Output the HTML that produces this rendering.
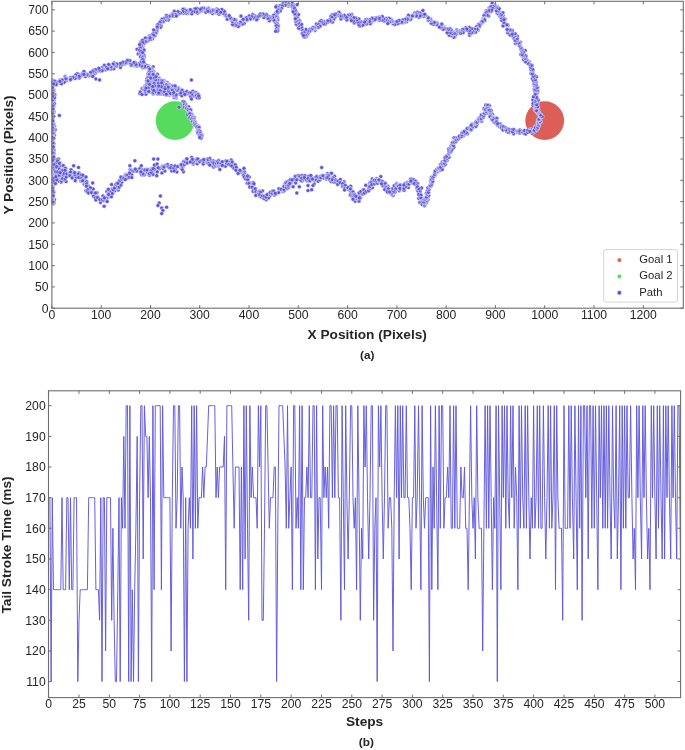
<!DOCTYPE html><html><head><meta charset="utf-8"><title>Trajectory and tail stroke time</title>
<style>html,body{margin:0;padding:0;background:#fff}svg{display:block}text{font-family:"Liberation Sans",sans-serif;fill:#262626}.t{font-size:12.2px}.l{font-size:11.3px}.b{font-weight:bold;font-size:13.7px}.c{font-weight:bold;font-size:11.8px}</style></head><body>
<svg width="685" height="750" viewBox="0 0 685 750">
<rect width="685" height="750" fill="#fff"/>
<defs><clipPath id="c1"><rect x="51.9" y="1.3" width="631.4" height="306.9"/></clipPath><clipPath id="c2"><rect x="48.5" y="390.8" width="632.1" height="306.8"/></clipPath></defs>
<g clip-path="url(#c1)">
<circle cx="544.7" cy="120.6" r="19.4" fill="#db5f57"/>
<circle cx="175.1" cy="120.6" r="19.4" fill="#57db5f"/>
<g fill="#5f57db" stroke="#fff" stroke-width=".45">
<circle cx="52.9" cy="120.5" r="2"/>
<circle cx="53.3" cy="89.1" r="2"/>
<circle cx="52.3" cy="147" r="2"/>
<circle cx="52.4" cy="143.4" r="2"/>
<circle cx="52.4" cy="84.7" r="2"/>
<circle cx="52.3" cy="91.3" r="2"/>
<circle cx="52.3" cy="133.1" r="2"/>
<circle cx="52.6" cy="107.9" r="2"/>
<circle cx="53.3" cy="158.4" r="2"/>
<circle cx="52.5" cy="129.6" r="2"/>
<circle cx="54" cy="202" r="2"/>
<circle cx="52.7" cy="116.2" r="2"/>
<circle cx="52.7" cy="98" r="2"/>
<circle cx="52.7" cy="182" r="2"/>
<circle cx="53.3" cy="102.6" r="2"/>
<circle cx="52.8" cy="126.5" r="2"/>
<circle cx="52.4" cy="148.5" r="2"/>
<circle cx="52.2" cy="105.7" r="2"/>
<circle cx="52.9" cy="165" r="2"/>
<circle cx="52.5" cy="153.2" r="2"/>
<circle cx="52.6" cy="136.6" r="2"/>
<circle cx="53.8" cy="167.4" r="2"/>
<circle cx="53.2" cy="110.5" r="2"/>
<circle cx="52.7" cy="189.4" r="2"/>
<circle cx="52.8" cy="171.2" r="2"/>
<circle cx="54.8" cy="94.8" r="2"/>
<circle cx="52.1" cy="132.3" r="2"/>
<circle cx="52.7" cy="141.1" r="2"/>
<circle cx="52.9" cy="84.9" r="2"/>
<circle cx="53.6" cy="151.6" r="2"/>
<circle cx="52.7" cy="189.4" r="2"/>
<circle cx="53.5" cy="154.3" r="2"/>
<circle cx="53.9" cy="152.5" r="2"/>
<circle cx="52.6" cy="198.1" r="2"/>
<circle cx="52.3" cy="139.3" r="2"/>
<circle cx="52.4" cy="167.7" r="2"/>
<circle cx="54" cy="160.9" r="2"/>
<circle cx="52.2" cy="115.6" r="2"/>
<circle cx="52.2" cy="128.2" r="2"/>
<circle cx="52.3" cy="137.7" r="2"/>
<circle cx="52.4" cy="101" r="2"/>
<circle cx="52.3" cy="176" r="2"/>
<circle cx="52.1" cy="96.2" r="2"/>
<circle cx="53.1" cy="188.9" r="2"/>
<circle cx="53.3" cy="90.1" r="2"/>
<circle cx="52.5" cy="190.4" r="2"/>
<circle cx="52.6" cy="182.4" r="2"/>
<circle cx="52.7" cy="131.9" r="2"/>
<circle cx="54" cy="124.8" r="2"/>
<circle cx="53.8" cy="98.9" r="2"/>
<circle cx="52.2" cy="102" r="2"/>
<circle cx="52.8" cy="140.6" r="2"/>
<circle cx="52.1" cy="153.6" r="2"/>
<circle cx="52.2" cy="132.4" r="2"/>
<circle cx="54.4" cy="126.2" r="2"/>
<circle cx="53.1" cy="166.3" r="2"/>
<circle cx="53.2" cy="144.4" r="2"/>
<circle cx="53.1" cy="86.7" r="2"/>
<circle cx="52.5" cy="192.4" r="2"/>
<circle cx="54.1" cy="179.7" r="2"/>
<circle cx="52.5" cy="129" r="2"/>
<circle cx="52.4" cy="159.3" r="2"/>
<circle cx="52.7" cy="87.8" r="2"/>
<circle cx="52.4" cy="100.3" r="2"/>
<circle cx="52.1" cy="122.5" r="2"/>
<circle cx="52.1" cy="98.9" r="2"/>
<circle cx="52.2" cy="92.7" r="2"/>
<circle cx="52.3" cy="189.3" r="2"/>
<circle cx="52.6" cy="156.8" r="2"/>
<circle cx="52.7" cy="123.4" r="2"/>
<circle cx="53.5" cy="125.5" r="2"/>
<circle cx="53.5" cy="204.1" r="2"/>
<circle cx="52.5" cy="138.2" r="2"/>
<circle cx="52.1" cy="92.8" r="2"/>
<circle cx="52.3" cy="122.8" r="2"/>
<circle cx="54" cy="100.2" r="2"/>
<circle cx="53.3" cy="82.9" r="2"/>
<circle cx="52.5" cy="98.3" r="2"/>
<circle cx="53.3" cy="147.9" r="2"/>
<circle cx="52.3" cy="202.3" r="2"/>
<circle cx="52.4" cy="187.9" r="2"/>
<circle cx="52.8" cy="125.8" r="2"/>
<circle cx="52.3" cy="100.9" r="2"/>
<circle cx="53.3" cy="177.4" r="2"/>
<circle cx="52.4" cy="121.2" r="2"/>
<circle cx="53.9" cy="203.1" r="2"/>
<circle cx="52.7" cy="186.6" r="2"/>
<circle cx="53.8" cy="172.5" r="2"/>
<circle cx="53" cy="108.3" r="2"/>
<circle cx="52.2" cy="83.6" r="2"/>
<circle cx="52.2" cy="83.5" r="2"/>
<circle cx="52.9" cy="166.6" r="2"/>
<circle cx="54.3" cy="199.6" r="2"/>
<circle cx="52.9" cy="203.5" r="2"/>
<circle cx="52.6" cy="199.4" r="2"/>
<circle cx="52.6" cy="108.4" r="2"/>
<circle cx="52.5" cy="104.6" r="2"/>
<circle cx="53.4" cy="192.5" r="2"/>
<circle cx="53.5" cy="185.1" r="2"/>
<circle cx="52.3" cy="180" r="2"/>
<circle cx="53.3" cy="90.6" r="2"/>
<circle cx="54" cy="177.8" r="2"/>
<circle cx="52.7" cy="173.8" r="2"/>
<circle cx="52.2" cy="178.6" r="2"/>
<circle cx="52.9" cy="121.6" r="2"/>
<circle cx="54.6" cy="129.5" r="2"/>
<circle cx="53.6" cy="130.2" r="2"/>
<circle cx="52.6" cy="101.3" r="2"/>
<circle cx="53.4" cy="95.9" r="2"/>
<circle cx="53.9" cy="180.8" r="2"/>
<circle cx="53.4" cy="98.3" r="2"/>
<circle cx="54.6" cy="162.2" r="2"/>
<circle cx="52.6" cy="123.8" r="2"/>
<circle cx="52.3" cy="81.8" r="2"/>
<circle cx="52.8" cy="201.4" r="2"/>
<circle cx="53.1" cy="196.7" r="2"/>
<circle cx="53.4" cy="134.2" r="2"/>
<circle cx="53.4" cy="106.4" r="2"/>
<circle cx="52.3" cy="111.5" r="2"/>
<circle cx="52.8" cy="153.3" r="2"/>
<circle cx="52.6" cy="112.4" r="2"/>
<circle cx="52.4" cy="193.8" r="2"/>
<circle cx="53.4" cy="124.2" r="2"/>
<circle cx="52.4" cy="193" r="2"/>
<circle cx="53.1" cy="132.6" r="2"/>
<circle cx="52.7" cy="146.5" r="2"/>
<circle cx="53.2" cy="145.4" r="2"/>
<circle cx="52.2" cy="102.9" r="2"/>
<circle cx="52.3" cy="80.5" r="2"/>
<circle cx="52.7" cy="139.2" r="2"/>
<circle cx="52.9" cy="170.6" r="2"/>
<circle cx="52.4" cy="144.8" r="2"/>
<circle cx="52.2" cy="149.4" r="2"/>
<circle cx="52.6" cy="150" r="2"/>
<circle cx="52.4" cy="111.1" r="2"/>
<circle cx="53.8" cy="143.5" r="2"/>
<circle cx="52.2" cy="150.2" r="2"/>
<circle cx="54.3" cy="135.4" r="2"/>
<circle cx="53.3" cy="156.6" r="2"/>
<circle cx="52.1" cy="166.6" r="2"/>
<circle cx="53.2" cy="136.5" r="2"/>
<circle cx="52.3" cy="197.7" r="2"/>
<circle cx="53.8" cy="167.4" r="2"/>
<circle cx="53.8" cy="112.4" r="2"/>
<circle cx="53.9" cy="149.9" r="2"/>
<circle cx="52.8" cy="97.1" r="2"/>
<circle cx="52.5" cy="95.2" r="2"/>
<circle cx="52.2" cy="110.1" r="2"/>
<circle cx="52.9" cy="89.1" r="2"/>
<circle cx="53.6" cy="192.1" r="2"/>
<circle cx="52.4" cy="99.3" r="2"/>
<circle cx="53.5" cy="97.9" r="2"/>
<circle cx="52.8" cy="190.4" r="2"/>
<circle cx="52.2" cy="199.1" r="2"/>
<circle cx="55.1" cy="129.8" r="2"/>
<circle cx="52.3" cy="184.1" r="2"/>
<circle cx="53.2" cy="100.2" r="2"/>
<circle cx="52.6" cy="122.4" r="2"/>
<circle cx="52.8" cy="104.5" r="2"/>
<circle cx="53.6" cy="82.4" r="2"/>
<circle cx="52.3" cy="149.3" r="2"/>
<circle cx="52.2" cy="121.4" r="2"/>
<circle cx="52.5" cy="158" r="2"/>
<circle cx="52.1" cy="203.1" r="2"/>
<circle cx="52.6" cy="178.5" r="2"/>
<circle cx="52.2" cy="113.2" r="2"/>
<circle cx="52.2" cy="84.9" r="2"/>
<circle cx="52.9" cy="96.2" r="2"/>
<circle cx="53.7" cy="132.8" r="2"/>
<circle cx="53.1" cy="112.3" r="2"/>
<circle cx="53.2" cy="98.7" r="2"/>
<circle cx="52.7" cy="167.6" r="2"/>
<circle cx="53.5" cy="91.2" r="2"/>
<circle cx="52.6" cy="133.2" r="2"/>
<circle cx="53.4" cy="89.1" r="2"/>
<circle cx="52.6" cy="180.2" r="2"/>
<circle cx="52.3" cy="90.5" r="2"/>
<circle cx="52.4" cy="187.8" r="2"/>
<circle cx="52.8" cy="136.7" r="2"/>
<circle cx="53.2" cy="195.8" r="2"/>
<circle cx="52.9" cy="113.5" r="2"/>
<circle cx="53" cy="109.8" r="2"/>
<circle cx="52.3" cy="93.7" r="2"/>
<circle cx="52.4" cy="105.2" r="2"/>
<circle cx="52.7" cy="119" r="2"/>
<circle cx="53.7" cy="116.2" r="2"/>
<circle cx="52.5" cy="142.5" r="2"/>
<circle cx="52.9" cy="82.3" r="2"/>
<circle cx="53.7" cy="111.3" r="2"/>
<circle cx="52.3" cy="148.9" r="2"/>
<circle cx="54.4" cy="103.7" r="2"/>
<circle cx="52.5" cy="93.3" r="2"/>
<circle cx="53.2" cy="182.4" r="2"/>
<circle cx="52.6" cy="184.3" r="2"/>
<circle cx="53.6" cy="129.1" r="2"/>
<circle cx="52.2" cy="202.8" r="2"/>
<circle cx="52.9" cy="122.8" r="2"/>
<circle cx="53.5" cy="159.5" r="2"/>
<circle cx="52.3" cy="130.6" r="2"/>
<circle cx="52.4" cy="96.2" r="2"/>
<circle cx="52.1" cy="88.8" r="2"/>
<circle cx="52.9" cy="100.4" r="2"/>
<circle cx="53.2" cy="90.6" r="2"/>
<circle cx="53.8" cy="163.8" r="2"/>
<circle cx="52.1" cy="115.2" r="2"/>
<circle cx="52.9" cy="137.4" r="2"/>
<circle cx="52.8" cy="99.7" r="2"/>
<circle cx="52.4" cy="200.2" r="2"/>
<circle cx="52.8" cy="201.6" r="2"/>
<circle cx="52.3" cy="200.7" r="2"/>
<circle cx="52.1" cy="118.7" r="2"/>
<circle cx="52.1" cy="127.7" r="2"/>
<circle cx="52.8" cy="139.3" r="2"/>
<circle cx="52.1" cy="143.1" r="2"/>
<circle cx="52.1" cy="80.6" r="2"/>
<circle cx="52.5" cy="129.9" r="2"/>
<circle cx="52.9" cy="85.2" r="2"/>
<circle cx="52.2" cy="109.1" r="2"/>
<circle cx="53.7" cy="153.2" r="2"/>
<circle cx="52.4" cy="162.2" r="2"/>
<circle cx="52.8" cy="169.5" r="2"/>
<circle cx="52.8" cy="120.8" r="2"/>
<circle cx="53" cy="203.1" r="2"/>
<circle cx="53.4" cy="160.4" r="2"/>
<circle cx="53.2" cy="85.5" r="2"/>
<circle cx="53.9" cy="158.4" r="2"/>
<circle cx="52.3" cy="171.7" r="2"/>
<circle cx="52.6" cy="145.5" r="2"/>
<circle cx="53" cy="143" r="2"/>
<circle cx="53.7" cy="183.3" r="2"/>
<circle cx="53.3" cy="153" r="2"/>
<circle cx="53" cy="166.7" r="2"/>
<circle cx="52.6" cy="108.7" r="2"/>
<circle cx="52.2" cy="125.1" r="2"/>
<circle cx="52.8" cy="93.1" r="2"/>
<circle cx="53.2" cy="158.5" r="2"/>
<circle cx="52.6" cy="158.3" r="2"/>
<circle cx="53.2" cy="80.4" r="2"/>
<circle cx="52.1" cy="179.7" r="2"/>
<circle cx="53.3" cy="146.9" r="2"/>
<circle cx="53.6" cy="162.4" r="2"/>
<circle cx="52.8" cy="111.5" r="2"/>
<circle cx="52.3" cy="89.3" r="2"/>
<circle cx="53.7" cy="105.7" r="2"/>
<circle cx="53.3" cy="172.5" r="2"/>
<circle cx="52.3" cy="127.8" r="2"/>
<circle cx="52.8" cy="139.9" r="2"/>
<circle cx="53.7" cy="157.1" r="2"/>
<circle cx="52.6" cy="160.3" r="2"/>
<circle cx="52.4" cy="111.7" r="2"/>
<circle cx="52.5" cy="172.9" r="2"/>
<circle cx="53.3" cy="81.6" r="2"/>
<circle cx="52.3" cy="87.6" r="2"/>
<circle cx="53.6" cy="166.5" r="2"/>
<circle cx="52.4" cy="164.5" r="2"/>
<circle cx="53.3" cy="138.1" r="2"/>
<circle cx="53.7" cy="138.3" r="2"/>
<circle cx="53.5" cy="104.9" r="2"/>
<circle cx="52.3" cy="202.3" r="2"/>
<circle cx="52.2" cy="137.4" r="2"/>
<circle cx="53.2" cy="182.5" r="2"/>
<circle cx="52.3" cy="113.6" r="2"/>
<circle cx="52.7" cy="106.2" r="2"/>
<circle cx="52.3" cy="152.7" r="2"/>
<circle cx="54.5" cy="97.7" r="2"/>
<circle cx="52.5" cy="96.6" r="2"/>
<circle cx="54.2" cy="182.5" r="2"/>
<circle cx="52.2" cy="167.9" r="2"/>
<circle cx="53" cy="108.9" r="2"/>
<circle cx="52.8" cy="83.1" r="2"/>
<circle cx="54" cy="167.1" r="2"/>
<circle cx="57.6" cy="172.3" r="2"/>
<circle cx="55.7" cy="169.8" r="2"/>
<circle cx="64.1" cy="175.3" r="2"/>
<circle cx="54" cy="172" r="2"/>
<circle cx="55.4" cy="163.4" r="2"/>
<circle cx="65.1" cy="169.8" r="2"/>
<circle cx="57.5" cy="162.6" r="2"/>
<circle cx="58.5" cy="159.1" r="2"/>
<circle cx="61.1" cy="182.3" r="2"/>
<circle cx="58.3" cy="168.8" r="2"/>
<circle cx="54.6" cy="173.6" r="2"/>
<circle cx="55.2" cy="173.9" r="2"/>
<circle cx="65.2" cy="168.8" r="2"/>
<circle cx="57" cy="171.5" r="2"/>
<circle cx="56.3" cy="177.4" r="2"/>
<circle cx="58.5" cy="181" r="2"/>
<circle cx="63.7" cy="169.5" r="2"/>
<circle cx="61.6" cy="181.2" r="2"/>
<circle cx="60.6" cy="166.5" r="2"/>
<circle cx="62.6" cy="179" r="2"/>
<circle cx="59.4" cy="174.2" r="2"/>
<circle cx="63" cy="169.7" r="2"/>
<circle cx="54.6" cy="169.1" r="2"/>
<circle cx="65.1" cy="175.5" r="2"/>
<circle cx="58.1" cy="175.6" r="2"/>
<circle cx="57.6" cy="171.2" r="2"/>
<circle cx="57.1" cy="159.7" r="2"/>
<circle cx="61.9" cy="170.2" r="2"/>
<circle cx="58.7" cy="177.5" r="2"/>
<circle cx="56" cy="173.6" r="2"/>
<circle cx="64.9" cy="174.6" r="2"/>
<circle cx="60" cy="173.8" r="2"/>
<circle cx="66" cy="181.6" r="2"/>
<circle cx="59.4" cy="173.9" r="2"/>
<circle cx="55.1" cy="174.3" r="2"/>
<circle cx="58.1" cy="174.8" r="2"/>
<circle cx="57.1" cy="173.8" r="2"/>
<circle cx="60.8" cy="177.7" r="2"/>
<circle cx="59" cy="167.1" r="2"/>
<circle cx="59" cy="167.7" r="2"/>
<circle cx="58.1" cy="171.3" r="2"/>
<circle cx="54.7" cy="170" r="2"/>
<circle cx="55.5" cy="183.6" r="2"/>
<circle cx="60" cy="165.8" r="2"/>
<circle cx="56.6" cy="165.5" r="2"/>
<circle cx="57.3" cy="172" r="2"/>
<circle cx="59.4" cy="176.5" r="2"/>
<circle cx="65.4" cy="177.3" r="2"/>
<circle cx="54.3" cy="164.6" r="2"/>
<circle cx="54.4" cy="169.6" r="2"/>
<circle cx="59.7" cy="162.7" r="2"/>
<circle cx="61" cy="176.5" r="2"/>
<circle cx="65.1" cy="172" r="2"/>
<circle cx="63.9" cy="179.4" r="2"/>
<circle cx="57" cy="162.5" r="2"/>
<circle cx="55.3" cy="175.1" r="2"/>
<circle cx="62.2" cy="176.5" r="2"/>
<circle cx="65.3" cy="170.9" r="2"/>
<circle cx="63.2" cy="165.6" r="2"/>
<circle cx="59.5" cy="170.8" r="2"/>
<circle cx="63.4" cy="171.6" r="2"/>
<circle cx="56.8" cy="177.7" r="2"/>
<circle cx="57.6" cy="168.9" r="2"/>
<circle cx="55.5" cy="171.9" r="2"/>
<circle cx="62.4" cy="178.4" r="2"/>
<circle cx="55.3" cy="177" r="2"/>
<circle cx="61" cy="174.3" r="2"/>
<circle cx="58.7" cy="173" r="2"/>
<circle cx="54.1" cy="178" r="2"/>
<circle cx="57.6" cy="161" r="2"/>
<circle cx="61.7" cy="174.8" r="2"/>
<circle cx="64.6" cy="168.7" r="2"/>
<circle cx="57" cy="172.5" r="2"/>
<circle cx="65.5" cy="170.9" r="2"/>
<circle cx="54.3" cy="168.3" r="2"/>
<circle cx="60" cy="169.9" r="2"/>
<circle cx="57.1" cy="167.8" r="2"/>
<circle cx="62" cy="174.9" r="2"/>
<circle cx="54.4" cy="170.5" r="2"/>
<circle cx="58.1" cy="166" r="2"/>
<circle cx="56.4" cy="175.3" r="2"/>
<circle cx="63.6" cy="171.6" r="2"/>
<circle cx="56.5" cy="166.7" r="2"/>
<circle cx="65.6" cy="168.8" r="2"/>
<circle cx="56.8" cy="179.7" r="2"/>
<circle cx="56.7" cy="172.2" r="2"/>
<circle cx="65.4" cy="168.2" r="2"/>
<circle cx="59.9" cy="173.2" r="2"/>
<circle cx="59" cy="175" r="2"/>
<circle cx="55.2" cy="171.5" r="2"/>
<circle cx="55.9" cy="176.7" r="2"/>
<circle cx="55.9" cy="171.8" r="2"/>
<circle cx="59.3" cy="169.1" r="2"/>
<circle cx="61.5" cy="171.2" r="2"/>
<circle cx="59.3" cy="175.2" r="2"/>
<circle cx="61.3" cy="171.5" r="2"/>
<circle cx="57.8" cy="172" r="2"/>
<circle cx="61.1" cy="170.8" r="2"/>
<circle cx="61.2" cy="171" r="2"/>
<circle cx="61.7" cy="173.7" r="2"/>
<circle cx="62.6" cy="170.5" r="2"/>
<circle cx="60.1" cy="172.7" r="2"/>
<circle cx="63.7" cy="174.9" r="2"/>
<circle cx="65.5" cy="173.9" r="2"/>
<circle cx="64.2" cy="173.4" r="2"/>
<circle cx="68.2" cy="175.7" r="2"/>
<circle cx="65" cy="170.3" r="2"/>
<circle cx="65.1" cy="178.9" r="2"/>
<circle cx="66.3" cy="176.9" r="2"/>
<circle cx="66.9" cy="173.9" r="2"/>
<circle cx="70.2" cy="172.1" r="2"/>
<circle cx="69.9" cy="173.4" r="2"/>
<circle cx="73.5" cy="171.9" r="2"/>
<circle cx="69.6" cy="175.2" r="2"/>
<circle cx="71.4" cy="172.7" r="2"/>
<circle cx="71" cy="169.7" r="2"/>
<circle cx="70.6" cy="172.1" r="2"/>
<circle cx="70.1" cy="175.7" r="2"/>
<circle cx="73.8" cy="176.2" r="2"/>
<circle cx="74.1" cy="173.4" r="2"/>
<circle cx="72.1" cy="177.9" r="2"/>
<circle cx="76.8" cy="173.5" r="2"/>
<circle cx="77.2" cy="174.9" r="2"/>
<circle cx="75" cy="174.8" r="2"/>
<circle cx="74.6" cy="172.7" r="2"/>
<circle cx="79" cy="172.9" r="2"/>
<circle cx="78.5" cy="174" r="2"/>
<circle cx="76.3" cy="178.1" r="2"/>
<circle cx="78.8" cy="177.6" r="2"/>
<circle cx="81.2" cy="174.9" r="2"/>
<circle cx="75.2" cy="180.7" r="2"/>
<circle cx="80.9" cy="181.1" r="2"/>
<circle cx="81.9" cy="178.1" r="2"/>
<circle cx="82.9" cy="175.2" r="2"/>
<circle cx="83.6" cy="179.6" r="2"/>
<circle cx="84.1" cy="184" r="2"/>
<circle cx="84.5" cy="179.2" r="2"/>
<circle cx="82" cy="181" r="2"/>
<circle cx="84.7" cy="180.8" r="2"/>
<circle cx="83.2" cy="180.6" r="2"/>
<circle cx="85.3" cy="182.9" r="2"/>
<circle cx="82.6" cy="180.8" r="2"/>
<circle cx="86.9" cy="183.1" r="2"/>
<circle cx="86.5" cy="185.3" r="2"/>
<circle cx="86.7" cy="181.8" r="2"/>
<circle cx="88" cy="185.7" r="2"/>
<circle cx="86.5" cy="184.7" r="2"/>
<circle cx="86.6" cy="183.9" r="2"/>
<circle cx="86" cy="190.8" r="2"/>
<circle cx="86.4" cy="186.3" r="2"/>
<circle cx="92.7" cy="182.9" r="2"/>
<circle cx="89.8" cy="191.2" r="2"/>
<circle cx="93.2" cy="189" r="2"/>
<circle cx="90.4" cy="187.8" r="2"/>
<circle cx="89.1" cy="190.8" r="2"/>
<circle cx="87.6" cy="189.7" r="2"/>
<circle cx="93.2" cy="193.2" r="2"/>
<circle cx="90" cy="192" r="2"/>
<circle cx="87.2" cy="191.8" r="2"/>
<circle cx="88.5" cy="193" r="2"/>
<circle cx="93.1" cy="194.6" r="2"/>
<circle cx="95.4" cy="193.8" r="2"/>
<circle cx="95" cy="193.3" r="2"/>
<circle cx="91.6" cy="192.6" r="2"/>
<circle cx="94.6" cy="193.8" r="2"/>
<circle cx="96.9" cy="192.8" r="2"/>
<circle cx="95.6" cy="198" r="2"/>
<circle cx="95.1" cy="197.4" r="2"/>
<circle cx="95.5" cy="193" r="2"/>
<circle cx="93.6" cy="196.2" r="2"/>
<circle cx="97.5" cy="197.1" r="2"/>
<circle cx="95.2" cy="197.8" r="2"/>
<circle cx="95.9" cy="200.1" r="2"/>
<circle cx="97.6" cy="197.5" r="2"/>
<circle cx="102" cy="199.6" r="2"/>
<circle cx="100.5" cy="202.5" r="2"/>
<circle cx="99.9" cy="199.6" r="2"/>
<circle cx="102.3" cy="199.9" r="2"/>
<circle cx="104" cy="200.4" r="2"/>
<circle cx="105.6" cy="199.9" r="2"/>
<circle cx="103" cy="195.9" r="2"/>
<circle cx="106.1" cy="199.2" r="2"/>
<circle cx="105.3" cy="197.6" r="2"/>
<circle cx="108" cy="197.1" r="2"/>
<circle cx="107.2" cy="201.6" r="2"/>
<circle cx="109.7" cy="195.1" r="2"/>
<circle cx="106.9" cy="191.6" r="2"/>
<circle cx="104.4" cy="197.9" r="2"/>
<circle cx="107.9" cy="193.8" r="2"/>
<circle cx="109" cy="195.7" r="2"/>
<circle cx="108.6" cy="194.9" r="2"/>
<circle cx="108.4" cy="193.7" r="2"/>
<circle cx="111.4" cy="196.8" r="2"/>
<circle cx="110.9" cy="191.7" r="2"/>
<circle cx="112.4" cy="193.4" r="2"/>
<circle cx="108.7" cy="194.5" r="2"/>
<circle cx="108.3" cy="189.3" r="2"/>
<circle cx="114.8" cy="190.8" r="2"/>
<circle cx="113.3" cy="189" r="2"/>
<circle cx="112.3" cy="188.9" r="2"/>
<circle cx="113.3" cy="189.8" r="2"/>
<circle cx="118.2" cy="190" r="2"/>
<circle cx="111.6" cy="184.6" r="2"/>
<circle cx="114.9" cy="186.7" r="2"/>
<circle cx="117" cy="188.2" r="2"/>
<circle cx="114.6" cy="188.1" r="2"/>
<circle cx="118.2" cy="187.6" r="2"/>
<circle cx="117.7" cy="186.3" r="2"/>
<circle cx="119.3" cy="187" r="2"/>
<circle cx="116.1" cy="184.2" r="2"/>
<circle cx="116.9" cy="183.2" r="2"/>
<circle cx="119.9" cy="183.5" r="2"/>
<circle cx="121" cy="184.9" r="2"/>
<circle cx="119.5" cy="180.3" r="2"/>
<circle cx="121.9" cy="182.1" r="2"/>
<circle cx="117.8" cy="183.2" r="2"/>
<circle cx="122.6" cy="179.3" r="2"/>
<circle cx="120.7" cy="179.8" r="2"/>
<circle cx="119.9" cy="180.4" r="2"/>
<circle cx="121.4" cy="179.1" r="2"/>
<circle cx="123.3" cy="178.4" r="2"/>
<circle cx="120.9" cy="177.1" r="2"/>
<circle cx="124.1" cy="176.9" r="2"/>
<circle cx="123.8" cy="178.5" r="2"/>
<circle cx="125.6" cy="174.6" r="2"/>
<circle cx="126.8" cy="174.9" r="2"/>
<circle cx="125.9" cy="175.2" r="2"/>
<circle cx="127.5" cy="177.9" r="2"/>
<circle cx="125.3" cy="179.6" r="2"/>
<circle cx="129.5" cy="173.7" r="2"/>
<circle cx="126.3" cy="175.3" r="2"/>
<circle cx="127.5" cy="175.1" r="2"/>
<circle cx="130.8" cy="174.7" r="2"/>
<circle cx="131.6" cy="174.6" r="2"/>
<circle cx="130.2" cy="169.8" r="2"/>
<circle cx="129.4" cy="177.2" r="2"/>
<circle cx="131.8" cy="177.6" r="2"/>
<circle cx="131.3" cy="170.3" r="2"/>
<circle cx="129.5" cy="173.1" r="2"/>
<circle cx="134.8" cy="170.5" r="2"/>
<circle cx="132.7" cy="171" r="2"/>
<circle cx="133.9" cy="170.9" r="2"/>
<circle cx="135.8" cy="171.1" r="2"/>
<circle cx="137.3" cy="170" r="2"/>
<circle cx="136.9" cy="171.1" r="2"/>
<circle cx="135.3" cy="169.1" r="2"/>
<circle cx="140.3" cy="172.5" r="2"/>
<circle cx="139.8" cy="168.4" r="2"/>
<circle cx="142.8" cy="173.5" r="2"/>
<circle cx="140.7" cy="171.8" r="2"/>
<circle cx="140.5" cy="172.5" r="2"/>
<circle cx="142.1" cy="170.1" r="2"/>
<circle cx="140.6" cy="171.6" r="2"/>
<circle cx="144.5" cy="174.7" r="2"/>
<circle cx="141.7" cy="174.8" r="2"/>
<circle cx="143" cy="174.7" r="2"/>
<circle cx="142.9" cy="173.7" r="2"/>
<circle cx="141" cy="171.9" r="2"/>
<circle cx="147" cy="172.1" r="2"/>
<circle cx="145.8" cy="169.6" r="2"/>
<circle cx="144.9" cy="170.5" r="2"/>
<circle cx="149.8" cy="172.3" r="2"/>
<circle cx="148.3" cy="170.2" r="2"/>
<circle cx="148.1" cy="169.6" r="2"/>
<circle cx="144.9" cy="169.9" r="2"/>
<circle cx="147" cy="170" r="2"/>
<circle cx="149.5" cy="175.2" r="2"/>
<circle cx="150.7" cy="173.7" r="2"/>
<circle cx="152.9" cy="173.1" r="2"/>
<circle cx="151.9" cy="168.7" r="2"/>
<circle cx="150.9" cy="170.3" r="2"/>
<circle cx="149.3" cy="173.7" r="2"/>
<circle cx="153.1" cy="170.6" r="2"/>
<circle cx="153" cy="174.4" r="2"/>
<circle cx="151.1" cy="172.4" r="2"/>
<circle cx="152.1" cy="169.9" r="2"/>
<circle cx="155.1" cy="165.9" r="2"/>
<circle cx="154.9" cy="169.3" r="2"/>
<circle cx="154.5" cy="164.9" r="2"/>
<circle cx="153.3" cy="168.6" r="2"/>
<circle cx="158.5" cy="168.6" r="2"/>
<circle cx="158" cy="168.6" r="2"/>
<circle cx="157.1" cy="164" r="2"/>
<circle cx="159.5" cy="168.8" r="2"/>
<circle cx="158.3" cy="167.7" r="2"/>
<circle cx="161.9" cy="172.9" r="2"/>
<circle cx="164.9" cy="171.1" r="2"/>
<circle cx="157.2" cy="171.9" r="2"/>
<circle cx="162.3" cy="166.2" r="2"/>
<circle cx="162.2" cy="167.5" r="2"/>
<circle cx="163.2" cy="168.6" r="2"/>
<circle cx="165.2" cy="165.4" r="2"/>
<circle cx="163.8" cy="166.7" r="2"/>
<circle cx="164.1" cy="167.1" r="2"/>
<circle cx="168.5" cy="167.1" r="2"/>
<circle cx="167.4" cy="166.3" r="2"/>
<circle cx="167.2" cy="164.4" r="2"/>
<circle cx="167.8" cy="164.7" r="2"/>
<circle cx="168.3" cy="166.7" r="2"/>
<circle cx="169.4" cy="167.8" r="2"/>
<circle cx="171.4" cy="165.7" r="2"/>
<circle cx="171.7" cy="170.9" r="2"/>
<circle cx="170.9" cy="167.7" r="2"/>
<circle cx="174.2" cy="168.7" r="2"/>
<circle cx="174.2" cy="167.6" r="2"/>
<circle cx="174.9" cy="169.3" r="2"/>
<circle cx="176.9" cy="172" r="2"/>
<circle cx="175.3" cy="168.9" r="2"/>
<circle cx="173.7" cy="168.1" r="2"/>
<circle cx="175" cy="165.9" r="2"/>
<circle cx="174.1" cy="171" r="2"/>
<circle cx="177.7" cy="166.6" r="2"/>
<circle cx="183.4" cy="171.7" r="2"/>
<circle cx="181.3" cy="168.2" r="2"/>
<circle cx="182.5" cy="167.4" r="2"/>
<circle cx="180.6" cy="165.1" r="2"/>
<circle cx="182.2" cy="169.6" r="2"/>
<circle cx="181.4" cy="165.6" r="2"/>
<circle cx="182.1" cy="166.1" r="2"/>
<circle cx="183.8" cy="161.6" r="2"/>
<circle cx="181.4" cy="164.6" r="2"/>
<circle cx="185.8" cy="163.4" r="2"/>
<circle cx="186.1" cy="159.7" r="2"/>
<circle cx="184.4" cy="164.7" r="2"/>
<circle cx="186.2" cy="160.5" r="2"/>
<circle cx="186.2" cy="163.3" r="2"/>
<circle cx="185.5" cy="161.9" r="2"/>
<circle cx="186.8" cy="159.6" r="2"/>
<circle cx="187.2" cy="162.9" r="2"/>
<circle cx="186.9" cy="158.8" r="2"/>
<circle cx="192.7" cy="159.3" r="2"/>
<circle cx="191.7" cy="157.4" r="2"/>
<circle cx="193.2" cy="163.9" r="2"/>
<circle cx="191.8" cy="161.2" r="2"/>
<circle cx="191.6" cy="160.1" r="2"/>
<circle cx="193.4" cy="162.4" r="2"/>
<circle cx="193" cy="162.3" r="2"/>
<circle cx="194.7" cy="160.4" r="2"/>
<circle cx="192.5" cy="159.4" r="2"/>
<circle cx="198.2" cy="159.2" r="2"/>
<circle cx="197.2" cy="163.7" r="2"/>
<circle cx="196.6" cy="158.7" r="2"/>
<circle cx="196.2" cy="159.7" r="2"/>
<circle cx="199.2" cy="161.8" r="2"/>
<circle cx="197.3" cy="160.1" r="2"/>
<circle cx="196.8" cy="159.7" r="2"/>
<circle cx="203.7" cy="160.1" r="2"/>
<circle cx="197.8" cy="159" r="2"/>
<circle cx="199.9" cy="161.7" r="2"/>
<circle cx="204.4" cy="161.8" r="2"/>
<circle cx="204.9" cy="161.2" r="2"/>
<circle cx="204.6" cy="160.1" r="2"/>
<circle cx="201.8" cy="160.6" r="2"/>
<circle cx="207.6" cy="161.4" r="2"/>
<circle cx="203.2" cy="164" r="2"/>
<circle cx="203.4" cy="161.2" r="2"/>
<circle cx="207.2" cy="162.8" r="2"/>
<circle cx="203.8" cy="159.6" r="2"/>
<circle cx="208.7" cy="159.2" r="2"/>
<circle cx="208.2" cy="163.5" r="2"/>
<circle cx="207.5" cy="158.9" r="2"/>
<circle cx="209" cy="163.3" r="2"/>
<circle cx="208.2" cy="159.7" r="2"/>
<circle cx="210" cy="158.5" r="2"/>
<circle cx="213.2" cy="163.3" r="2"/>
<circle cx="213.5" cy="167" r="2"/>
<circle cx="211.1" cy="160.5" r="2"/>
<circle cx="211.9" cy="161.6" r="2"/>
<circle cx="213.5" cy="160.9" r="2"/>
<circle cx="215.8" cy="166" r="2"/>
<circle cx="215.8" cy="162.4" r="2"/>
<circle cx="219.4" cy="164" r="2"/>
<circle cx="216.4" cy="161.8" r="2"/>
<circle cx="218.6" cy="160.6" r="2"/>
<circle cx="217.6" cy="164.8" r="2"/>
<circle cx="216.5" cy="163.7" r="2"/>
<circle cx="222.3" cy="162.9" r="2"/>
<circle cx="212.3" cy="165.4" r="2"/>
<circle cx="212.7" cy="162.5" r="2"/>
<circle cx="209.7" cy="165" r="2"/>
<circle cx="214.7" cy="163.5" r="2"/>
<circle cx="215.1" cy="165.2" r="2"/>
<circle cx="213.9" cy="164.1" r="2"/>
<circle cx="213.9" cy="163.1" r="2"/>
<circle cx="218.6" cy="166" r="2"/>
<circle cx="218.5" cy="164.5" r="2"/>
<circle cx="216.4" cy="163.2" r="2"/>
<circle cx="217.5" cy="161.8" r="2"/>
<circle cx="218.3" cy="164" r="2"/>
<circle cx="218.5" cy="163" r="2"/>
<circle cx="219.8" cy="169.4" r="2"/>
<circle cx="220.7" cy="164.9" r="2"/>
<circle cx="221.2" cy="164" r="2"/>
<circle cx="221.2" cy="163.5" r="2"/>
<circle cx="221.7" cy="164.2" r="2"/>
<circle cx="221" cy="163.2" r="2"/>
<circle cx="225.3" cy="166.2" r="2"/>
<circle cx="222.4" cy="161.7" r="2"/>
<circle cx="222.3" cy="165.4" r="2"/>
<circle cx="225.9" cy="160.9" r="2"/>
<circle cx="230" cy="164.6" r="2"/>
<circle cx="227.3" cy="161.1" r="2"/>
<circle cx="230.3" cy="161.8" r="2"/>
<circle cx="227.1" cy="163.6" r="2"/>
<circle cx="226.7" cy="163.4" r="2"/>
<circle cx="231.3" cy="160" r="2"/>
<circle cx="230.5" cy="162.3" r="2"/>
<circle cx="226.9" cy="161.3" r="2"/>
<circle cx="233.3" cy="164.5" r="2"/>
<circle cx="232.1" cy="162.6" r="2"/>
<circle cx="232.6" cy="162" r="2"/>
<circle cx="232.7" cy="164.4" r="2"/>
<circle cx="228.7" cy="164.4" r="2"/>
<circle cx="232" cy="162.1" r="2"/>
<circle cx="230.5" cy="165" r="2"/>
<circle cx="233.6" cy="168.2" r="2"/>
<circle cx="234.5" cy="165.5" r="2"/>
<circle cx="235.3" cy="164.7" r="2"/>
<circle cx="231.8" cy="166.1" r="2"/>
<circle cx="234.1" cy="168.1" r="2"/>
<circle cx="236.8" cy="169.6" r="2"/>
<circle cx="236.3" cy="167.2" r="2"/>
<circle cx="236" cy="170.3" r="2"/>
<circle cx="243.6" cy="170.9" r="2"/>
<circle cx="240.7" cy="171.2" r="2"/>
<circle cx="240.9" cy="172" r="2"/>
<circle cx="239.6" cy="170.2" r="2"/>
<circle cx="243.8" cy="170.2" r="2"/>
<circle cx="240" cy="170.4" r="2"/>
<circle cx="238.1" cy="173.5" r="2"/>
<circle cx="244" cy="168.3" r="2"/>
<circle cx="243.5" cy="172.8" r="2"/>
<circle cx="243.2" cy="173.3" r="2"/>
<circle cx="244.6" cy="172.4" r="2"/>
<circle cx="244.4" cy="174.2" r="2"/>
<circle cx="243.5" cy="175.4" r="2"/>
<circle cx="244.6" cy="177.8" r="2"/>
<circle cx="247.4" cy="175.4" r="2"/>
<circle cx="244.3" cy="176.9" r="2"/>
<circle cx="247" cy="177.5" r="2"/>
<circle cx="245.8" cy="179.1" r="2"/>
<circle cx="249.2" cy="176.9" r="2"/>
<circle cx="247.2" cy="176.2" r="2"/>
<circle cx="247.8" cy="179.8" r="2"/>
<circle cx="247.5" cy="176.1" r="2"/>
<circle cx="247.3" cy="183.2" r="2"/>
<circle cx="249.6" cy="182.7" r="2"/>
<circle cx="250" cy="183.4" r="2"/>
<circle cx="249" cy="183.5" r="2"/>
<circle cx="252.3" cy="183.6" r="2"/>
<circle cx="253.6" cy="184.5" r="2"/>
<circle cx="253.3" cy="182.8" r="2"/>
<circle cx="252.1" cy="186.6" r="2"/>
<circle cx="253.9" cy="183.8" r="2"/>
<circle cx="250.1" cy="186.5" r="2"/>
<circle cx="249.7" cy="187.1" r="2"/>
<circle cx="252.4" cy="187.5" r="2"/>
<circle cx="252.1" cy="187.3" r="2"/>
<circle cx="253.3" cy="189.9" r="2"/>
<circle cx="253.2" cy="191.5" r="2"/>
<circle cx="255.2" cy="190.6" r="2"/>
<circle cx="255.3" cy="188.8" r="2"/>
<circle cx="258.8" cy="191.4" r="2"/>
<circle cx="256.2" cy="192.3" r="2"/>
<circle cx="256" cy="191.8" r="2"/>
<circle cx="262.5" cy="190.9" r="2"/>
<circle cx="258.4" cy="192.7" r="2"/>
<circle cx="260.3" cy="193.4" r="2"/>
<circle cx="258.2" cy="192.5" r="2"/>
<circle cx="258.1" cy="194.1" r="2"/>
<circle cx="259.7" cy="191.6" r="2"/>
<circle cx="255.8" cy="195.4" r="2"/>
<circle cx="258.9" cy="194" r="2"/>
<circle cx="260.5" cy="192.3" r="2"/>
<circle cx="261.3" cy="195.9" r="2"/>
<circle cx="259.9" cy="196.3" r="2"/>
<circle cx="259.6" cy="194.9" r="2"/>
<circle cx="261.3" cy="197" r="2"/>
<circle cx="262.3" cy="195.9" r="2"/>
<circle cx="266.1" cy="199.7" r="2"/>
<circle cx="265.4" cy="195.8" r="2"/>
<circle cx="267.9" cy="198.4" r="2"/>
<circle cx="265.6" cy="196.7" r="2"/>
<circle cx="265.8" cy="195.9" r="2"/>
<circle cx="264" cy="198.5" r="2"/>
<circle cx="264.2" cy="196.2" r="2"/>
<circle cx="268.8" cy="197.6" r="2"/>
<circle cx="268.6" cy="194.2" r="2"/>
<circle cx="266" cy="197.1" r="2"/>
<circle cx="271.3" cy="192.1" r="2"/>
<circle cx="267.2" cy="194.6" r="2"/>
<circle cx="274.3" cy="195.1" r="2"/>
<circle cx="270.6" cy="195.1" r="2"/>
<circle cx="271.1" cy="193.8" r="2"/>
<circle cx="271.1" cy="192.9" r="2"/>
<circle cx="270.2" cy="192.5" r="2"/>
<circle cx="272.9" cy="192.7" r="2"/>
<circle cx="274" cy="192.7" r="2"/>
<circle cx="272.2" cy="193.2" r="2"/>
<circle cx="276.3" cy="194.1" r="2"/>
<circle cx="272.8" cy="190.9" r="2"/>
<circle cx="273.9" cy="191.2" r="2"/>
<circle cx="278.9" cy="188.7" r="2"/>
<circle cx="275" cy="193.6" r="2"/>
<circle cx="275.4" cy="194.2" r="2"/>
<circle cx="278.7" cy="192.6" r="2"/>
<circle cx="275.3" cy="193.3" r="2"/>
<circle cx="283.3" cy="189.4" r="2"/>
<circle cx="283.2" cy="191.5" r="2"/>
<circle cx="283.1" cy="190.1" r="2"/>
<circle cx="281.1" cy="189.2" r="2"/>
<circle cx="284.3" cy="190.6" r="2"/>
<circle cx="284" cy="189.5" r="2"/>
<circle cx="284.5" cy="184.8" r="2"/>
<circle cx="285.4" cy="185.1" r="2"/>
<circle cx="287.1" cy="188.4" r="2"/>
<circle cx="284.3" cy="186.4" r="2"/>
<circle cx="287.6" cy="186" r="2"/>
<circle cx="284" cy="186.5" r="2"/>
<circle cx="286.3" cy="187.4" r="2"/>
<circle cx="288.6" cy="187.2" r="2"/>
<circle cx="286.2" cy="184.9" r="2"/>
<circle cx="286.8" cy="184.6" r="2"/>
<circle cx="289" cy="185.5" r="2"/>
<circle cx="288.4" cy="185.1" r="2"/>
<circle cx="285.9" cy="182.6" r="2"/>
<circle cx="287.5" cy="181.8" r="2"/>
<circle cx="289.5" cy="180.7" r="2"/>
<circle cx="289.1" cy="180.7" r="2"/>
<circle cx="291" cy="182.8" r="2"/>
<circle cx="289.8" cy="182.5" r="2"/>
<circle cx="289.7" cy="183.5" r="2"/>
<circle cx="290.5" cy="179.5" r="2"/>
<circle cx="294.2" cy="179.6" r="2"/>
<circle cx="293.9" cy="179.8" r="2"/>
<circle cx="293.7" cy="179.2" r="2"/>
<circle cx="292" cy="179.9" r="2"/>
<circle cx="295.7" cy="183" r="2"/>
<circle cx="296.9" cy="179.7" r="2"/>
<circle cx="295.4" cy="176.2" r="2"/>
<circle cx="298.3" cy="176.4" r="2"/>
<circle cx="298" cy="175.5" r="2"/>
<circle cx="299.2" cy="175.8" r="2"/>
<circle cx="302" cy="181" r="2"/>
<circle cx="299.9" cy="176.3" r="2"/>
<circle cx="302.9" cy="178.2" r="2"/>
<circle cx="302.1" cy="175.5" r="2"/>
<circle cx="300.9" cy="180.2" r="2"/>
<circle cx="302.6" cy="177.5" r="2"/>
<circle cx="301.9" cy="178.3" r="2"/>
<circle cx="304.9" cy="175.7" r="2"/>
<circle cx="304" cy="179.3" r="2"/>
<circle cx="306.9" cy="180.7" r="2"/>
<circle cx="309.7" cy="180.9" r="2"/>
<circle cx="308.8" cy="176.2" r="2"/>
<circle cx="308.7" cy="180.6" r="2"/>
<circle cx="309.4" cy="178.9" r="2"/>
<circle cx="305.5" cy="179" r="2"/>
<circle cx="304.3" cy="177.5" r="2"/>
<circle cx="308.1" cy="178.6" r="2"/>
<circle cx="309.9" cy="180.7" r="2"/>
<circle cx="314.4" cy="178.1" r="2"/>
<circle cx="314.2" cy="180.1" r="2"/>
<circle cx="311.4" cy="178.4" r="2"/>
<circle cx="316.4" cy="179" r="2"/>
<circle cx="310.9" cy="175.5" r="2"/>
<circle cx="312.5" cy="179.1" r="2"/>
<circle cx="314.2" cy="184.1" r="2"/>
<circle cx="316.4" cy="179.7" r="2"/>
<circle cx="316.7" cy="176.6" r="2"/>
<circle cx="319.9" cy="178.1" r="2"/>
<circle cx="318.2" cy="181.2" r="2"/>
<circle cx="319.9" cy="179.9" r="2"/>
<circle cx="318.9" cy="177.7" r="2"/>
<circle cx="320.7" cy="178" r="2"/>
<circle cx="321.6" cy="176.9" r="2"/>
<circle cx="323.5" cy="178" r="2"/>
<circle cx="320.6" cy="176.3" r="2"/>
<circle cx="320.9" cy="177.5" r="2"/>
<circle cx="322.4" cy="175.5" r="2"/>
<circle cx="323.2" cy="175.8" r="2"/>
<circle cx="326.4" cy="179" r="2"/>
<circle cx="326.3" cy="176.9" r="2"/>
<circle cx="327.4" cy="173.7" r="2"/>
<circle cx="327.4" cy="175.6" r="2"/>
<circle cx="326.5" cy="177.7" r="2"/>
<circle cx="328.7" cy="176.4" r="2"/>
<circle cx="330.4" cy="173.8" r="2"/>
<circle cx="327.7" cy="175.3" r="2"/>
<circle cx="331.5" cy="173.2" r="2"/>
<circle cx="328.4" cy="175.9" r="2"/>
<circle cx="334.5" cy="176.3" r="2"/>
<circle cx="329.8" cy="179.6" r="2"/>
<circle cx="330.8" cy="179" r="2"/>
<circle cx="327.7" cy="177.6" r="2"/>
<circle cx="329.9" cy="179.4" r="2"/>
<circle cx="331" cy="181.5" r="2"/>
<circle cx="333" cy="177.9" r="2"/>
<circle cx="332.2" cy="180.3" r="2"/>
<circle cx="333.5" cy="182.1" r="2"/>
<circle cx="332.5" cy="179.7" r="2"/>
<circle cx="335.7" cy="180.8" r="2"/>
<circle cx="335.1" cy="181.9" r="2"/>
<circle cx="335.8" cy="182.2" r="2"/>
<circle cx="335.8" cy="179.9" r="2"/>
<circle cx="337.1" cy="180.9" r="2"/>
<circle cx="338.4" cy="181.2" r="2"/>
<circle cx="340.4" cy="179.5" r="2"/>
<circle cx="337.7" cy="184.4" r="2"/>
<circle cx="341.3" cy="182.2" r="2"/>
<circle cx="340.1" cy="182.7" r="2"/>
<circle cx="343.5" cy="184.8" r="2"/>
<circle cx="344.1" cy="181.7" r="2"/>
<circle cx="343" cy="185.6" r="2"/>
<circle cx="343.9" cy="183.1" r="2"/>
<circle cx="342.6" cy="183.9" r="2"/>
<circle cx="342.6" cy="186.5" r="2"/>
<circle cx="344.2" cy="186.8" r="2"/>
<circle cx="346.6" cy="188.5" r="2"/>
<circle cx="345.3" cy="185.4" r="2"/>
<circle cx="345" cy="188.2" r="2"/>
<circle cx="348" cy="187.6" r="2"/>
<circle cx="348.9" cy="189.3" r="2"/>
<circle cx="344.5" cy="190" r="2"/>
<circle cx="350.7" cy="186.3" r="2"/>
<circle cx="348.3" cy="189.2" r="2"/>
<circle cx="348.3" cy="188.1" r="2"/>
<circle cx="348" cy="187.6" r="2"/>
<circle cx="350.8" cy="188.9" r="2"/>
<circle cx="350.7" cy="191.7" r="2"/>
<circle cx="350.5" cy="189.1" r="2"/>
<circle cx="351.8" cy="192.1" r="2"/>
<circle cx="350.6" cy="194.1" r="2"/>
<circle cx="350.5" cy="195.3" r="2"/>
<circle cx="353" cy="191.9" r="2"/>
<circle cx="352.2" cy="196.6" r="2"/>
<circle cx="352.5" cy="195.4" r="2"/>
<circle cx="353.3" cy="194.6" r="2"/>
<circle cx="354.5" cy="194.3" r="2"/>
<circle cx="353.6" cy="197.5" r="2"/>
<circle cx="355.2" cy="201.3" r="2"/>
<circle cx="356.9" cy="199.5" r="2"/>
<circle cx="354.9" cy="195.3" r="2"/>
<circle cx="358.8" cy="201.2" r="2"/>
<circle cx="358.1" cy="198.5" r="2"/>
<circle cx="357.4" cy="198.3" r="2"/>
<circle cx="359" cy="201.1" r="2"/>
<circle cx="353" cy="199.3" r="2"/>
<circle cx="357.1" cy="198.7" r="2"/>
<circle cx="358" cy="197" r="2"/>
<circle cx="360.2" cy="197.2" r="2"/>
<circle cx="358.1" cy="197.7" r="2"/>
<circle cx="357.4" cy="197.2" r="2"/>
<circle cx="360.4" cy="198" r="2"/>
<circle cx="359.4" cy="196.5" r="2"/>
<circle cx="356.1" cy="196.3" r="2"/>
<circle cx="359.3" cy="197.9" r="2"/>
<circle cx="359.4" cy="193.6" r="2"/>
<circle cx="359.1" cy="192.7" r="2"/>
<circle cx="360.9" cy="191.4" r="2"/>
<circle cx="363.2" cy="189.7" r="2"/>
<circle cx="362.9" cy="194.1" r="2"/>
<circle cx="365.3" cy="192.7" r="2"/>
<circle cx="364" cy="190" r="2"/>
<circle cx="364.3" cy="193.1" r="2"/>
<circle cx="366.3" cy="191.4" r="2"/>
<circle cx="369.2" cy="190.4" r="2"/>
<circle cx="365.8" cy="185.3" r="2"/>
<circle cx="368.9" cy="190.4" r="2"/>
<circle cx="368.5" cy="190.7" r="2"/>
<circle cx="370.1" cy="187.2" r="2"/>
<circle cx="370.9" cy="186.5" r="2"/>
<circle cx="368.9" cy="188.1" r="2"/>
<circle cx="369.7" cy="183.5" r="2"/>
<circle cx="370.7" cy="188.2" r="2"/>
<circle cx="371.4" cy="184.8" r="2"/>
<circle cx="372.2" cy="182.3" r="2"/>
<circle cx="372.4" cy="187.4" r="2"/>
<circle cx="370.1" cy="185.6" r="2"/>
<circle cx="372.7" cy="182.5" r="2"/>
<circle cx="370.2" cy="182.3" r="2"/>
<circle cx="372.2" cy="178.9" r="2"/>
<circle cx="371.7" cy="182" r="2"/>
<circle cx="373.2" cy="184" r="2"/>
<circle cx="374.1" cy="180.7" r="2"/>
<circle cx="376" cy="181.2" r="2"/>
<circle cx="374.6" cy="181.7" r="2"/>
<circle cx="380" cy="181" r="2"/>
<circle cx="377.8" cy="178.9" r="2"/>
<circle cx="376.6" cy="178.8" r="2"/>
<circle cx="377.4" cy="181.8" r="2"/>
<circle cx="380.8" cy="176.6" r="2"/>
<circle cx="378.9" cy="181.4" r="2"/>
<circle cx="369.7" cy="186.1" r="2"/>
<circle cx="369.8" cy="186.5" r="2"/>
<circle cx="373.7" cy="182.7" r="2"/>
<circle cx="373.7" cy="183.3" r="2"/>
<circle cx="374.2" cy="184.1" r="2"/>
<circle cx="372.1" cy="184.7" r="2"/>
<circle cx="371.2" cy="182.6" r="2"/>
<circle cx="371.8" cy="184.6" r="2"/>
<circle cx="374.5" cy="183.8" r="2"/>
<circle cx="376.4" cy="182.5" r="2"/>
<circle cx="373.9" cy="180.4" r="2"/>
<circle cx="374.6" cy="180.2" r="2"/>
<circle cx="377.5" cy="183.2" r="2"/>
<circle cx="379.3" cy="181.9" r="2"/>
<circle cx="379" cy="180.9" r="2"/>
<circle cx="376.4" cy="180.2" r="2"/>
<circle cx="378.2" cy="179.9" r="2"/>
<circle cx="379.1" cy="180" r="2"/>
<circle cx="381.5" cy="181.1" r="2"/>
<circle cx="379" cy="179.9" r="2"/>
<circle cx="384.7" cy="183.8" r="2"/>
<circle cx="383.9" cy="183.1" r="2"/>
<circle cx="383.7" cy="185" r="2"/>
<circle cx="382.6" cy="181.7" r="2"/>
<circle cx="383.9" cy="183.4" r="2"/>
<circle cx="385" cy="183.5" r="2"/>
<circle cx="382.8" cy="185.8" r="2"/>
<circle cx="385.4" cy="183.1" r="2"/>
<circle cx="381.6" cy="183.8" r="2"/>
<circle cx="386" cy="187.6" r="2"/>
<circle cx="385.2" cy="183.7" r="2"/>
<circle cx="386.5" cy="187.5" r="2"/>
<circle cx="388" cy="186.2" r="2"/>
<circle cx="385.5" cy="186.7" r="2"/>
<circle cx="386.8" cy="187.2" r="2"/>
<circle cx="386.6" cy="187.6" r="2"/>
<circle cx="384.7" cy="189.6" r="2"/>
<circle cx="387.9" cy="189.6" r="2"/>
<circle cx="388.2" cy="188.8" r="2"/>
<circle cx="387.9" cy="192.4" r="2"/>
<circle cx="390.5" cy="193" r="2"/>
<circle cx="388.4" cy="188.8" r="2"/>
<circle cx="391.3" cy="191.9" r="2"/>
<circle cx="387.2" cy="191.8" r="2"/>
<circle cx="391.7" cy="192.7" r="2"/>
<circle cx="390.7" cy="191.7" r="2"/>
<circle cx="393.1" cy="195.4" r="2"/>
<circle cx="393.4" cy="192.2" r="2"/>
<circle cx="391.9" cy="194.6" r="2"/>
<circle cx="392.4" cy="192.5" r="2"/>
<circle cx="391.9" cy="193.8" r="2"/>
<circle cx="392.2" cy="192.6" r="2"/>
<circle cx="392.2" cy="190.9" r="2"/>
<circle cx="389.6" cy="192" r="2"/>
<circle cx="395.1" cy="192" r="2"/>
<circle cx="393.9" cy="191.3" r="2"/>
<circle cx="392.8" cy="188.4" r="2"/>
<circle cx="395.2" cy="188.1" r="2"/>
<circle cx="395.4" cy="185" r="2"/>
<circle cx="394.2" cy="185.7" r="2"/>
<circle cx="395.3" cy="189.3" r="2"/>
<circle cx="398.4" cy="185.2" r="2"/>
<circle cx="396.8" cy="183.5" r="2"/>
<circle cx="396.3" cy="184.2" r="2"/>
<circle cx="397.2" cy="184.9" r="2"/>
<circle cx="396.1" cy="188.3" r="2"/>
<circle cx="397.7" cy="185.8" r="2"/>
<circle cx="398.3" cy="186" r="2"/>
<circle cx="400.1" cy="184.7" r="2"/>
<circle cx="398.5" cy="185.9" r="2"/>
<circle cx="401" cy="187.3" r="2"/>
<circle cx="400.1" cy="185.5" r="2"/>
<circle cx="399.3" cy="190.7" r="2"/>
<circle cx="402.1" cy="188.5" r="2"/>
<circle cx="403.3" cy="188" r="2"/>
<circle cx="400.2" cy="189.3" r="2"/>
<circle cx="399.9" cy="188.4" r="2"/>
<circle cx="403.7" cy="188.4" r="2"/>
<circle cx="404" cy="190.3" r="2"/>
<circle cx="404.1" cy="188.5" r="2"/>
<circle cx="406.7" cy="185.8" r="2"/>
<circle cx="405.2" cy="183.4" r="2"/>
<circle cx="408.3" cy="187.5" r="2"/>
<circle cx="406.1" cy="186.3" r="2"/>
<circle cx="403.9" cy="184.9" r="2"/>
<circle cx="408.1" cy="184.3" r="2"/>
<circle cx="407.5" cy="182.4" r="2"/>
<circle cx="407.3" cy="182.8" r="2"/>
<circle cx="407.7" cy="183.8" r="2"/>
<circle cx="407.9" cy="184.3" r="2"/>
<circle cx="409.1" cy="184" r="2"/>
<circle cx="411" cy="181.5" r="2"/>
<circle cx="412.1" cy="182.2" r="2"/>
<circle cx="410.4" cy="181.8" r="2"/>
<circle cx="412.4" cy="182.9" r="2"/>
<circle cx="411.9" cy="179.3" r="2"/>
<circle cx="410.5" cy="179.1" r="2"/>
<circle cx="411.5" cy="179.4" r="2"/>
<circle cx="412.9" cy="182.8" r="2"/>
<circle cx="413.7" cy="179.8" r="2"/>
<circle cx="415.5" cy="181.2" r="2"/>
<circle cx="410.9" cy="181.1" r="2"/>
<circle cx="416.2" cy="182.1" r="2"/>
<circle cx="415.5" cy="181.3" r="2"/>
<circle cx="416.2" cy="185.5" r="2"/>
<circle cx="416.7" cy="183.3" r="2"/>
<circle cx="414.4" cy="183.7" r="2"/>
<circle cx="417.7" cy="183.8" r="2"/>
<circle cx="417.8" cy="186.9" r="2"/>
<circle cx="417.4" cy="186.1" r="2"/>
<circle cx="417.7" cy="190.3" r="2"/>
<circle cx="416.9" cy="185.7" r="2"/>
<circle cx="416.9" cy="187.7" r="2"/>
<circle cx="420.1" cy="189.5" r="2"/>
<circle cx="417.5" cy="187" r="2"/>
<circle cx="420.3" cy="189.9" r="2"/>
<circle cx="421.6" cy="187.9" r="2"/>
<circle cx="419" cy="191.4" r="2"/>
<circle cx="418" cy="191.1" r="2"/>
<circle cx="419.1" cy="189.3" r="2"/>
<circle cx="420.1" cy="192" r="2"/>
<circle cx="420.9" cy="195.1" r="2"/>
<circle cx="419.2" cy="195.9" r="2"/>
<circle cx="419.4" cy="195.4" r="2"/>
<circle cx="420.4" cy="194.1" r="2"/>
<circle cx="418.7" cy="194.5" r="2"/>
<circle cx="420.9" cy="195.2" r="2"/>
<circle cx="418.8" cy="198.6" r="2"/>
<circle cx="421.7" cy="199.9" r="2"/>
<circle cx="420.7" cy="198.3" r="2"/>
<circle cx="421" cy="198.1" r="2"/>
<circle cx="422.5" cy="201.1" r="2"/>
<circle cx="422.3" cy="201.2" r="2"/>
<circle cx="419.8" cy="202.6" r="2"/>
<circle cx="424.7" cy="198.3" r="2"/>
<circle cx="422.1" cy="203.6" r="2"/>
<circle cx="423.9" cy="202.5" r="2"/>
<circle cx="421.8" cy="202.7" r="2"/>
<circle cx="423.8" cy="202.8" r="2"/>
<circle cx="424.2" cy="205.2" r="2"/>
<circle cx="422.3" cy="204.6" r="2"/>
<circle cx="424.6" cy="205.8" r="2"/>
<circle cx="424.5" cy="204.6" r="2"/>
<circle cx="424.9" cy="202.9" r="2"/>
<circle cx="426.4" cy="202.5" r="2"/>
<circle cx="424.4" cy="202.8" r="2"/>
<circle cx="425" cy="202" r="2"/>
<circle cx="423.8" cy="201.9" r="2"/>
<circle cx="426.9" cy="200.8" r="2"/>
<circle cx="424.2" cy="199.6" r="2"/>
<circle cx="428" cy="199.2" r="2"/>
<circle cx="425.2" cy="199.4" r="2"/>
<circle cx="427.1" cy="198.3" r="2"/>
<circle cx="425.7" cy="198.2" r="2"/>
<circle cx="428" cy="197.1" r="2"/>
<circle cx="426.6" cy="198" r="2"/>
<circle cx="426.7" cy="197" r="2"/>
<circle cx="427.9" cy="194.2" r="2"/>
<circle cx="428.7" cy="195.3" r="2"/>
<circle cx="426.3" cy="193.5" r="2"/>
<circle cx="427.3" cy="194" r="2"/>
<circle cx="428.3" cy="192.1" r="2"/>
<circle cx="428.5" cy="192.7" r="2"/>
<circle cx="427.8" cy="191.1" r="2"/>
<circle cx="427" cy="192.4" r="2"/>
<circle cx="427.8" cy="190.1" r="2"/>
<circle cx="427.7" cy="190.2" r="2"/>
<circle cx="428.4" cy="192.3" r="2"/>
<circle cx="428.5" cy="188.1" r="2"/>
<circle cx="429" cy="189.4" r="2"/>
<circle cx="427.9" cy="187.8" r="2"/>
<circle cx="429.6" cy="186.9" r="2"/>
<circle cx="429.9" cy="186.2" r="2"/>
<circle cx="430.8" cy="184.4" r="2"/>
<circle cx="431" cy="186.1" r="2"/>
<circle cx="430.4" cy="184.7" r="2"/>
<circle cx="430.3" cy="185.6" r="2"/>
<circle cx="431" cy="183.1" r="2"/>
<circle cx="431.7" cy="184.4" r="2"/>
<circle cx="430.7" cy="181.8" r="2"/>
<circle cx="431.8" cy="180.9" r="2"/>
<circle cx="430.9" cy="181.3" r="2"/>
<circle cx="431.8" cy="182.5" r="2"/>
<circle cx="431.7" cy="181.2" r="2"/>
<circle cx="431.7" cy="180.4" r="2"/>
<circle cx="432.2" cy="179.1" r="2"/>
<circle cx="432.8" cy="181.4" r="2"/>
<circle cx="431.4" cy="177.3" r="2"/>
<circle cx="431.4" cy="179.2" r="2"/>
<circle cx="433.3" cy="177.7" r="2"/>
<circle cx="432.6" cy="178.3" r="2"/>
<circle cx="432.7" cy="177.4" r="2"/>
<circle cx="433.8" cy="176.5" r="2"/>
<circle cx="435.3" cy="174.9" r="2"/>
<circle cx="434.8" cy="173.4" r="2"/>
<circle cx="435" cy="174.5" r="2"/>
<circle cx="434.6" cy="174.5" r="2"/>
<circle cx="437.3" cy="172.1" r="2"/>
<circle cx="435" cy="172.3" r="2"/>
<circle cx="437.1" cy="171.3" r="2"/>
<circle cx="437.7" cy="171" r="2"/>
<circle cx="435.1" cy="171.1" r="2"/>
<circle cx="437.4" cy="169.5" r="2"/>
<circle cx="437" cy="169.2" r="2"/>
<circle cx="438.2" cy="169" r="2"/>
<circle cx="440.1" cy="170.3" r="2"/>
<circle cx="440.2" cy="170" r="2"/>
<circle cx="440.7" cy="168.9" r="2"/>
<circle cx="439.2" cy="167.9" r="2"/>
<circle cx="438.7" cy="168.1" r="2"/>
<circle cx="441.3" cy="164.8" r="2"/>
<circle cx="439.8" cy="167.9" r="2"/>
<circle cx="441.6" cy="166.3" r="2"/>
<circle cx="440.9" cy="166.6" r="2"/>
<circle cx="440.5" cy="164.6" r="2"/>
<circle cx="442.7" cy="165.1" r="2"/>
<circle cx="442.9" cy="162" r="2"/>
<circle cx="442.5" cy="164.2" r="2"/>
<circle cx="441.9" cy="164.1" r="2"/>
<circle cx="442.1" cy="162.3" r="2"/>
<circle cx="444.1" cy="164.5" r="2"/>
<circle cx="444.5" cy="162.1" r="2"/>
<circle cx="442.6" cy="162" r="2"/>
<circle cx="442.3" cy="169.5" r="2"/>
<circle cx="442.2" cy="165.5" r="2"/>
<circle cx="440.6" cy="167.2" r="2"/>
<circle cx="443.2" cy="165.8" r="2"/>
<circle cx="442.9" cy="165.3" r="2"/>
<circle cx="444.5" cy="165.3" r="2"/>
<circle cx="444.5" cy="163.9" r="2"/>
<circle cx="442.1" cy="163.7" r="2"/>
<circle cx="443.5" cy="163.8" r="2"/>
<circle cx="445.3" cy="164.3" r="2"/>
<circle cx="444.4" cy="162.6" r="2"/>
<circle cx="445.4" cy="161.3" r="2"/>
<circle cx="444.5" cy="163.3" r="2"/>
<circle cx="445.1" cy="160.9" r="2"/>
<circle cx="447" cy="160.6" r="2"/>
<circle cx="445.4" cy="161.2" r="2"/>
<circle cx="445" cy="159.1" r="2"/>
<circle cx="445.1" cy="160.3" r="2"/>
<circle cx="446.8" cy="155.8" r="2"/>
<circle cx="447.3" cy="158" r="2"/>
<circle cx="446.8" cy="158.4" r="2"/>
<circle cx="445.1" cy="157.3" r="2"/>
<circle cx="446.8" cy="155.9" r="2"/>
<circle cx="449" cy="157.2" r="2"/>
<circle cx="448.8" cy="154.6" r="2"/>
<circle cx="446.8" cy="156.3" r="2"/>
<circle cx="448.5" cy="154.1" r="2"/>
<circle cx="449.2" cy="152.8" r="2"/>
<circle cx="449" cy="153.6" r="2"/>
<circle cx="450.3" cy="151.7" r="2"/>
<circle cx="449.2" cy="152.3" r="2"/>
<circle cx="450.2" cy="151.6" r="2"/>
<circle cx="449.5" cy="150.8" r="2"/>
<circle cx="449" cy="151.1" r="2"/>
<circle cx="450.9" cy="151.8" r="2"/>
<circle cx="451.4" cy="150.5" r="2"/>
<circle cx="448.8" cy="149" r="2"/>
<circle cx="450.6" cy="148.8" r="2"/>
<circle cx="452.2" cy="149.2" r="2"/>
<circle cx="450.4" cy="147.6" r="2"/>
<circle cx="451.2" cy="146.9" r="2"/>
<circle cx="452.5" cy="146.7" r="2"/>
<circle cx="452.9" cy="145.4" r="2"/>
<circle cx="453.9" cy="147.2" r="2"/>
<circle cx="451.2" cy="145.6" r="2"/>
<circle cx="452.1" cy="145.2" r="2"/>
<circle cx="452.1" cy="144.3" r="2"/>
<circle cx="452.6" cy="144.4" r="2"/>
<circle cx="453.6" cy="145.6" r="2"/>
<circle cx="454" cy="142.8" r="2"/>
<circle cx="452.5" cy="142.4" r="2"/>
<circle cx="454.2" cy="141.3" r="2"/>
<circle cx="455.4" cy="142.1" r="2"/>
<circle cx="454.1" cy="142.1" r="2"/>
<circle cx="455.8" cy="140.5" r="2"/>
<circle cx="456" cy="141.5" r="2"/>
<circle cx="456.2" cy="139.3" r="2"/>
<circle cx="454.1" cy="137.7" r="2"/>
<circle cx="455.6" cy="138" r="2"/>
<circle cx="456.3" cy="139.8" r="2"/>
<circle cx="457.7" cy="137.9" r="2"/>
<circle cx="457.4" cy="138" r="2"/>
<circle cx="458.4" cy="139.1" r="2"/>
<circle cx="459.6" cy="137.7" r="2"/>
<circle cx="459.5" cy="137.4" r="2"/>
<circle cx="463.2" cy="135.8" r="2"/>
<circle cx="459.3" cy="136" r="2"/>
<circle cx="462.3" cy="134.6" r="2"/>
<circle cx="461.7" cy="136.6" r="2"/>
<circle cx="461.9" cy="134.4" r="2"/>
<circle cx="461.9" cy="135" r="2"/>
<circle cx="462" cy="132.7" r="2"/>
<circle cx="464" cy="132" r="2"/>
<circle cx="463.6" cy="131.6" r="2"/>
<circle cx="463.1" cy="132.6" r="2"/>
<circle cx="464.9" cy="130.8" r="2"/>
<circle cx="465.9" cy="132.3" r="2"/>
<circle cx="467.4" cy="133.8" r="2"/>
<circle cx="465.8" cy="133.7" r="2"/>
<circle cx="466.4" cy="132.7" r="2"/>
<circle cx="464.3" cy="131.4" r="2"/>
<circle cx="466.9" cy="129.9" r="2"/>
<circle cx="468.1" cy="129" r="2"/>
<circle cx="468.6" cy="129.2" r="2"/>
<circle cx="467.1" cy="128.5" r="2"/>
<circle cx="467.2" cy="128.5" r="2"/>
<circle cx="470.6" cy="129.1" r="2"/>
<circle cx="471" cy="130.2" r="2"/>
<circle cx="469.3" cy="127.9" r="2"/>
<circle cx="470.8" cy="129.1" r="2"/>
<circle cx="470.7" cy="127.2" r="2"/>
<circle cx="471.2" cy="129.2" r="2"/>
<circle cx="471" cy="125.6" r="2"/>
<circle cx="472.2" cy="126.7" r="2"/>
<circle cx="473.3" cy="127" r="2"/>
<circle cx="472.9" cy="126.4" r="2"/>
<circle cx="472.1" cy="124.2" r="2"/>
<circle cx="471.4" cy="125.3" r="2"/>
<circle cx="475" cy="124.8" r="2"/>
<circle cx="475.5" cy="125.4" r="2"/>
<circle cx="476" cy="126.5" r="2"/>
<circle cx="475.8" cy="123.1" r="2"/>
<circle cx="476.9" cy="124.2" r="2"/>
<circle cx="475.4" cy="122.8" r="2"/>
<circle cx="478" cy="121.5" r="2"/>
<circle cx="476.1" cy="121.6" r="2"/>
<circle cx="476.6" cy="122.8" r="2"/>
<circle cx="477" cy="122.3" r="2"/>
<circle cx="479.2" cy="120.4" r="2"/>
<circle cx="478.8" cy="120.7" r="2"/>
<circle cx="478.5" cy="119.1" r="2"/>
<circle cx="479.3" cy="117.9" r="2"/>
<circle cx="479.7" cy="119.3" r="2"/>
<circle cx="481.6" cy="121.2" r="2"/>
<circle cx="481.3" cy="119.8" r="2"/>
<circle cx="481.7" cy="118.8" r="2"/>
<circle cx="480.7" cy="117.3" r="2"/>
<circle cx="481.2" cy="118.7" r="2"/>
<circle cx="483.2" cy="117" r="2"/>
<circle cx="481.8" cy="115.7" r="2"/>
<circle cx="482.2" cy="114.6" r="2"/>
<circle cx="483.4" cy="117" r="2"/>
<circle cx="483.5" cy="114.3" r="2"/>
<circle cx="481.3" cy="114.9" r="2"/>
<circle cx="483.7" cy="114" r="2"/>
<circle cx="484.9" cy="114.4" r="2"/>
<circle cx="487" cy="113.1" r="2"/>
<circle cx="483.8" cy="115.5" r="2"/>
<circle cx="484.3" cy="113.7" r="2"/>
<circle cx="484.8" cy="113.2" r="2"/>
<circle cx="485.7" cy="111.4" r="2"/>
<circle cx="486" cy="110.5" r="2"/>
<circle cx="484.1" cy="108.9" r="2"/>
<circle cx="486.2" cy="111.4" r="2"/>
<circle cx="483.9" cy="108.8" r="2"/>
<circle cx="485.3" cy="109.6" r="2"/>
<circle cx="484.7" cy="107.9" r="2"/>
<circle cx="485.5" cy="109.4" r="2"/>
<circle cx="486.2" cy="106.3" r="2"/>
<circle cx="486.5" cy="106.5" r="2"/>
<circle cx="487" cy="106.8" r="2"/>
<circle cx="485.8" cy="105" r="2"/>
<circle cx="487.5" cy="106.5" r="2"/>
<circle cx="488.6" cy="105.6" r="2"/>
<circle cx="487.9" cy="104.9" r="2"/>
<circle cx="488.3" cy="105" r="2"/>
<circle cx="488.8" cy="105.3" r="2"/>
<circle cx="489.4" cy="105.7" r="2"/>
<circle cx="487.7" cy="105.4" r="2"/>
<circle cx="488.6" cy="107.9" r="2"/>
<circle cx="487" cy="108.3" r="2"/>
<circle cx="488.3" cy="108.6" r="2"/>
<circle cx="489" cy="111.4" r="2"/>
<circle cx="489.8" cy="109.7" r="2"/>
<circle cx="489.6" cy="109.5" r="2"/>
<circle cx="491.1" cy="110.4" r="2"/>
<circle cx="488.7" cy="110.2" r="2"/>
<circle cx="489.5" cy="110.5" r="2"/>
<circle cx="490.1" cy="113.2" r="2"/>
<circle cx="490.6" cy="112.7" r="2"/>
<circle cx="490.4" cy="114.2" r="2"/>
<circle cx="492.3" cy="114.3" r="2"/>
<circle cx="490.5" cy="114.6" r="2"/>
<circle cx="490.8" cy="115.8" r="2"/>
<circle cx="491.6" cy="116.7" r="2"/>
<circle cx="490" cy="116.7" r="2"/>
<circle cx="493.6" cy="117.6" r="2"/>
<circle cx="492.1" cy="118.7" r="2"/>
<circle cx="491.6" cy="119" r="2"/>
<circle cx="492.7" cy="117.6" r="2"/>
<circle cx="493.4" cy="117.9" r="2"/>
<circle cx="493.1" cy="118.9" r="2"/>
<circle cx="493.2" cy="119.9" r="2"/>
<circle cx="493.7" cy="118.9" r="2"/>
<circle cx="492.9" cy="120.3" r="2"/>
<circle cx="496.8" cy="118.3" r="2"/>
<circle cx="496" cy="121.1" r="2"/>
<circle cx="496.6" cy="122.3" r="2"/>
<circle cx="494.2" cy="122.3" r="2"/>
<circle cx="495.3" cy="122.7" r="2"/>
<circle cx="495.7" cy="123.1" r="2"/>
<circle cx="496.7" cy="121.8" r="2"/>
<circle cx="497.7" cy="124.9" r="2"/>
<circle cx="497.4" cy="125" r="2"/>
<circle cx="499.7" cy="124" r="2"/>
<circle cx="499.9" cy="124" r="2"/>
<circle cx="499.5" cy="125.3" r="2"/>
<circle cx="500" cy="123.9" r="2"/>
<circle cx="499.5" cy="126.7" r="2"/>
<circle cx="497.7" cy="123.7" r="2"/>
<circle cx="500.8" cy="126.5" r="2"/>
<circle cx="502" cy="125.7" r="2"/>
<circle cx="501.4" cy="127.4" r="2"/>
<circle cx="501.5" cy="126.2" r="2"/>
<circle cx="503.7" cy="127" r="2"/>
<circle cx="502.6" cy="127.6" r="2"/>
<circle cx="501.6" cy="127.8" r="2"/>
<circle cx="503.2" cy="128.8" r="2"/>
<circle cx="503.4" cy="126.8" r="2"/>
<circle cx="503" cy="130.1" r="2"/>
<circle cx="505.5" cy="127.8" r="2"/>
<circle cx="505.8" cy="129.7" r="2"/>
<circle cx="505.8" cy="129.9" r="2"/>
<circle cx="506.9" cy="128.9" r="2"/>
<circle cx="507.7" cy="129.2" r="2"/>
<circle cx="506.7" cy="131.4" r="2"/>
<circle cx="506.9" cy="130.6" r="2"/>
<circle cx="508.6" cy="132.6" r="2"/>
<circle cx="510.2" cy="131.4" r="2"/>
<circle cx="509.9" cy="131.8" r="2"/>
<circle cx="509.3" cy="129.5" r="2"/>
<circle cx="512.3" cy="131.4" r="2"/>
<circle cx="510.2" cy="130.9" r="2"/>
<circle cx="511.9" cy="130" r="2"/>
<circle cx="512.2" cy="129.7" r="2"/>
<circle cx="514" cy="130" r="2"/>
<circle cx="513.6" cy="133.7" r="2"/>
<circle cx="512.6" cy="131.8" r="2"/>
<circle cx="513.8" cy="129.6" r="2"/>
<circle cx="517.3" cy="132.4" r="2"/>
<circle cx="516.3" cy="131.2" r="2"/>
<circle cx="516.9" cy="130.9" r="2"/>
<circle cx="518.3" cy="130.8" r="2"/>
<circle cx="517.7" cy="132.1" r="2"/>
<circle cx="517.8" cy="131.1" r="2"/>
<circle cx="518.7" cy="131.2" r="2"/>
<circle cx="519.9" cy="133" r="2"/>
<circle cx="519.9" cy="129.9" r="2"/>
<circle cx="522.4" cy="132.1" r="2"/>
<circle cx="521.3" cy="131" r="2"/>
<circle cx="519.9" cy="131.2" r="2"/>
<circle cx="522.8" cy="132.6" r="2"/>
<circle cx="522.2" cy="132.3" r="2"/>
<circle cx="525" cy="132.6" r="2"/>
<circle cx="523.2" cy="132.5" r="2"/>
<circle cx="524.5" cy="133.5" r="2"/>
<circle cx="525.7" cy="132.3" r="2"/>
<circle cx="526.5" cy="133.3" r="2"/>
<circle cx="526.2" cy="131.9" r="2"/>
<circle cx="525.7" cy="133.9" r="2"/>
<circle cx="524.5" cy="130.5" r="2"/>
<circle cx="527.9" cy="132.2" r="2"/>
<circle cx="527.3" cy="130.9" r="2"/>
<circle cx="527.5" cy="132.3" r="2"/>
<circle cx="527.8" cy="130.2" r="2"/>
<circle cx="530.3" cy="129.7" r="2"/>
<circle cx="530.2" cy="131.3" r="2"/>
<circle cx="531.3" cy="130.4" r="2"/>
<circle cx="532.3" cy="133.2" r="2"/>
<circle cx="531.3" cy="130.1" r="2"/>
<circle cx="531.4" cy="131.4" r="2"/>
<circle cx="529.7" cy="131.4" r="2"/>
<circle cx="534.7" cy="129.4" r="2"/>
<circle cx="535.4" cy="129.7" r="2"/>
<circle cx="533.9" cy="130.7" r="2"/>
<circle cx="534.6" cy="131.5" r="2"/>
<circle cx="534.2" cy="130.3" r="2"/>
<circle cx="536.7" cy="127.3" r="2"/>
<circle cx="537.1" cy="129.3" r="2"/>
<circle cx="535.2" cy="127.2" r="2"/>
<circle cx="536.9" cy="127.3" r="2"/>
<circle cx="536" cy="126" r="2"/>
<circle cx="535.4" cy="127.7" r="2"/>
<circle cx="538" cy="126.2" r="2"/>
<circle cx="537.2" cy="128.2" r="2"/>
<circle cx="537.9" cy="127.3" r="2"/>
<circle cx="538.8" cy="125.6" r="2"/>
<circle cx="537.8" cy="122.7" r="2"/>
<circle cx="538.5" cy="124.5" r="2"/>
<circle cx="538.3" cy="122.9" r="2"/>
<circle cx="540.1" cy="122.5" r="2"/>
<circle cx="538.2" cy="121" r="2"/>
<circle cx="539" cy="121.9" r="2"/>
<circle cx="540.1" cy="121.4" r="2"/>
<circle cx="540.2" cy="121.5" r="2"/>
<circle cx="539.2" cy="119" r="2"/>
<circle cx="539.8" cy="119.7" r="2"/>
<circle cx="538.4" cy="119.8" r="2"/>
<circle cx="539.8" cy="117.9" r="2"/>
<circle cx="539" cy="119.1" r="2"/>
<circle cx="540.4" cy="116.8" r="2"/>
<circle cx="540.8" cy="115.1" r="2"/>
<circle cx="541" cy="116.3" r="2"/>
<circle cx="541" cy="116.6" r="2"/>
<circle cx="539.7" cy="114.6" r="2"/>
<circle cx="542.2" cy="116.5" r="2"/>
<circle cx="538.7" cy="113.2" r="2"/>
<circle cx="539.3" cy="113.9" r="2"/>
<circle cx="540.4" cy="115" r="2"/>
<circle cx="538.4" cy="112.3" r="2"/>
<circle cx="538.1" cy="113.2" r="2"/>
<circle cx="538.5" cy="112.3" r="2"/>
<circle cx="537.5" cy="112.2" r="2"/>
<circle cx="537.6" cy="111.4" r="2"/>
<circle cx="536.7" cy="111.1" r="2"/>
<circle cx="535.2" cy="110.2" r="2"/>
<circle cx="536.2" cy="108" r="2"/>
<circle cx="538" cy="109.2" r="2"/>
<circle cx="535.3" cy="109" r="2"/>
<circle cx="537.5" cy="108.9" r="2"/>
<circle cx="536.6" cy="108.6" r="2"/>
<circle cx="537.1" cy="107.5" r="2"/>
<circle cx="537" cy="106" r="2"/>
<circle cx="535.9" cy="107.8" r="2"/>
<circle cx="536.9" cy="103.6" r="2"/>
<circle cx="536.6" cy="106.4" r="2"/>
<circle cx="534.6" cy="105.2" r="2"/>
<circle cx="534.2" cy="104.4" r="2"/>
<circle cx="535" cy="103.3" r="2"/>
<circle cx="534.8" cy="103.5" r="2"/>
<circle cx="534.3" cy="104.1" r="2"/>
<circle cx="536.1" cy="104.1" r="2"/>
<circle cx="534.1" cy="101.7" r="2"/>
<circle cx="533.9" cy="100.9" r="2"/>
<circle cx="534.1" cy="99.3" r="2"/>
<circle cx="532.9" cy="100.1" r="2"/>
<circle cx="536.5" cy="110.6" r="2"/>
<circle cx="535.1" cy="105.4" r="2"/>
<circle cx="535.9" cy="107.2" r="2"/>
<circle cx="533.1" cy="105.6" r="2"/>
<circle cx="535.5" cy="107" r="2"/>
<circle cx="536.1" cy="106.5" r="2"/>
<circle cx="533" cy="103.5" r="2"/>
<circle cx="535.7" cy="104.4" r="2"/>
<circle cx="536.1" cy="105.1" r="2"/>
<circle cx="537.4" cy="102.8" r="2"/>
<circle cx="535.5" cy="101.7" r="2"/>
<circle cx="537.8" cy="106.7" r="2"/>
<circle cx="536.7" cy="104.7" r="2"/>
<circle cx="535.2" cy="101.6" r="2"/>
<circle cx="537.4" cy="100.3" r="2"/>
<circle cx="536.1" cy="99.8" r="2"/>
<circle cx="536" cy="100.3" r="2"/>
<circle cx="535.8" cy="97.6" r="2"/>
<circle cx="538.3" cy="100.1" r="2"/>
<circle cx="536.9" cy="98.5" r="2"/>
<circle cx="536.2" cy="96.1" r="2"/>
<circle cx="536.6" cy="97.5" r="2"/>
<circle cx="533.4" cy="96.7" r="2"/>
<circle cx="537.7" cy="92" r="2"/>
<circle cx="536.8" cy="93.7" r="2"/>
<circle cx="536.1" cy="93.3" r="2"/>
<circle cx="535.2" cy="94.1" r="2"/>
<circle cx="536.2" cy="90.8" r="2"/>
<circle cx="536.6" cy="89.6" r="2"/>
<circle cx="534.5" cy="90.7" r="2"/>
<circle cx="534.2" cy="89" r="2"/>
<circle cx="537.7" cy="87.5" r="2"/>
<circle cx="537.5" cy="90.5" r="2"/>
<circle cx="536" cy="90.2" r="2"/>
<circle cx="535.3" cy="89.2" r="2"/>
<circle cx="535.1" cy="86.7" r="2"/>
<circle cx="534.3" cy="85.4" r="2"/>
<circle cx="535.5" cy="85.6" r="2"/>
<circle cx="534.6" cy="83.5" r="2"/>
<circle cx="537" cy="87.6" r="2"/>
<circle cx="535.8" cy="85.3" r="2"/>
<circle cx="536.1" cy="84.4" r="2"/>
<circle cx="536.4" cy="82" r="2"/>
<circle cx="534.3" cy="83.5" r="2"/>
<circle cx="536" cy="82.1" r="2"/>
<circle cx="535.2" cy="81.5" r="2"/>
<circle cx="534" cy="81.3" r="2"/>
<circle cx="532.3" cy="78.4" r="2"/>
<circle cx="533.5" cy="80.6" r="2"/>
<circle cx="535.3" cy="79.8" r="2"/>
<circle cx="534.2" cy="77.5" r="2"/>
<circle cx="536.5" cy="76.8" r="2"/>
<circle cx="532.9" cy="75" r="2"/>
<circle cx="534.7" cy="75.7" r="2"/>
<circle cx="533.4" cy="76.2" r="2"/>
<circle cx="531.4" cy="73.1" r="2"/>
<circle cx="532.5" cy="73.4" r="2"/>
<circle cx="531.1" cy="73.4" r="2"/>
<circle cx="533" cy="73.1" r="2"/>
<circle cx="532.7" cy="72.4" r="2"/>
<circle cx="532.3" cy="73.9" r="2"/>
<circle cx="532.9" cy="70.8" r="2"/>
<circle cx="532.9" cy="70" r="2"/>
<circle cx="531" cy="69.7" r="2"/>
<circle cx="531" cy="69.4" r="2"/>
<circle cx="532.6" cy="69.2" r="2"/>
<circle cx="530.3" cy="66.8" r="2"/>
<circle cx="532.2" cy="65.4" r="2"/>
<circle cx="530.7" cy="66.8" r="2"/>
<circle cx="530.9" cy="65.6" r="2"/>
<circle cx="530.8" cy="64.5" r="2"/>
<circle cx="530.8" cy="67.3" r="2"/>
<circle cx="531.4" cy="65.4" r="2"/>
<circle cx="529.2" cy="62" r="2"/>
<circle cx="529.1" cy="64.1" r="2"/>
<circle cx="528" cy="62.8" r="2"/>
<circle cx="527.9" cy="62.6" r="2"/>
<circle cx="527.8" cy="63.2" r="2"/>
<circle cx="525.3" cy="61.4" r="2"/>
<circle cx="526.9" cy="60.6" r="2"/>
<circle cx="525.2" cy="59.4" r="2"/>
<circle cx="526.6" cy="59.8" r="2"/>
<circle cx="525" cy="59.2" r="2"/>
<circle cx="525.5" cy="61.8" r="2"/>
<circle cx="523.7" cy="55.6" r="2"/>
<circle cx="523.5" cy="59.5" r="2"/>
<circle cx="525.4" cy="58.5" r="2"/>
<circle cx="525.2" cy="58.1" r="2"/>
<circle cx="526" cy="55.9" r="2"/>
<circle cx="523.6" cy="56.8" r="2"/>
<circle cx="522.1" cy="55.4" r="2"/>
<circle cx="520.9" cy="54.4" r="2"/>
<circle cx="524.3" cy="55.1" r="2"/>
<circle cx="522.9" cy="55.6" r="2"/>
<circle cx="522.2" cy="54.6" r="2"/>
<circle cx="522.8" cy="51" r="2"/>
<circle cx="525.2" cy="50.5" r="2"/>
<circle cx="523.3" cy="52.1" r="2"/>
<circle cx="521.8" cy="51" r="2"/>
<circle cx="522.1" cy="49.5" r="2"/>
<circle cx="520.6" cy="48.9" r="2"/>
<circle cx="521.2" cy="47.1" r="2"/>
<circle cx="521.9" cy="49.2" r="2"/>
<circle cx="521.1" cy="48.1" r="2"/>
<circle cx="520.4" cy="46.8" r="2"/>
<circle cx="520.8" cy="47.4" r="2"/>
<circle cx="520" cy="45.6" r="2"/>
<circle cx="519.5" cy="44.6" r="2"/>
<circle cx="519.6" cy="46" r="2"/>
<circle cx="519.1" cy="45.1" r="2"/>
<circle cx="520.3" cy="42.2" r="2"/>
<circle cx="519.5" cy="43.1" r="2"/>
<circle cx="515.5" cy="43.6" r="2"/>
<circle cx="517.6" cy="43" r="2"/>
<circle cx="518.5" cy="43.1" r="2"/>
<circle cx="516.5" cy="42.4" r="2"/>
<circle cx="517" cy="40.7" r="2"/>
<circle cx="515.5" cy="40.7" r="2"/>
<circle cx="515.2" cy="40.2" r="2"/>
<circle cx="516.6" cy="36.8" r="2"/>
<circle cx="517.3" cy="38.6" r="2"/>
<circle cx="517.4" cy="36" r="2"/>
<circle cx="516" cy="35.5" r="2"/>
<circle cx="513.6" cy="37.9" r="2"/>
<circle cx="513.6" cy="36.8" r="2"/>
<circle cx="515" cy="35.2" r="2"/>
<circle cx="514.9" cy="33.8" r="2"/>
<circle cx="515" cy="33.8" r="2"/>
<circle cx="512" cy="32" r="2"/>
<circle cx="511.9" cy="35.6" r="2"/>
<circle cx="512.1" cy="32.9" r="2"/>
<circle cx="510" cy="35" r="2"/>
<circle cx="512.3" cy="30.4" r="2"/>
<circle cx="512.2" cy="34.2" r="2"/>
<circle cx="509" cy="29.8" r="2"/>
<circle cx="510.8" cy="30.1" r="2"/>
<circle cx="507.7" cy="32.7" r="2"/>
<circle cx="508.8" cy="29.5" r="2"/>
<circle cx="507.9" cy="30.6" r="2"/>
<circle cx="509.6" cy="29.9" r="2"/>
<circle cx="507.4" cy="29.3" r="2"/>
<circle cx="507.1" cy="29.5" r="2"/>
<circle cx="507.6" cy="24.7" r="2"/>
<circle cx="504.5" cy="25.1" r="2"/>
<circle cx="507.8" cy="25.2" r="2"/>
<circle cx="507.1" cy="24.7" r="2"/>
<circle cx="503.7" cy="24.1" r="2"/>
<circle cx="504.2" cy="24.6" r="2"/>
<circle cx="504.8" cy="22.9" r="2"/>
<circle cx="503" cy="25.9" r="2"/>
<circle cx="506.8" cy="24.7" r="2"/>
<circle cx="503.5" cy="21.7" r="2"/>
<circle cx="503.7" cy="21.8" r="2"/>
<circle cx="505" cy="19" r="2"/>
<circle cx="504.1" cy="22.7" r="2"/>
<circle cx="503.9" cy="22.5" r="2"/>
<circle cx="501.9" cy="19.7" r="2"/>
<circle cx="503.6" cy="18.4" r="2"/>
<circle cx="501.7" cy="20.3" r="2"/>
<circle cx="501" cy="17.5" r="2"/>
<circle cx="504" cy="19.7" r="2"/>
<circle cx="499.5" cy="15.5" r="2"/>
<circle cx="503" cy="15.4" r="2"/>
<circle cx="502" cy="14.5" r="2"/>
<circle cx="500.9" cy="15.1" r="2"/>
<circle cx="502.9" cy="12.8" r="2"/>
<circle cx="497.3" cy="13.5" r="2"/>
<circle cx="501.2" cy="14.8" r="2"/>
<circle cx="498.1" cy="13.5" r="2"/>
<circle cx="499.2" cy="13.7" r="2"/>
<circle cx="498.5" cy="11.8" r="2"/>
<circle cx="497.7" cy="13.2" r="2"/>
<circle cx="498.3" cy="11.5" r="2"/>
<circle cx="498.7" cy="11.6" r="2"/>
<circle cx="498" cy="10.9" r="2"/>
<circle cx="497.1" cy="6.8" r="2"/>
<circle cx="496.4" cy="10.8" r="2"/>
<circle cx="499.2" cy="8.8" r="2"/>
<circle cx="496.4" cy="7.8" r="2"/>
<circle cx="495.1" cy="6.3" r="2"/>
<circle cx="492.2" cy="3.2" r="2"/>
<circle cx="494.9" cy="5.3" r="2"/>
<circle cx="495.1" cy="7" r="2"/>
<circle cx="493.5" cy="6.4" r="2"/>
<circle cx="494.2" cy="6.3" r="2"/>
<circle cx="492.1" cy="6.2" r="2"/>
<circle cx="489.1" cy="7.9" r="2"/>
<circle cx="493.2" cy="6.4" r="2"/>
<circle cx="490.9" cy="6.8" r="2"/>
<circle cx="492.8" cy="8.4" r="2"/>
<circle cx="489.3" cy="9.2" r="2"/>
<circle cx="488.9" cy="10.4" r="2"/>
<circle cx="491.2" cy="11.5" r="2"/>
<circle cx="491.8" cy="10.1" r="2"/>
<circle cx="487.7" cy="12.1" r="2"/>
<circle cx="487.2" cy="12.1" r="2"/>
<circle cx="486.3" cy="10.9" r="2"/>
<circle cx="488.3" cy="12.1" r="2"/>
<circle cx="488.8" cy="10.8" r="2"/>
<circle cx="486.5" cy="12.3" r="2"/>
<circle cx="485.3" cy="13.7" r="2"/>
<circle cx="488.6" cy="16" r="2"/>
<circle cx="487.1" cy="15.3" r="2"/>
<circle cx="484.5" cy="15.5" r="2"/>
<circle cx="484.4" cy="17.5" r="2"/>
<circle cx="484" cy="15.6" r="2"/>
<circle cx="483.5" cy="18.2" r="2"/>
<circle cx="484.3" cy="19.1" r="2"/>
<circle cx="482.3" cy="20.3" r="2"/>
<circle cx="483.6" cy="19.9" r="2"/>
<circle cx="484.4" cy="21.2" r="2"/>
<circle cx="483.5" cy="20" r="2"/>
<circle cx="483.3" cy="21.3" r="2"/>
<circle cx="482.5" cy="22.8" r="2"/>
<circle cx="484.7" cy="19.9" r="2"/>
<circle cx="482.3" cy="21.8" r="2"/>
<circle cx="480.5" cy="23.1" r="2"/>
<circle cx="481.7" cy="22.1" r="2"/>
<circle cx="482.2" cy="21.7" r="2"/>
<circle cx="480.3" cy="24" r="2"/>
<circle cx="480" cy="24.4" r="2"/>
<circle cx="478.6" cy="24.5" r="2"/>
<circle cx="479.5" cy="26.8" r="2"/>
<circle cx="479.3" cy="25.7" r="2"/>
<circle cx="476.4" cy="27.1" r="2"/>
<circle cx="477.9" cy="30.2" r="2"/>
<circle cx="476.6" cy="26.8" r="2"/>
<circle cx="477.5" cy="28.6" r="2"/>
<circle cx="477.7" cy="29" r="2"/>
<circle cx="477.2" cy="29.2" r="2"/>
<circle cx="474.1" cy="28.8" r="2"/>
<circle cx="474.1" cy="29.3" r="2"/>
<circle cx="477.2" cy="29.3" r="2"/>
<circle cx="473.6" cy="30.7" r="2"/>
<circle cx="472.7" cy="32.4" r="2"/>
<circle cx="474.6" cy="29.4" r="2"/>
<circle cx="475.5" cy="32.3" r="2"/>
<circle cx="472" cy="31.2" r="2"/>
<circle cx="469.6" cy="35.2" r="2"/>
<circle cx="473.5" cy="32.2" r="2"/>
<circle cx="471" cy="33.5" r="2"/>
<circle cx="471.8" cy="29.8" r="2"/>
<circle cx="472.8" cy="31.4" r="2"/>
<circle cx="470.7" cy="30.2" r="2"/>
<circle cx="471.5" cy="32.7" r="2"/>
<circle cx="469.4" cy="33" r="2"/>
<circle cx="471.6" cy="28.8" r="2"/>
<circle cx="469.3" cy="27.6" r="2"/>
<circle cx="466.9" cy="28.7" r="2"/>
<circle cx="469.4" cy="30.7" r="2"/>
<circle cx="467.2" cy="30.2" r="2"/>
<circle cx="464.3" cy="30.4" r="2"/>
<circle cx="465.8" cy="27.8" r="2"/>
<circle cx="463.4" cy="29.9" r="2"/>
<circle cx="464.2" cy="29.2" r="2"/>
<circle cx="466.8" cy="28.9" r="2"/>
<circle cx="461.5" cy="31.5" r="2"/>
<circle cx="462.6" cy="29.5" r="2"/>
<circle cx="459.3" cy="33.1" r="2"/>
<circle cx="463.1" cy="32.8" r="2"/>
<circle cx="460.9" cy="31.2" r="2"/>
<circle cx="457.9" cy="31.3" r="2"/>
<circle cx="459" cy="30.9" r="2"/>
<circle cx="459.3" cy="31.6" r="2"/>
<circle cx="460.6" cy="33.3" r="2"/>
<circle cx="459" cy="32.4" r="2"/>
<circle cx="456.8" cy="30" r="2"/>
<circle cx="457.4" cy="31.8" r="2"/>
<circle cx="456.4" cy="31.6" r="2"/>
<circle cx="454.4" cy="32.4" r="2"/>
<circle cx="456.6" cy="32.3" r="2"/>
<circle cx="454.7" cy="36.7" r="2"/>
<circle cx="456.1" cy="33.1" r="2"/>
<circle cx="454.3" cy="33.2" r="2"/>
<circle cx="454.8" cy="34.2" r="2"/>
<circle cx="455.7" cy="34.4" r="2"/>
<circle cx="453.2" cy="35.6" r="2"/>
<circle cx="454.5" cy="33.5" r="2"/>
<circle cx="453.7" cy="37.3" r="2"/>
<circle cx="451.8" cy="35.7" r="2"/>
<circle cx="450.9" cy="35.2" r="2"/>
<circle cx="451" cy="35.5" r="2"/>
<circle cx="451" cy="33" r="2"/>
<circle cx="449.2" cy="35.2" r="2"/>
<circle cx="452.2" cy="33.5" r="2"/>
<circle cx="449.7" cy="32.7" r="2"/>
<circle cx="451.7" cy="31.6" r="2"/>
<circle cx="450.2" cy="32.8" r="2"/>
<circle cx="451.5" cy="29.9" r="2"/>
<circle cx="450.9" cy="29.8" r="2"/>
<circle cx="449.7" cy="28.5" r="2"/>
<circle cx="447.1" cy="29.1" r="2"/>
<circle cx="447.1" cy="32.8" r="2"/>
<circle cx="448.5" cy="29.4" r="2"/>
<circle cx="445.5" cy="29.1" r="2"/>
<circle cx="444.2" cy="27.2" r="2"/>
<circle cx="446.4" cy="28.7" r="2"/>
<circle cx="444.4" cy="28.7" r="2"/>
<circle cx="444.7" cy="28.4" r="2"/>
<circle cx="444.2" cy="28.4" r="2"/>
<circle cx="440" cy="26.7" r="2"/>
<circle cx="442.2" cy="28.7" r="2"/>
<circle cx="443.2" cy="29.2" r="2"/>
<circle cx="441.7" cy="26.2" r="2"/>
<circle cx="441.2" cy="26.7" r="2"/>
<circle cx="441.4" cy="27.5" r="2"/>
<circle cx="440.2" cy="27.4" r="2"/>
<circle cx="439.2" cy="26.9" r="2"/>
<circle cx="441.8" cy="24.1" r="2"/>
<circle cx="435.8" cy="23.5" r="2"/>
<circle cx="436.8" cy="23.1" r="2"/>
<circle cx="437.3" cy="23.6" r="2"/>
<circle cx="436.6" cy="24.5" r="2"/>
<circle cx="435.7" cy="22.6" r="2"/>
<circle cx="433.5" cy="22.3" r="2"/>
<circle cx="434.3" cy="22.7" r="2"/>
<circle cx="433.3" cy="22.9" r="2"/>
<circle cx="433.4" cy="24.3" r="2"/>
<circle cx="434.2" cy="22.5" r="2"/>
<circle cx="431.2" cy="23.2" r="2"/>
<circle cx="430.7" cy="18.9" r="2"/>
<circle cx="428.3" cy="20.5" r="2"/>
<circle cx="430.9" cy="20.6" r="2"/>
<circle cx="430.1" cy="20.5" r="2"/>
<circle cx="428.6" cy="20" r="2"/>
<circle cx="430" cy="18.8" r="2"/>
<circle cx="428.4" cy="20" r="2"/>
<circle cx="427.6" cy="16.9" r="2"/>
<circle cx="428.5" cy="18.3" r="2"/>
<circle cx="426.7" cy="16.7" r="2"/>
<circle cx="428.3" cy="17.5" r="2"/>
<circle cx="428.2" cy="17.9" r="2"/>
<circle cx="425.2" cy="15.9" r="2"/>
<circle cx="423.8" cy="16.3" r="2"/>
<circle cx="425.5" cy="15.2" r="2"/>
<circle cx="424.2" cy="15.3" r="2"/>
<circle cx="422.9" cy="10.6" r="2"/>
<circle cx="423.6" cy="16.3" r="2"/>
<circle cx="421.6" cy="15.6" r="2"/>
<circle cx="422.7" cy="14.8" r="2"/>
<circle cx="424.7" cy="14.2" r="2"/>
<circle cx="419.9" cy="14.4" r="2"/>
<circle cx="420" cy="13.1" r="2"/>
<circle cx="419" cy="17.3" r="2"/>
<circle cx="418.4" cy="14.6" r="2"/>
<circle cx="420.1" cy="15.9" r="2"/>
<circle cx="414.8" cy="12.9" r="2"/>
<circle cx="417.2" cy="12.3" r="2"/>
<circle cx="416.9" cy="15" r="2"/>
<circle cx="416" cy="13.6" r="2"/>
<circle cx="414.1" cy="16.3" r="2"/>
<circle cx="416.5" cy="14.7" r="2"/>
<circle cx="416.4" cy="16" r="2"/>
<circle cx="413.2" cy="15" r="2"/>
<circle cx="413" cy="15.3" r="2"/>
<circle cx="412.8" cy="16" r="2"/>
<circle cx="410.9" cy="18.4" r="2"/>
<circle cx="410.3" cy="19.6" r="2"/>
<circle cx="412.2" cy="16" r="2"/>
<circle cx="408.4" cy="15.2" r="2"/>
<circle cx="410.5" cy="19.4" r="2"/>
<circle cx="408.7" cy="19.3" r="2"/>
<circle cx="408" cy="18" r="2"/>
<circle cx="406.8" cy="18.8" r="2"/>
<circle cx="407.2" cy="18.4" r="2"/>
<circle cx="406.5" cy="21.7" r="2"/>
<circle cx="406.5" cy="18.3" r="2"/>
<circle cx="407.2" cy="19.3" r="2"/>
<circle cx="404.8" cy="21.6" r="2"/>
<circle cx="404.9" cy="19.4" r="2"/>
<circle cx="404" cy="22.4" r="2"/>
<circle cx="402.9" cy="22.3" r="2"/>
<circle cx="402.3" cy="20.7" r="2"/>
<circle cx="402.5" cy="19.9" r="2"/>
<circle cx="399.9" cy="20.7" r="2"/>
<circle cx="402" cy="22.8" r="2"/>
<circle cx="401.9" cy="22.2" r="2"/>
<circle cx="401.7" cy="22.2" r="2"/>
<circle cx="398.7" cy="23.2" r="2"/>
<circle cx="397.9" cy="20.9" r="2"/>
<circle cx="397.5" cy="23.8" r="2"/>
<circle cx="398.9" cy="20.5" r="2"/>
<circle cx="394.9" cy="22.4" r="2"/>
<circle cx="396.7" cy="21.7" r="2"/>
<circle cx="394.8" cy="24.6" r="2"/>
<circle cx="393" cy="23.7" r="2"/>
<circle cx="392.9" cy="21.7" r="2"/>
<circle cx="392.6" cy="21.7" r="2"/>
<circle cx="391.2" cy="21.6" r="2"/>
<circle cx="392" cy="21.2" r="2"/>
<circle cx="391.3" cy="20.8" r="2"/>
<circle cx="390.9" cy="19.2" r="2"/>
<circle cx="389.5" cy="19.4" r="2"/>
<circle cx="389" cy="18.3" r="2"/>
<circle cx="389.8" cy="22" r="2"/>
<circle cx="388.2" cy="21.3" r="2"/>
<circle cx="387.5" cy="20.1" r="2"/>
<circle cx="386.1" cy="18.6" r="2"/>
<circle cx="387.1" cy="21" r="2"/>
<circle cx="384.9" cy="21.2" r="2"/>
<circle cx="387.8" cy="23.6" r="2"/>
<circle cx="385.4" cy="20.2" r="2"/>
<circle cx="383.8" cy="20.8" r="2"/>
<circle cx="383.8" cy="19.1" r="2"/>
<circle cx="379.1" cy="20.3" r="2"/>
<circle cx="382" cy="20.3" r="2"/>
<circle cx="382.3" cy="16.6" r="2"/>
<circle cx="379.6" cy="20.3" r="2"/>
<circle cx="379.8" cy="19.4" r="2"/>
<circle cx="379.7" cy="17.2" r="2"/>
<circle cx="378.5" cy="17.6" r="2"/>
<circle cx="379.3" cy="18.4" r="2"/>
<circle cx="376" cy="17.9" r="2"/>
<circle cx="372.2" cy="18" r="2"/>
<circle cx="374.4" cy="18.5" r="2"/>
<circle cx="376.1" cy="18.2" r="2"/>
<circle cx="373.6" cy="20.5" r="2"/>
<circle cx="372.9" cy="19.2" r="2"/>
<circle cx="375.1" cy="19.5" r="2"/>
<circle cx="372.1" cy="18.5" r="2"/>
<circle cx="371" cy="22.9" r="2"/>
<circle cx="368.4" cy="22.4" r="2"/>
<circle cx="370.3" cy="21.3" r="2"/>
<circle cx="369.4" cy="19.6" r="2"/>
<circle cx="370.1" cy="23.8" r="2"/>
<circle cx="369.9" cy="20" r="2"/>
<circle cx="369.4" cy="21.6" r="2"/>
<circle cx="366.7" cy="19.5" r="2"/>
<circle cx="366.3" cy="21.8" r="2"/>
<circle cx="365.4" cy="19.9" r="2"/>
<circle cx="365.7" cy="21.3" r="2"/>
<circle cx="366.3" cy="24.1" r="2"/>
<circle cx="364.3" cy="22.6" r="2"/>
<circle cx="363.9" cy="22.8" r="2"/>
<circle cx="363.2" cy="22" r="2"/>
<circle cx="363.7" cy="22.3" r="2"/>
<circle cx="360.4" cy="25.5" r="2"/>
<circle cx="362.3" cy="23.2" r="2"/>
<circle cx="364.6" cy="23.8" r="2"/>
<circle cx="362.8" cy="25.2" r="2"/>
<circle cx="364.7" cy="22.1" r="2"/>
<circle cx="359.8" cy="26" r="2"/>
<circle cx="360.7" cy="21.4" r="2"/>
<circle cx="360.7" cy="21.7" r="2"/>
<circle cx="357.7" cy="20.3" r="2"/>
<circle cx="358.8" cy="24.7" r="2"/>
<circle cx="359" cy="21.7" r="2"/>
<circle cx="359.1" cy="22.2" r="2"/>
<circle cx="357.4" cy="21.9" r="2"/>
<circle cx="358.9" cy="18.9" r="2"/>
<circle cx="356.8" cy="19.8" r="2"/>
<circle cx="354.1" cy="22.9" r="2"/>
<circle cx="354.1" cy="18" r="2"/>
<circle cx="355.7" cy="18.1" r="2"/>
<circle cx="353.8" cy="17.7" r="2"/>
<circle cx="350.1" cy="18.4" r="2"/>
<circle cx="353.5" cy="21.1" r="2"/>
<circle cx="351.7" cy="14.4" r="2"/>
<circle cx="350.8" cy="15.5" r="2"/>
<circle cx="351.4" cy="20.7" r="2"/>
<circle cx="348.2" cy="17.2" r="2"/>
<circle cx="349.6" cy="14.9" r="2"/>
<circle cx="347.8" cy="18.5" r="2"/>
<circle cx="347.9" cy="15.6" r="2"/>
<circle cx="346.6" cy="17.7" r="2"/>
<circle cx="344.8" cy="18" r="2"/>
<circle cx="346.8" cy="19.9" r="2"/>
<circle cx="345.9" cy="17" r="2"/>
<circle cx="343.9" cy="16.2" r="2"/>
<circle cx="343.5" cy="16.9" r="2"/>
<circle cx="346.4" cy="17.3" r="2"/>
<circle cx="344.1" cy="15.3" r="2"/>
<circle cx="341.8" cy="16" r="2"/>
<circle cx="340.9" cy="19" r="2"/>
<circle cx="339.8" cy="13.3" r="2"/>
<circle cx="338.9" cy="12.3" r="2"/>
<circle cx="341.4" cy="16.3" r="2"/>
<circle cx="340" cy="16" r="2"/>
<circle cx="337.8" cy="15.5" r="2"/>
<circle cx="337.4" cy="14.4" r="2"/>
<circle cx="335.9" cy="14.3" r="2"/>
<circle cx="337" cy="14.2" r="2"/>
<circle cx="336.2" cy="15.2" r="2"/>
<circle cx="333.9" cy="14.4" r="2"/>
<circle cx="335.6" cy="14.1" r="2"/>
<circle cx="334.8" cy="17.9" r="2"/>
<circle cx="332.9" cy="17.6" r="2"/>
<circle cx="332.4" cy="14.7" r="2"/>
<circle cx="331" cy="16.2" r="2"/>
<circle cx="334.4" cy="14.9" r="2"/>
<circle cx="332.5" cy="18.6" r="2"/>
<circle cx="333.5" cy="19.5" r="2"/>
<circle cx="331.2" cy="20.7" r="2"/>
<circle cx="331.9" cy="17.4" r="2"/>
<circle cx="331" cy="20.3" r="2"/>
<circle cx="332.4" cy="22.2" r="2"/>
<circle cx="330.9" cy="21.2" r="2"/>
<circle cx="329.8" cy="19.7" r="2"/>
<circle cx="327.5" cy="22.3" r="2"/>
<circle cx="330.1" cy="20.9" r="2"/>
<circle cx="325.2" cy="22.6" r="2"/>
<circle cx="325.8" cy="22" r="2"/>
<circle cx="327.6" cy="20.9" r="2"/>
<circle cx="324" cy="21.5" r="2"/>
<circle cx="325.1" cy="24.2" r="2"/>
<circle cx="325.5" cy="23.2" r="2"/>
<circle cx="323.8" cy="22.6" r="2"/>
<circle cx="321.2" cy="20.6" r="2"/>
<circle cx="323.5" cy="23.9" r="2"/>
<circle cx="321.7" cy="22.4" r="2"/>
<circle cx="320" cy="21.9" r="2"/>
<circle cx="319.8" cy="24.3" r="2"/>
<circle cx="319.6" cy="25" r="2"/>
<circle cx="318.8" cy="27.3" r="2"/>
<circle cx="316.4" cy="24.1" r="2"/>
<circle cx="318.5" cy="24.6" r="2"/>
<circle cx="320" cy="26.2" r="2"/>
<circle cx="318" cy="27.4" r="2"/>
<circle cx="316.1" cy="26.8" r="2"/>
<circle cx="315" cy="30.5" r="2"/>
<circle cx="314.8" cy="27.5" r="2"/>
<circle cx="313.9" cy="29.6" r="2"/>
<circle cx="312.4" cy="29.5" r="2"/>
<circle cx="314.4" cy="28.3" r="2"/>
<circle cx="314" cy="27.7" r="2"/>
<circle cx="312.8" cy="27.6" r="2"/>
<circle cx="310.7" cy="28.8" r="2"/>
<circle cx="312" cy="28.9" r="2"/>
<circle cx="310.4" cy="29.9" r="2"/>
<circle cx="311.3" cy="29.3" r="2"/>
<circle cx="309.4" cy="29.8" r="2"/>
<circle cx="309.7" cy="31.5" r="2"/>
<circle cx="309.6" cy="31.1" r="2"/>
<circle cx="307.7" cy="31.1" r="2"/>
<circle cx="307.7" cy="32.2" r="2"/>
<circle cx="307.9" cy="33.8" r="2"/>
<circle cx="307.6" cy="31.3" r="2"/>
<circle cx="306.7" cy="36.1" r="2"/>
<circle cx="306.2" cy="33" r="2"/>
<circle cx="303.9" cy="35.8" r="2"/>
<circle cx="305.7" cy="37" r="2"/>
<circle cx="303.3" cy="35.2" r="2"/>
<circle cx="304.1" cy="36" r="2"/>
<circle cx="304.3" cy="37.1" r="2"/>
<circle cx="304.2" cy="36.8" r="2"/>
<circle cx="304.8" cy="33.1" r="2"/>
<circle cx="305.2" cy="34.9" r="2"/>
<circle cx="303.4" cy="32" r="2"/>
<circle cx="304.1" cy="32.1" r="2"/>
<circle cx="305.8" cy="29.4" r="2"/>
<circle cx="302.3" cy="33.8" r="2"/>
<circle cx="303.4" cy="35.4" r="2"/>
<circle cx="302.4" cy="28.9" r="2"/>
<circle cx="302.2" cy="29.7" r="2"/>
<circle cx="300.6" cy="29.1" r="2"/>
<circle cx="300.9" cy="28.4" r="2"/>
<circle cx="301.9" cy="29.2" r="2"/>
<circle cx="300.4" cy="27.4" r="2"/>
<circle cx="301.6" cy="27.1" r="2"/>
<circle cx="298.7" cy="28.2" r="2"/>
<circle cx="299.1" cy="25" r="2"/>
<circle cx="298.8" cy="25.5" r="2"/>
<circle cx="301.5" cy="24.3" r="2"/>
<circle cx="296.6" cy="24.8" r="2"/>
<circle cx="298.9" cy="22.1" r="2"/>
<circle cx="299.8" cy="20.9" r="2"/>
<circle cx="298.7" cy="21.6" r="2"/>
<circle cx="296.5" cy="24.2" r="2"/>
<circle cx="298.8" cy="20.1" r="2"/>
<circle cx="298.5" cy="22.9" r="2"/>
<circle cx="297" cy="21.5" r="2"/>
<circle cx="297" cy="19.5" r="2"/>
<circle cx="295.8" cy="21.5" r="2"/>
<circle cx="296.8" cy="20.3" r="2"/>
<circle cx="295.7" cy="19.1" r="2"/>
<circle cx="297.5" cy="17" r="2"/>
<circle cx="297.5" cy="17.1" r="2"/>
<circle cx="297" cy="16.7" r="2"/>
<circle cx="294.9" cy="15" r="2"/>
<circle cx="295.3" cy="18.8" r="2"/>
<circle cx="298.5" cy="14.6" r="2"/>
<circle cx="295.8" cy="14.2" r="2"/>
<circle cx="296" cy="11.7" r="2"/>
<circle cx="295.4" cy="12.4" r="2"/>
<circle cx="294.8" cy="13.8" r="2"/>
<circle cx="294.3" cy="10.5" r="2"/>
<circle cx="293.2" cy="10" r="2"/>
<circle cx="294.9" cy="9.1" r="2"/>
<circle cx="295.3" cy="9.9" r="2"/>
<circle cx="293.1" cy="11.8" r="2"/>
<circle cx="292.7" cy="7.5" r="2"/>
<circle cx="293.9" cy="7.1" r="2"/>
<circle cx="293.7" cy="7" r="2"/>
<circle cx="291.8" cy="6.2" r="2"/>
<circle cx="292.3" cy="4.7" r="2"/>
<circle cx="294.2" cy="7.8" r="2"/>
<circle cx="297.1" cy="4.7" r="2"/>
<circle cx="292.9" cy="3.9" r="2"/>
<circle cx="292.9" cy="5.2" r="2"/>
<circle cx="291.5" cy="5" r="2"/>
<circle cx="288.3" cy="6.1" r="2"/>
<circle cx="291.9" cy="2.2" r="2"/>
<circle cx="290.1" cy="4.7" r="2"/>
<circle cx="288.2" cy="4.3" r="2"/>
<circle cx="288.3" cy="4.6" r="2"/>
<circle cx="288.5" cy="4.1" r="2"/>
<circle cx="288.5" cy="3.2" r="2"/>
<circle cx="288.3" cy="1.3" r="2"/>
<circle cx="287.2" cy="1.5" r="2"/>
<circle cx="287.2" cy="3.1" r="2"/>
<circle cx="285.2" cy="2.6" r="2"/>
<circle cx="283.7" cy="4" r="2"/>
<circle cx="285.9" cy="4.4" r="2"/>
<circle cx="283" cy="3.3" r="2"/>
<circle cx="285.8" cy="1.2" r="2"/>
<circle cx="285.1" cy="5.2" r="2"/>
<circle cx="281.6" cy="7.7" r="2"/>
<circle cx="282.4" cy="4.8" r="2"/>
<circle cx="280.6" cy="6.6" r="2"/>
<circle cx="280.1" cy="5.7" r="2"/>
<circle cx="282.2" cy="6.1" r="2"/>
<circle cx="276.5" cy="5.9" r="2"/>
<circle cx="278.6" cy="8" r="2"/>
<circle cx="281.4" cy="8.2" r="2"/>
<circle cx="278.3" cy="7.7" r="2"/>
<circle cx="279.2" cy="9.6" r="2"/>
<circle cx="279.2" cy="9.6" r="2"/>
<circle cx="280.3" cy="11.1" r="2"/>
<circle cx="278.3" cy="12.6" r="2"/>
<circle cx="277.6" cy="10" r="2"/>
<circle cx="276.9" cy="13.9" r="2"/>
<circle cx="277.9" cy="9.9" r="2"/>
<circle cx="275.9" cy="13.1" r="2"/>
<circle cx="277.2" cy="13.1" r="2"/>
<circle cx="277.2" cy="11.5" r="2"/>
<circle cx="276.5" cy="16.3" r="2"/>
<circle cx="277.7" cy="17.9" r="2"/>
<circle cx="273.5" cy="15.2" r="2"/>
<circle cx="275.9" cy="17.1" r="2"/>
<circle cx="275.5" cy="18.9" r="2"/>
<circle cx="277.6" cy="19.4" r="2"/>
<circle cx="277.3" cy="20.2" r="2"/>
<circle cx="276.5" cy="25.3" r="2"/>
<circle cx="276.4" cy="23.7" r="2"/>
<circle cx="277" cy="24.1" r="2"/>
<circle cx="277.3" cy="23.7" r="2"/>
<circle cx="278.3" cy="25.8" r="2"/>
<circle cx="278" cy="26.2" r="2"/>
<circle cx="276.3" cy="25.5" r="2"/>
<circle cx="276.7" cy="28.6" r="2"/>
<circle cx="277.9" cy="30.1" r="2"/>
<circle cx="276.4" cy="31.1" r="2"/>
<circle cx="277.3" cy="31.3" r="2"/>
<circle cx="275.7" cy="31.3" r="2"/>
<circle cx="275.8" cy="20.7" r="2"/>
<circle cx="275.2" cy="22.2" r="2"/>
<circle cx="275.2" cy="20.8" r="2"/>
<circle cx="274.2" cy="20.5" r="2"/>
<circle cx="274.4" cy="21" r="2"/>
<circle cx="273.9" cy="19.1" r="2"/>
<circle cx="273.8" cy="20.1" r="2"/>
<circle cx="272.6" cy="17.4" r="2"/>
<circle cx="269.1" cy="18.6" r="2"/>
<circle cx="270.2" cy="19.7" r="2"/>
<circle cx="270.4" cy="17.5" r="2"/>
<circle cx="269.3" cy="20.8" r="2"/>
<circle cx="267.8" cy="17.9" r="2"/>
<circle cx="269.9" cy="16.9" r="2"/>
<circle cx="268.8" cy="16.6" r="2"/>
<circle cx="269.1" cy="18.2" r="2"/>
<circle cx="267.7" cy="18.2" r="2"/>
<circle cx="264.9" cy="16.9" r="2"/>
<circle cx="266.8" cy="15.7" r="2"/>
<circle cx="264.1" cy="14.8" r="2"/>
<circle cx="264" cy="15.1" r="2"/>
<circle cx="263.9" cy="17.6" r="2"/>
<circle cx="266.3" cy="14.5" r="2"/>
<circle cx="259.2" cy="16.6" r="2"/>
<circle cx="264.4" cy="15.2" r="2"/>
<circle cx="257.9" cy="18.4" r="2"/>
<circle cx="263" cy="14" r="2"/>
<circle cx="261.1" cy="15.3" r="2"/>
<circle cx="258.4" cy="16.4" r="2"/>
<circle cx="260.2" cy="14" r="2"/>
<circle cx="259.9" cy="16.1" r="2"/>
<circle cx="256.6" cy="17.3" r="2"/>
<circle cx="259.1" cy="15.8" r="2"/>
<circle cx="257.3" cy="16.9" r="2"/>
<circle cx="254.9" cy="15.9" r="2"/>
<circle cx="254.2" cy="17.5" r="2"/>
<circle cx="256.6" cy="19.7" r="2"/>
<circle cx="252.9" cy="16.6" r="2"/>
<circle cx="253.2" cy="18.5" r="2"/>
<circle cx="254.9" cy="16.9" r="2"/>
<circle cx="253.5" cy="17.5" r="2"/>
<circle cx="252.6" cy="14.5" r="2"/>
<circle cx="251.7" cy="16" r="2"/>
<circle cx="250.2" cy="17.6" r="2"/>
<circle cx="249.2" cy="15.9" r="2"/>
<circle cx="251.8" cy="16.7" r="2"/>
<circle cx="250.6" cy="18.9" r="2"/>
<circle cx="248.3" cy="18.9" r="2"/>
<circle cx="250" cy="19.1" r="2"/>
<circle cx="246.9" cy="20.4" r="2"/>
<circle cx="247.2" cy="19.8" r="2"/>
<circle cx="243.8" cy="20" r="2"/>
<circle cx="246.3" cy="17.7" r="2"/>
<circle cx="243.5" cy="20.9" r="2"/>
<circle cx="246.7" cy="19.6" r="2"/>
<circle cx="243.7" cy="20" r="2"/>
<circle cx="244.1" cy="23.5" r="2"/>
<circle cx="240.8" cy="22.1" r="2"/>
<circle cx="242.5" cy="20.7" r="2"/>
<circle cx="242.2" cy="20.9" r="2"/>
<circle cx="240.6" cy="24.5" r="2"/>
<circle cx="243.2" cy="19.2" r="2"/>
<circle cx="241.5" cy="23.3" r="2"/>
<circle cx="242.3" cy="24.1" r="2"/>
<circle cx="240.4" cy="22.6" r="2"/>
<circle cx="240.2" cy="22.2" r="2"/>
<circle cx="238.6" cy="24.3" r="2"/>
<circle cx="238.8" cy="26" r="2"/>
<circle cx="238.2" cy="26.5" r="2"/>
<circle cx="236.4" cy="23.6" r="2"/>
<circle cx="236.4" cy="23.7" r="2"/>
<circle cx="234.6" cy="23" r="2"/>
<circle cx="235.6" cy="25.2" r="2"/>
<circle cx="234.3" cy="25.6" r="2"/>
<circle cx="235.9" cy="25.2" r="2"/>
<circle cx="234.6" cy="22.2" r="2"/>
<circle cx="234" cy="24.3" r="2"/>
<circle cx="235.9" cy="20" r="2"/>
<circle cx="233.1" cy="19.5" r="2"/>
<circle cx="232.5" cy="24.5" r="2"/>
<circle cx="233.3" cy="20.5" r="2"/>
<circle cx="232.4" cy="21.6" r="2"/>
<circle cx="234" cy="19.8" r="2"/>
<circle cx="234.2" cy="19.5" r="2"/>
<circle cx="231" cy="19.4" r="2"/>
<circle cx="231.1" cy="18.8" r="2"/>
<circle cx="228.8" cy="17" r="2"/>
<circle cx="227.3" cy="16.9" r="2"/>
<circle cx="227.3" cy="19.3" r="2"/>
<circle cx="227" cy="15.7" r="2"/>
<circle cx="230.1" cy="18.3" r="2"/>
<circle cx="230.2" cy="17.5" r="2"/>
<circle cx="229.1" cy="15.6" r="2"/>
<circle cx="224.2" cy="14.5" r="2"/>
<circle cx="224.1" cy="14.7" r="2"/>
<circle cx="224.8" cy="13.3" r="2"/>
<circle cx="225.7" cy="15.7" r="2"/>
<circle cx="224.8" cy="14.3" r="2"/>
<circle cx="223.4" cy="13.2" r="2"/>
<circle cx="225" cy="14" r="2"/>
<circle cx="223.4" cy="13.3" r="2"/>
<circle cx="219.1" cy="12.9" r="2"/>
<circle cx="219.1" cy="14.3" r="2"/>
<circle cx="224.3" cy="11.3" r="2"/>
<circle cx="217.7" cy="10.7" r="2"/>
<circle cx="221.8" cy="9.4" r="2"/>
<circle cx="218.9" cy="10.7" r="2"/>
<circle cx="220.7" cy="12.5" r="2"/>
<circle cx="217.4" cy="12.9" r="2"/>
<circle cx="217.8" cy="10.4" r="2"/>
<circle cx="215" cy="12.4" r="2"/>
<circle cx="217" cy="9.6" r="2"/>
<circle cx="217.5" cy="10.8" r="2"/>
<circle cx="216.9" cy="8.9" r="2"/>
<circle cx="218" cy="9.9" r="2"/>
<circle cx="215.6" cy="11.7" r="2"/>
<circle cx="213.1" cy="10.5" r="2"/>
<circle cx="210.8" cy="11.5" r="2"/>
<circle cx="211.9" cy="11.2" r="2"/>
<circle cx="211.2" cy="11.4" r="2"/>
<circle cx="213.5" cy="10.9" r="2"/>
<circle cx="212.3" cy="13.5" r="2"/>
<circle cx="216.4" cy="10.1" r="2"/>
<circle cx="216.7" cy="10.5" r="2"/>
<circle cx="220.6" cy="12.3" r="2"/>
<circle cx="218.1" cy="9.9" r="2"/>
<circle cx="216.6" cy="11.3" r="2"/>
<circle cx="213.3" cy="10.9" r="2"/>
<circle cx="213.7" cy="10.2" r="2"/>
<circle cx="211.6" cy="11.5" r="2"/>
<circle cx="210.4" cy="11.5" r="2"/>
<circle cx="212.8" cy="10.1" r="2"/>
<circle cx="212" cy="11" r="2"/>
<circle cx="210.2" cy="12.1" r="2"/>
<circle cx="209.8" cy="11.1" r="2"/>
<circle cx="206.3" cy="10.9" r="2"/>
<circle cx="208.4" cy="8.2" r="2"/>
<circle cx="208.2" cy="9.5" r="2"/>
<circle cx="205.7" cy="8.9" r="2"/>
<circle cx="205.9" cy="12.3" r="2"/>
<circle cx="207.1" cy="9.9" r="2"/>
<circle cx="208" cy="11.3" r="2"/>
<circle cx="203.8" cy="8.1" r="2"/>
<circle cx="201.9" cy="8.9" r="2"/>
<circle cx="203" cy="8.6" r="2"/>
<circle cx="203.6" cy="8.4" r="2"/>
<circle cx="201.8" cy="10.9" r="2"/>
<circle cx="201.1" cy="9.8" r="2"/>
<circle cx="200.5" cy="11" r="2"/>
<circle cx="201" cy="10.7" r="2"/>
<circle cx="199.1" cy="11.5" r="2"/>
<circle cx="199.1" cy="11.4" r="2"/>
<circle cx="201.8" cy="8.3" r="2"/>
<circle cx="197.5" cy="11.1" r="2"/>
<circle cx="200.3" cy="9.2" r="2"/>
<circle cx="197.4" cy="13.2" r="2"/>
<circle cx="195.2" cy="11.4" r="2"/>
<circle cx="197.1" cy="8.5" r="2"/>
<circle cx="196.7" cy="12.3" r="2"/>
<circle cx="194.2" cy="9.4" r="2"/>
<circle cx="196.6" cy="11.8" r="2"/>
<circle cx="194.6" cy="8.9" r="2"/>
<circle cx="195.5" cy="8.7" r="2"/>
<circle cx="193.8" cy="11.8" r="2"/>
<circle cx="191.8" cy="13.8" r="2"/>
<circle cx="191.7" cy="11.2" r="2"/>
<circle cx="189.5" cy="9.9" r="2"/>
<circle cx="190.3" cy="9.7" r="2"/>
<circle cx="187.6" cy="13.6" r="2"/>
<circle cx="187.6" cy="12.5" r="2"/>
<circle cx="186.8" cy="11.9" r="2"/>
<circle cx="187.4" cy="11.4" r="2"/>
<circle cx="186.5" cy="10.8" r="2"/>
<circle cx="184.4" cy="9.2" r="2"/>
<circle cx="185.9" cy="13.3" r="2"/>
<circle cx="185.7" cy="10.7" r="2"/>
<circle cx="182.1" cy="12.8" r="2"/>
<circle cx="184.7" cy="12.5" r="2"/>
<circle cx="183.2" cy="13.2" r="2"/>
<circle cx="181.6" cy="13" r="2"/>
<circle cx="183" cy="9.2" r="2"/>
<circle cx="182.8" cy="11.7" r="2"/>
<circle cx="178.8" cy="12.1" r="2"/>
<circle cx="180.6" cy="13.2" r="2"/>
<circle cx="178.3" cy="14.3" r="2"/>
<circle cx="178.4" cy="12.5" r="2"/>
<circle cx="177.8" cy="14.5" r="2"/>
<circle cx="180.3" cy="12.9" r="2"/>
<circle cx="178.5" cy="13.5" r="2"/>
<circle cx="177.9" cy="11.6" r="2"/>
<circle cx="176.5" cy="14.6" r="2"/>
<circle cx="174.6" cy="15.7" r="2"/>
<circle cx="174.2" cy="11.2" r="2"/>
<circle cx="175" cy="14.4" r="2"/>
<circle cx="174.3" cy="16" r="2"/>
<circle cx="172.2" cy="13.9" r="2"/>
<circle cx="175.6" cy="14.5" r="2"/>
<circle cx="176.4" cy="16.1" r="2"/>
<circle cx="172.5" cy="14.6" r="2"/>
<circle cx="169.5" cy="17.8" r="2"/>
<circle cx="171.8" cy="16.2" r="2"/>
<circle cx="172.2" cy="15.7" r="2"/>
<circle cx="169.5" cy="17.2" r="2"/>
<circle cx="169.9" cy="16.2" r="2"/>
<circle cx="168.1" cy="17.3" r="2"/>
<circle cx="169.1" cy="16.3" r="2"/>
<circle cx="166.4" cy="15.4" r="2"/>
<circle cx="168.3" cy="19.9" r="2"/>
<circle cx="167.2" cy="18.5" r="2"/>
<circle cx="164.3" cy="18.2" r="2"/>
<circle cx="166.6" cy="17.4" r="2"/>
<circle cx="165.3" cy="18.2" r="2"/>
<circle cx="165.7" cy="20.3" r="2"/>
<circle cx="164.6" cy="20.1" r="2"/>
<circle cx="163.1" cy="19.1" r="2"/>
<circle cx="163.4" cy="18.7" r="2"/>
<circle cx="162.1" cy="19.3" r="2"/>
<circle cx="163.1" cy="21.9" r="2"/>
<circle cx="160.7" cy="22.3" r="2"/>
<circle cx="159.3" cy="23.2" r="2"/>
<circle cx="159.6" cy="24.9" r="2"/>
<circle cx="162.6" cy="21.6" r="2"/>
<circle cx="160.7" cy="21.3" r="2"/>
<circle cx="160.1" cy="24" r="2"/>
<circle cx="159" cy="25.5" r="2"/>
<circle cx="161.2" cy="25.9" r="2"/>
<circle cx="159.9" cy="22.4" r="2"/>
<circle cx="160.4" cy="27.3" r="2"/>
<circle cx="157.7" cy="27.1" r="2"/>
<circle cx="159.2" cy="25" r="2"/>
<circle cx="157.3" cy="28.2" r="2"/>
<circle cx="157.7" cy="24.7" r="2"/>
<circle cx="157.1" cy="26.7" r="2"/>
<circle cx="157.3" cy="27.1" r="2"/>
<circle cx="156.6" cy="32" r="2"/>
<circle cx="156.4" cy="30.5" r="2"/>
<circle cx="156.9" cy="30.1" r="2"/>
<circle cx="154.3" cy="30.7" r="2"/>
<circle cx="154.4" cy="32.4" r="2"/>
<circle cx="156.3" cy="31.4" r="2"/>
<circle cx="154.5" cy="30.5" r="2"/>
<circle cx="153.6" cy="30" r="2"/>
<circle cx="155.7" cy="33.2" r="2"/>
<circle cx="155" cy="35.4" r="2"/>
<circle cx="154.6" cy="35.8" r="2"/>
<circle cx="153.2" cy="33.5" r="2"/>
<circle cx="152.4" cy="38.7" r="2"/>
<circle cx="152.1" cy="34.7" r="2"/>
<circle cx="149.7" cy="36.4" r="2"/>
<circle cx="153.5" cy="35" r="2"/>
<circle cx="149.2" cy="35.9" r="2"/>
<circle cx="151.1" cy="37.2" r="2"/>
<circle cx="149.9" cy="36.1" r="2"/>
<circle cx="150.6" cy="39" r="2"/>
<circle cx="150" cy="37.1" r="2"/>
<circle cx="148.5" cy="38.4" r="2"/>
<circle cx="150.3" cy="39.6" r="2"/>
<circle cx="148" cy="40.7" r="2"/>
<circle cx="150" cy="37.9" r="2"/>
<circle cx="145.9" cy="40.3" r="2"/>
<circle cx="144.3" cy="43.3" r="2"/>
<circle cx="145.4" cy="38" r="2"/>
<circle cx="146.7" cy="41.5" r="2"/>
<circle cx="141.6" cy="42.8" r="2"/>
<circle cx="145.3" cy="41.2" r="2"/>
<circle cx="145.3" cy="41.7" r="2"/>
<circle cx="142.6" cy="41.6" r="2"/>
<circle cx="141.2" cy="41.6" r="2"/>
<circle cx="142.5" cy="40.3" r="2"/>
<circle cx="140.6" cy="43.3" r="2"/>
<circle cx="143.5" cy="43.7" r="2"/>
<circle cx="142.7" cy="46.5" r="2"/>
<circle cx="142.8" cy="42.6" r="2"/>
<circle cx="141.6" cy="45.9" r="2"/>
<circle cx="141.4" cy="45.5" r="2"/>
<circle cx="139.9" cy="46.7" r="2"/>
<circle cx="142.3" cy="48.2" r="2"/>
<circle cx="141.1" cy="46.1" r="2"/>
<circle cx="141.5" cy="50.6" r="2"/>
<circle cx="140.3" cy="47.6" r="2"/>
<circle cx="139.7" cy="44.6" r="2"/>
<circle cx="141.4" cy="50.2" r="2"/>
<circle cx="137.1" cy="49.2" r="2"/>
<circle cx="143.9" cy="50.7" r="2"/>
<circle cx="139.4" cy="50.2" r="2"/>
<circle cx="144" cy="50" r="2"/>
<circle cx="140.9" cy="54.7" r="2"/>
<circle cx="138.1" cy="53.9" r="2"/>
<circle cx="140" cy="54.3" r="2"/>
<circle cx="140.8" cy="51.5" r="2"/>
<circle cx="141.9" cy="53.8" r="2"/>
<circle cx="141" cy="55.7" r="2"/>
<circle cx="144" cy="55.2" r="2"/>
<circle cx="142.6" cy="52.6" r="2"/>
<circle cx="140.6" cy="56.8" r="2"/>
<circle cx="144" cy="57.1" r="2"/>
<circle cx="142.6" cy="56.9" r="2"/>
<circle cx="142.4" cy="57.9" r="2"/>
<circle cx="143.5" cy="59.7" r="2"/>
<circle cx="143.7" cy="62.4" r="2"/>
<circle cx="142.4" cy="61.8" r="2"/>
<circle cx="141.7" cy="61.2" r="2"/>
<circle cx="141.6" cy="60.7" r="2"/>
<circle cx="142.8" cy="59.6" r="2"/>
<circle cx="141.9" cy="63.3" r="2"/>
<circle cx="147.7" cy="66.1" r="2"/>
<circle cx="147.7" cy="67.2" r="2"/>
<circle cx="148.6" cy="66.3" r="2"/>
<circle cx="147.1" cy="65.7" r="2"/>
<circle cx="142.8" cy="67.7" r="2"/>
<circle cx="145.3" cy="67.4" r="2"/>
<circle cx="143.7" cy="67" r="2"/>
<circle cx="145" cy="64.6" r="2"/>
<circle cx="143.2" cy="64.2" r="2"/>
<circle cx="144.9" cy="66.4" r="2"/>
<circle cx="142.1" cy="65.3" r="2"/>
<circle cx="142.1" cy="63" r="2"/>
<circle cx="140.7" cy="62.8" r="2"/>
<circle cx="141.4" cy="66.1" r="2"/>
<circle cx="143.6" cy="61.9" r="2"/>
<circle cx="138.8" cy="65.6" r="2"/>
<circle cx="138.5" cy="63.8" r="2"/>
<circle cx="139.2" cy="64.9" r="2"/>
<circle cx="135" cy="65.8" r="2"/>
<circle cx="136.7" cy="66.1" r="2"/>
<circle cx="136.7" cy="65.1" r="2"/>
<circle cx="135.2" cy="62.5" r="2"/>
<circle cx="134.4" cy="64.1" r="2"/>
<circle cx="135.8" cy="64.5" r="2"/>
<circle cx="131.8" cy="63.6" r="2"/>
<circle cx="133.9" cy="62.5" r="2"/>
<circle cx="130.7" cy="64.8" r="2"/>
<circle cx="131.3" cy="65.6" r="2"/>
<circle cx="131.2" cy="64.3" r="2"/>
<circle cx="129.5" cy="62.8" r="2"/>
<circle cx="127.6" cy="61.1" r="2"/>
<circle cx="129.2" cy="61.2" r="2"/>
<circle cx="126.6" cy="63" r="2"/>
<circle cx="129.7" cy="60.5" r="2"/>
<circle cx="126.2" cy="61.5" r="2"/>
<circle cx="127.3" cy="60.5" r="2"/>
<circle cx="124.9" cy="63.9" r="2"/>
<circle cx="124.2" cy="63.2" r="2"/>
<circle cx="123.9" cy="63.8" r="2"/>
<circle cx="125.3" cy="62.4" r="2"/>
<circle cx="122.6" cy="64.2" r="2"/>
<circle cx="123" cy="62.1" r="2"/>
<circle cx="121.6" cy="64.7" r="2"/>
<circle cx="122.6" cy="62.4" r="2"/>
<circle cx="120.4" cy="67.4" r="2"/>
<circle cx="119.7" cy="64.8" r="2"/>
<circle cx="116.4" cy="66.1" r="2"/>
<circle cx="114.2" cy="62.9" r="2"/>
<circle cx="120.4" cy="63.4" r="2"/>
<circle cx="116.9" cy="64" r="2"/>
<circle cx="113.8" cy="68.8" r="2"/>
<circle cx="114.9" cy="65.7" r="2"/>
<circle cx="112" cy="65.9" r="2"/>
<circle cx="113.9" cy="64.7" r="2"/>
<circle cx="113.1" cy="64" r="2"/>
<circle cx="111.1" cy="69" r="2"/>
<circle cx="110.2" cy="66" r="2"/>
<circle cx="111.5" cy="67" r="2"/>
<circle cx="110.7" cy="67.1" r="2"/>
<circle cx="109.2" cy="65.1" r="2"/>
<circle cx="108.6" cy="64.5" r="2"/>
<circle cx="108.3" cy="69.1" r="2"/>
<circle cx="107.4" cy="68.2" r="2"/>
<circle cx="104.3" cy="65.3" r="2"/>
<circle cx="106.2" cy="69.4" r="2"/>
<circle cx="105.2" cy="69.7" r="2"/>
<circle cx="106.5" cy="67.4" r="2"/>
<circle cx="102.1" cy="67.4" r="2"/>
<circle cx="107.7" cy="68.8" r="2"/>
<circle cx="103.3" cy="69.7" r="2"/>
<circle cx="102.2" cy="68.7" r="2"/>
<circle cx="101.9" cy="69.5" r="2"/>
<circle cx="100.6" cy="70.4" r="2"/>
<circle cx="100.8" cy="70.9" r="2"/>
<circle cx="98.9" cy="70.8" r="2"/>
<circle cx="102.1" cy="70.7" r="2"/>
<circle cx="98.4" cy="70.7" r="2"/>
<circle cx="99.5" cy="69.9" r="2"/>
<circle cx="98.8" cy="68.3" r="2"/>
<circle cx="95.1" cy="71.1" r="2"/>
<circle cx="95.4" cy="73" r="2"/>
<circle cx="93.7" cy="70.1" r="2"/>
<circle cx="94.8" cy="71.8" r="2"/>
<circle cx="95.5" cy="69.7" r="2"/>
<circle cx="93.5" cy="71.1" r="2"/>
<circle cx="93.4" cy="74.9" r="2"/>
<circle cx="92.4" cy="71.5" r="2"/>
<circle cx="90.9" cy="74.8" r="2"/>
<circle cx="90.7" cy="74.5" r="2"/>
<circle cx="90.5" cy="72.4" r="2"/>
<circle cx="89.3" cy="75.5" r="2"/>
<circle cx="86" cy="73.4" r="2"/>
<circle cx="88.4" cy="75.7" r="2"/>
<circle cx="87.7" cy="74.8" r="2"/>
<circle cx="85.3" cy="76.5" r="2"/>
<circle cx="86.7" cy="74.7" r="2"/>
<circle cx="84.9" cy="74.2" r="2"/>
<circle cx="83.1" cy="73.5" r="2"/>
<circle cx="84.3" cy="73.3" r="2"/>
<circle cx="81.8" cy="74.3" r="2"/>
<circle cx="81" cy="75.7" r="2"/>
<circle cx="83.9" cy="71.4" r="2"/>
<circle cx="78.7" cy="74.6" r="2"/>
<circle cx="83.8" cy="74.3" r="2"/>
<circle cx="79.8" cy="77.2" r="2"/>
<circle cx="79.2" cy="78" r="2"/>
<circle cx="78" cy="74.2" r="2"/>
<circle cx="77" cy="73.8" r="2"/>
<circle cx="79.2" cy="76.3" r="2"/>
<circle cx="75.7" cy="75" r="2"/>
<circle cx="74.2" cy="77.2" r="2"/>
<circle cx="73.7" cy="77.1" r="2"/>
<circle cx="75.9" cy="78" r="2"/>
<circle cx="74.9" cy="78.6" r="2"/>
<circle cx="71.6" cy="77.5" r="2"/>
<circle cx="72.8" cy="77.8" r="2"/>
<circle cx="72.9" cy="77.5" r="2"/>
<circle cx="70.2" cy="79.9" r="2"/>
<circle cx="70.4" cy="77.8" r="2"/>
<circle cx="70.3" cy="79.3" r="2"/>
<circle cx="66.3" cy="80.5" r="2"/>
<circle cx="65.1" cy="76.6" r="2"/>
<circle cx="65.4" cy="77" r="2"/>
<circle cx="70.6" cy="79.5" r="2"/>
<circle cx="66" cy="78.7" r="2"/>
<circle cx="64.3" cy="80.6" r="2"/>
<circle cx="66.5" cy="78.7" r="2"/>
<circle cx="65.5" cy="78.9" r="2"/>
<circle cx="60.2" cy="80.1" r="2"/>
<circle cx="64.2" cy="82.3" r="2"/>
<circle cx="60.9" cy="81.4" r="2"/>
<circle cx="62.2" cy="79.9" r="2"/>
<circle cx="59.6" cy="82.9" r="2"/>
<circle cx="62.1" cy="80" r="2"/>
<circle cx="61.3" cy="82.5" r="2"/>
<circle cx="61.4" cy="83.8" r="2"/>
<circle cx="59.5" cy="81.2" r="2"/>
<circle cx="57.7" cy="82.2" r="2"/>
<circle cx="59.9" cy="81.3" r="2"/>
<circle cx="55" cy="81.2" r="2"/>
<circle cx="55.9" cy="83.3" r="2"/>
<circle cx="56.2" cy="84.8" r="2"/>
<circle cx="53.7" cy="83.9" r="2"/>
<circle cx="148.5" cy="67.4" r="2"/>
<circle cx="148.3" cy="67.4" r="2"/>
<circle cx="153.2" cy="66.8" r="2"/>
<circle cx="151.5" cy="69.3" r="2"/>
<circle cx="150.1" cy="71.5" r="2"/>
<circle cx="151.7" cy="70.9" r="2"/>
<circle cx="152" cy="68.8" r="2"/>
<circle cx="148.9" cy="70.5" r="2"/>
<circle cx="151.6" cy="71.8" r="2"/>
<circle cx="153.5" cy="71.3" r="2"/>
<circle cx="151.3" cy="69.5" r="2"/>
<circle cx="152.3" cy="75.2" r="2"/>
<circle cx="152.4" cy="72.3" r="2"/>
<circle cx="148.7" cy="75.2" r="2"/>
<circle cx="152.1" cy="72.5" r="2"/>
<circle cx="151.8" cy="73.2" r="2"/>
<circle cx="151.3" cy="74.3" r="2"/>
<circle cx="152.7" cy="73.6" r="2"/>
<circle cx="154.2" cy="74.9" r="2"/>
<circle cx="157.4" cy="74.3" r="2"/>
<circle cx="155.6" cy="77.6" r="2"/>
<circle cx="148.6" cy="76.9" r="2"/>
<circle cx="154.8" cy="77.1" r="2"/>
<circle cx="152.3" cy="75.1" r="2"/>
<circle cx="154.7" cy="77.2" r="2"/>
<circle cx="154.7" cy="78.8" r="2"/>
<circle cx="157.3" cy="79.6" r="2"/>
<circle cx="153.4" cy="77.3" r="2"/>
<circle cx="153.7" cy="76.8" r="2"/>
<circle cx="155.2" cy="78.6" r="2"/>
<circle cx="155.8" cy="78.3" r="2"/>
<circle cx="156.4" cy="82" r="2"/>
<circle cx="154.3" cy="82.8" r="2"/>
<circle cx="157.3" cy="82" r="2"/>
<circle cx="156.4" cy="81.5" r="2"/>
<circle cx="160.1" cy="80.3" r="2"/>
<circle cx="156.8" cy="80" r="2"/>
<circle cx="158.4" cy="80.7" r="2"/>
<circle cx="158" cy="83.3" r="2"/>
<circle cx="157.2" cy="82.1" r="2"/>
<circle cx="159.5" cy="83.6" r="2"/>
<circle cx="160.5" cy="84.7" r="2"/>
<circle cx="159.6" cy="83.2" r="2"/>
<circle cx="163.9" cy="80.4" r="2"/>
<circle cx="163" cy="83.7" r="2"/>
<circle cx="162.8" cy="81" r="2"/>
<circle cx="159.5" cy="84.1" r="2"/>
<circle cx="160.3" cy="85.5" r="2"/>
<circle cx="162.1" cy="83.3" r="2"/>
<circle cx="163" cy="84.2" r="2"/>
<circle cx="160.3" cy="82.5" r="2"/>
<circle cx="165.5" cy="83.4" r="2"/>
<circle cx="164" cy="86.2" r="2"/>
<circle cx="164.8" cy="84.8" r="2"/>
<circle cx="165.8" cy="87" r="2"/>
<circle cx="162" cy="85.7" r="2"/>
<circle cx="166.5" cy="85.6" r="2"/>
<circle cx="164.6" cy="84.2" r="2"/>
<circle cx="168.6" cy="86.1" r="2"/>
<circle cx="167.1" cy="85.5" r="2"/>
<circle cx="169.2" cy="84.7" r="2"/>
<circle cx="167.1" cy="82.5" r="2"/>
<circle cx="167" cy="83.9" r="2"/>
<circle cx="166.1" cy="86.8" r="2"/>
<circle cx="171.5" cy="88.8" r="2"/>
<circle cx="170.7" cy="86.5" r="2"/>
<circle cx="172.6" cy="85.9" r="2"/>
<circle cx="172.7" cy="88" r="2"/>
<circle cx="170.8" cy="87.5" r="2"/>
<circle cx="174" cy="87.6" r="2"/>
<circle cx="174.5" cy="85.7" r="2"/>
<circle cx="173.7" cy="85.9" r="2"/>
<circle cx="172.4" cy="87.9" r="2"/>
<circle cx="175.5" cy="92.1" r="2"/>
<circle cx="175.2" cy="87.1" r="2"/>
<circle cx="172.6" cy="86.3" r="2"/>
<circle cx="174.1" cy="90.3" r="2"/>
<circle cx="175" cy="89.9" r="2"/>
<circle cx="174.8" cy="88.7" r="2"/>
<circle cx="176.7" cy="89.2" r="2"/>
<circle cx="175.8" cy="90.3" r="2"/>
<circle cx="178.2" cy="87.7" r="2"/>
<circle cx="175.9" cy="87.7" r="2"/>
<circle cx="176.2" cy="88.4" r="2"/>
<circle cx="177.2" cy="89.4" r="2"/>
<circle cx="179.2" cy="88.7" r="2"/>
<circle cx="178" cy="88.8" r="2"/>
<circle cx="178.5" cy="90.6" r="2"/>
<circle cx="184.3" cy="92.2" r="2"/>
<circle cx="179.3" cy="90.4" r="2"/>
<circle cx="179.6" cy="94.1" r="2"/>
<circle cx="178.5" cy="89.8" r="2"/>
<circle cx="181.8" cy="89.8" r="2"/>
<circle cx="182.1" cy="90.7" r="2"/>
<circle cx="181.3" cy="92.3" r="2"/>
<circle cx="181.6" cy="90.3" r="2"/>
<circle cx="183" cy="91.7" r="2"/>
<circle cx="182.1" cy="90.4" r="2"/>
<circle cx="183.3" cy="93.5" r="2"/>
<circle cx="181.8" cy="95.7" r="2"/>
<circle cx="185.6" cy="92.5" r="2"/>
<circle cx="185.8" cy="93.8" r="2"/>
<circle cx="180.8" cy="92.9" r="2"/>
<circle cx="184.7" cy="94.1" r="2"/>
<circle cx="189" cy="94.2" r="2"/>
<circle cx="190.1" cy="94.9" r="2"/>
<circle cx="185.6" cy="94.4" r="2"/>
<circle cx="184.1" cy="92.8" r="2"/>
<circle cx="187.8" cy="93.6" r="2"/>
<circle cx="186.9" cy="91.6" r="2"/>
<circle cx="191.5" cy="95.1" r="2"/>
<circle cx="184.8" cy="94.4" r="2"/>
<circle cx="189" cy="93.2" r="2"/>
<circle cx="189.9" cy="92.8" r="2"/>
<circle cx="193.5" cy="93.2" r="2"/>
<circle cx="193.4" cy="93.1" r="2"/>
<circle cx="192.7" cy="91.3" r="2"/>
<circle cx="191.3" cy="93.1" r="2"/>
<circle cx="190.7" cy="96.8" r="2"/>
<circle cx="191.5" cy="99" r="2"/>
<circle cx="194.3" cy="94.6" r="2"/>
<circle cx="194.8" cy="93.6" r="2"/>
<circle cx="195.2" cy="92.6" r="2"/>
<circle cx="192.9" cy="94.9" r="2"/>
<circle cx="194.8" cy="96.2" r="2"/>
<circle cx="195.9" cy="95.1" r="2"/>
<circle cx="196.3" cy="92.9" r="2"/>
<circle cx="196.8" cy="94.3" r="2"/>
<circle cx="199" cy="95.6" r="2"/>
<circle cx="196.8" cy="96.6" r="2"/>
<circle cx="196" cy="95.9" r="2"/>
<circle cx="196.5" cy="95.2" r="2"/>
<circle cx="198.8" cy="96.4" r="2"/>
<circle cx="197.2" cy="97.8" r="2"/>
<circle cx="198.2" cy="94.4" r="2"/>
<circle cx="199.2" cy="97.7" r="2"/>
<circle cx="198.6" cy="95.9" r="2"/>
<circle cx="139.8" cy="93.4" r="2"/>
<circle cx="140.3" cy="92" r="2"/>
<circle cx="142.3" cy="88.6" r="2"/>
<circle cx="145.1" cy="91.8" r="2"/>
<circle cx="145.9" cy="94.2" r="2"/>
<circle cx="146.3" cy="89.5" r="2"/>
<circle cx="145.6" cy="91.7" r="2"/>
<circle cx="143.7" cy="89.2" r="2"/>
<circle cx="144.5" cy="87.5" r="2"/>
<circle cx="144.5" cy="87.5" r="2"/>
<circle cx="142" cy="94.5" r="2"/>
<circle cx="145.9" cy="88.7" r="2"/>
<circle cx="148.7" cy="87.4" r="2"/>
<circle cx="145.2" cy="89.1" r="2"/>
<circle cx="150.2" cy="92" r="2"/>
<circle cx="154.3" cy="87.1" r="2"/>
<circle cx="153" cy="87" r="2"/>
<circle cx="153.2" cy="93.9" r="2"/>
<circle cx="146.3" cy="86" r="2"/>
<circle cx="147.9" cy="89" r="2"/>
<circle cx="149.3" cy="89.5" r="2"/>
<circle cx="145.2" cy="85.7" r="2"/>
<circle cx="148.2" cy="87" r="2"/>
<circle cx="151.6" cy="91.4" r="2"/>
<circle cx="150.4" cy="88.6" r="2"/>
<circle cx="146.4" cy="86.9" r="2"/>
<circle cx="152.3" cy="89.5" r="2"/>
<circle cx="152.3" cy="90.9" r="2"/>
<circle cx="155.5" cy="89.3" r="2"/>
<circle cx="154.7" cy="89" r="2"/>
<circle cx="150.4" cy="89" r="2"/>
<circle cx="152.3" cy="86.8" r="2"/>
<circle cx="151.5" cy="85.5" r="2"/>
<circle cx="156.1" cy="92.2" r="2"/>
<circle cx="151.7" cy="89" r="2"/>
<circle cx="154.7" cy="87.1" r="2"/>
<circle cx="156.6" cy="89.2" r="2"/>
<circle cx="156.5" cy="86.6" r="2"/>
<circle cx="149.4" cy="81" r="2"/>
<circle cx="155.4" cy="86.1" r="2"/>
<circle cx="151.1" cy="86.4" r="2"/>
<circle cx="157.8" cy="83.5" r="2"/>
<circle cx="155.8" cy="86.5" r="2"/>
<circle cx="157.9" cy="89.8" r="2"/>
<circle cx="156" cy="82.4" r="2"/>
<circle cx="159.9" cy="85" r="2"/>
<circle cx="153.8" cy="89" r="2"/>
<circle cx="158.8" cy="82.4" r="2"/>
<circle cx="164.4" cy="82.2" r="2"/>
<circle cx="156.6" cy="90.3" r="2"/>
<circle cx="161.9" cy="82.4" r="2"/>
<circle cx="156" cy="89.3" r="2"/>
<circle cx="154.9" cy="85.3" r="2"/>
<circle cx="163" cy="86.9" r="2"/>
<circle cx="161.1" cy="85.9" r="2"/>
<circle cx="161.2" cy="88.5" r="2"/>
<circle cx="160.1" cy="84.9" r="2"/>
<circle cx="155.6" cy="85.3" r="2"/>
<circle cx="159" cy="86.8" r="2"/>
<circle cx="161.6" cy="86.5" r="2"/>
<circle cx="166.5" cy="86" r="2"/>
<circle cx="162" cy="89" r="2"/>
<circle cx="157.7" cy="86.8" r="2"/>
<circle cx="165.2" cy="92.4" r="2"/>
<circle cx="158.6" cy="89.3" r="2"/>
<circle cx="162.2" cy="91.4" r="2"/>
<circle cx="162.2" cy="89.7" r="2"/>
<circle cx="162.5" cy="90.9" r="2"/>
<circle cx="160.6" cy="89.7" r="2"/>
<circle cx="163.4" cy="86.9" r="2"/>
<circle cx="167.3" cy="89.1" r="2"/>
<circle cx="167.3" cy="89.5" r="2"/>
<circle cx="166.2" cy="91.4" r="2"/>
<circle cx="165.5" cy="90.3" r="2"/>
<circle cx="164.8" cy="90.3" r="2"/>
<circle cx="169.1" cy="89" r="2"/>
<circle cx="166" cy="90" r="2"/>
<circle cx="166.8" cy="90" r="2"/>
<circle cx="166.2" cy="95" r="2"/>
<circle cx="171.1" cy="89.2" r="2"/>
<circle cx="169.9" cy="94.9" r="2"/>
<circle cx="171.4" cy="92.4" r="2"/>
<circle cx="163.9" cy="92.5" r="2"/>
<circle cx="169.3" cy="87.1" r="2"/>
<circle cx="167.8" cy="89.9" r="2"/>
<circle cx="166.3" cy="91" r="2"/>
<circle cx="171.1" cy="90.6" r="2"/>
<circle cx="175.1" cy="85.9" r="2"/>
<circle cx="171.7" cy="91.9" r="2"/>
<circle cx="171.8" cy="93" r="2"/>
<circle cx="174.1" cy="96.1" r="2"/>
<circle cx="173.7" cy="94.1" r="2"/>
<circle cx="169.9" cy="92.9" r="2"/>
<circle cx="166.1" cy="93" r="2"/>
<circle cx="176" cy="97.9" r="2"/>
<circle cx="170.6" cy="91.6" r="2"/>
<circle cx="172.8" cy="94.6" r="2"/>
<circle cx="172.2" cy="91.5" r="2"/>
<circle cx="170.1" cy="91" r="2"/>
<circle cx="176.4" cy="90.7" r="2"/>
<circle cx="175.4" cy="97.4" r="2"/>
<circle cx="174.7" cy="90.1" r="2"/>
<circle cx="174.2" cy="97.6" r="2"/>
<circle cx="173.7" cy="91.2" r="2"/>
<circle cx="175" cy="96.4" r="2"/>
<circle cx="163.5" cy="88.9" r="2"/>
<circle cx="148.6" cy="82.6" r="2"/>
<circle cx="153.8" cy="89.7" r="2"/>
<circle cx="155.9" cy="80.5" r="2"/>
<circle cx="171.6" cy="92.3" r="2"/>
<circle cx="167.6" cy="89" r="2"/>
<circle cx="153.1" cy="93.3" r="2"/>
<circle cx="165.7" cy="84" r="2"/>
<circle cx="149.2" cy="79" r="2"/>
<circle cx="149.8" cy="83.9" r="2"/>
<circle cx="162.5" cy="90.3" r="2"/>
<circle cx="169.9" cy="90.3" r="2"/>
<circle cx="167.4" cy="87.4" r="2"/>
<circle cx="154" cy="76.1" r="2"/>
<circle cx="168.4" cy="94.7" r="2"/>
<circle cx="152.8" cy="75" r="2"/>
<circle cx="146.8" cy="90.4" r="2"/>
<circle cx="170.6" cy="94.1" r="2"/>
<circle cx="155.7" cy="89.9" r="2"/>
<circle cx="151.1" cy="75.7" r="2"/>
<circle cx="149.2" cy="69.4" r="2"/>
<circle cx="160.5" cy="86.6" r="2"/>
<circle cx="155.8" cy="91.9" r="2"/>
<circle cx="161.5" cy="94.1" r="2"/>
<circle cx="154.3" cy="80.6" r="2"/>
<circle cx="153" cy="76.3" r="2"/>
<circle cx="156.6" cy="84.2" r="2"/>
<circle cx="161.5" cy="92.2" r="2"/>
<circle cx="169.1" cy="87.1" r="2"/>
<circle cx="165.7" cy="84.6" r="2"/>
<circle cx="152.8" cy="85.3" r="2"/>
<circle cx="150.2" cy="76.5" r="2"/>
<circle cx="173.6" cy="92.1" r="2"/>
<circle cx="154.1" cy="78.7" r="2"/>
<circle cx="149.1" cy="89.8" r="2"/>
<circle cx="147.9" cy="85.3" r="2"/>
<circle cx="165.4" cy="84.8" r="2"/>
<circle cx="161.1" cy="88.7" r="2"/>
<circle cx="152.5" cy="71.4" r="2"/>
<circle cx="156.6" cy="78.2" r="2"/>
<circle cx="150.4" cy="91.2" r="2"/>
<circle cx="148.8" cy="77.2" r="2"/>
<circle cx="151.1" cy="90.7" r="2"/>
<circle cx="155.8" cy="89.8" r="2"/>
<circle cx="147" cy="90.4" r="2"/>
<circle cx="153.3" cy="84.3" r="2"/>
<circle cx="154.9" cy="92.8" r="2"/>
<circle cx="151.3" cy="79.6" r="2"/>
<circle cx="154.6" cy="86" r="2"/>
<circle cx="152" cy="77.8" r="2"/>
<circle cx="163.3" cy="81.9" r="2"/>
<circle cx="148.1" cy="80.3" r="2"/>
<circle cx="174.4" cy="95.2" r="2"/>
<circle cx="149" cy="89.9" r="2"/>
<circle cx="151.6" cy="90.5" r="2"/>
<circle cx="162.8" cy="81.3" r="2"/>
<circle cx="157.3" cy="93.7" r="2"/>
<circle cx="145.9" cy="86.7" r="2"/>
<circle cx="146.8" cy="86.1" r="2"/>
<circle cx="160.1" cy="87.7" r="2"/>
<circle cx="159" cy="80.8" r="2"/>
<circle cx="168.8" cy="91.9" r="2"/>
<circle cx="148" cy="75.2" r="2"/>
<circle cx="163.1" cy="85.7" r="2"/>
<circle cx="149.2" cy="85.6" r="2"/>
<circle cx="154.4" cy="79.6" r="2"/>
<circle cx="169" cy="88.6" r="2"/>
<circle cx="162" cy="88.1" r="2"/>
<circle cx="157.6" cy="93.7" r="2"/>
<circle cx="159.9" cy="94" r="2"/>
<circle cx="160.9" cy="82.4" r="2"/>
<circle cx="156.2" cy="82.8" r="2"/>
<circle cx="154.1" cy="76.1" r="2"/>
<circle cx="153.3" cy="74.4" r="2"/>
<circle cx="151" cy="80.4" r="2"/>
<circle cx="151.4" cy="74.2" r="2"/>
<circle cx="149.9" cy="69" r="2"/>
<circle cx="157.9" cy="78.4" r="2"/>
<circle cx="153.9" cy="87.3" r="2"/>
<circle cx="148.3" cy="74.8" r="2"/>
<circle cx="163.2" cy="90.7" r="2"/>
<circle cx="153.2" cy="75.5" r="2"/>
<circle cx="158.6" cy="79.7" r="2"/>
<circle cx="152.3" cy="74.1" r="2"/>
<circle cx="154.6" cy="76.8" r="2"/>
<circle cx="146.1" cy="88.8" r="2"/>
<circle cx="152" cy="81" r="2"/>
<circle cx="169.1" cy="92.2" r="2"/>
<circle cx="151.4" cy="71.6" r="2"/>
<circle cx="146.4" cy="88.3" r="2"/>
<circle cx="150.4" cy="76.5" r="2"/>
<circle cx="150.1" cy="71.8" r="2"/>
<circle cx="167.7" cy="89.9" r="2"/>
<circle cx="157.4" cy="85.5" r="2"/>
<circle cx="153.5" cy="86.2" r="2"/>
<circle cx="172" cy="93.4" r="2"/>
<circle cx="158.6" cy="86" r="2"/>
<circle cx="167.4" cy="87.1" r="2"/>
<circle cx="151.4" cy="76.7" r="2"/>
<circle cx="161.5" cy="91.7" r="2"/>
<circle cx="163" cy="88.4" r="2"/>
<circle cx="163.6" cy="89.9" r="2"/>
<circle cx="163.5" cy="87.9" r="2"/>
<circle cx="146.6" cy="80.9" r="2"/>
<circle cx="151.6" cy="78.6" r="2"/>
<circle cx="152.7" cy="86.3" r="2"/>
<circle cx="159.4" cy="90" r="2"/>
<circle cx="160.2" cy="93.4" r="2"/>
<circle cx="157.9" cy="79.8" r="2"/>
<circle cx="162.5" cy="87" r="2"/>
<circle cx="168.9" cy="90.2" r="2"/>
<circle cx="155.3" cy="83.1" r="2"/>
<circle cx="157.1" cy="90" r="2"/>
<circle cx="170.3" cy="88.1" r="2"/>
<circle cx="153.7" cy="90.8" r="2"/>
<circle cx="157.8" cy="78.5" r="2"/>
<circle cx="150.6" cy="87.9" r="2"/>
<circle cx="147.1" cy="84.4" r="2"/>
<circle cx="151.8" cy="76.4" r="2"/>
<circle cx="158" cy="80.7" r="2"/>
<circle cx="151.8" cy="87.7" r="2"/>
<circle cx="157.2" cy="89.2" r="2"/>
<circle cx="156.8" cy="78.4" r="2"/>
<circle cx="150.5" cy="76.2" r="2"/>
<circle cx="152.5" cy="82.1" r="2"/>
<circle cx="148.4" cy="73.3" r="2"/>
<circle cx="158.4" cy="82" r="2"/>
<circle cx="162.7" cy="84.8" r="2"/>
<circle cx="156.4" cy="92.1" r="2"/>
<circle cx="152.9" cy="91.7" r="2"/>
<circle cx="158.9" cy="78" r="2"/>
<circle cx="152.7" cy="78.7" r="2"/>
<circle cx="149" cy="88.6" r="2"/>
<circle cx="153.3" cy="92.4" r="2"/>
<circle cx="174.5" cy="93" r="2"/>
<circle cx="157.1" cy="88.8" r="2"/>
<circle cx="149.2" cy="76.5" r="2"/>
<circle cx="166.3" cy="84.9" r="2"/>
<circle cx="150.3" cy="86.5" r="2"/>
<circle cx="176.6" cy="94.8" r="2"/>
<circle cx="155.8" cy="79.8" r="2"/>
<circle cx="170.6" cy="93.6" r="2"/>
<circle cx="156.2" cy="75.9" r="2"/>
<circle cx="165.2" cy="85.7" r="2"/>
<circle cx="153.9" cy="77.7" r="2"/>
<circle cx="150.5" cy="75.5" r="2"/>
<circle cx="170.4" cy="89" r="2"/>
<circle cx="153.2" cy="76.1" r="2"/>
<circle cx="166.6" cy="90.3" r="2"/>
<circle cx="147.9" cy="90" r="2"/>
<circle cx="161.7" cy="85.9" r="2"/>
<circle cx="159" cy="78.7" r="2"/>
<circle cx="148.3" cy="88.4" r="2"/>
<circle cx="162.6" cy="87.7" r="2"/>
<circle cx="153.7" cy="80.5" r="2"/>
<circle cx="171.9" cy="93.9" r="2"/>
<circle cx="169.3" cy="91.7" r="2"/>
<circle cx="170.7" cy="89.5" r="2"/>
<circle cx="161.7" cy="87.5" r="2"/>
<circle cx="154.7" cy="81.6" r="2"/>
<circle cx="168.5" cy="92.2" r="2"/>
<circle cx="147" cy="84.8" r="2"/>
<circle cx="169.9" cy="87.9" r="2"/>
<circle cx="153.5" cy="75.2" r="2"/>
<circle cx="157.2" cy="90.9" r="2"/>
<circle cx="159.2" cy="79.8" r="2"/>
<circle cx="157" cy="89.7" r="2"/>
<circle cx="153.4" cy="87" r="2"/>
<circle cx="147.2" cy="82.3" r="2"/>
<circle cx="159.7" cy="87.9" r="2"/>
<circle cx="159.8" cy="84.6" r="2"/>
<circle cx="168.4" cy="93.6" r="2"/>
<circle cx="149.7" cy="84.5" r="2"/>
<circle cx="173.7" cy="95" r="2"/>
<circle cx="162.3" cy="88" r="2"/>
<circle cx="152.4" cy="89.1" r="2"/>
<circle cx="173.8" cy="92.5" r="2"/>
<circle cx="159" cy="87.5" r="2"/>
<circle cx="158.9" cy="80.7" r="2"/>
<circle cx="164" cy="94" r="2"/>
<circle cx="150.7" cy="79.4" r="2"/>
<circle cx="154.2" cy="85.4" r="2"/>
<circle cx="170.9" cy="92.6" r="2"/>
<circle cx="147.1" cy="78.4" r="2"/>
<circle cx="166" cy="89.6" r="2"/>
<circle cx="148.1" cy="87.8" r="2"/>
<circle cx="155.6" cy="83.9" r="2"/>
<circle cx="154.2" cy="87.1" r="2"/>
<circle cx="154.2" cy="83.4" r="2"/>
<circle cx="175.9" cy="95.9" r="2"/>
<circle cx="172.3" cy="90.3" r="2"/>
<circle cx="157.9" cy="90" r="2"/>
<circle cx="149.2" cy="80.4" r="2"/>
<circle cx="158.4" cy="80.7" r="2"/>
<circle cx="148.8" cy="82.7" r="2"/>
<circle cx="172.3" cy="93.4" r="2"/>
<circle cx="152.1" cy="72.7" r="2"/>
<circle cx="158.3" cy="82.9" r="2"/>
<circle cx="152.4" cy="77.6" r="2"/>
<circle cx="165" cy="91.6" r="2"/>
<circle cx="148.7" cy="80.6" r="2"/>
<circle cx="147.5" cy="83.3" r="2"/>
<circle cx="168.8" cy="86.7" r="2"/>
<circle cx="161.6" cy="80.5" r="2"/>
<circle cx="148.8" cy="91.4" r="2"/>
<circle cx="151" cy="78.7" r="2"/>
<circle cx="160.8" cy="93" r="2"/>
<circle cx="149.6" cy="71.8" r="2"/>
<circle cx="155.6" cy="91.6" r="2"/>
<circle cx="149.4" cy="82.3" r="2"/>
<circle cx="167.9" cy="85.8" r="2"/>
<circle cx="149.7" cy="73.9" r="2"/>
<circle cx="148.5" cy="83.6" r="2"/>
<circle cx="149.2" cy="74.7" r="2"/>
<circle cx="149.6" cy="84.4" r="2"/>
<circle cx="168.2" cy="86.8" r="2"/>
<circle cx="155.8" cy="86" r="2"/>
<circle cx="154.5" cy="85.9" r="2"/>
<circle cx="162.9" cy="92.1" r="2"/>
<circle cx="165.6" cy="86.2" r="2"/>
<circle cx="166.4" cy="84.8" r="2"/>
<circle cx="158.4" cy="91.6" r="2"/>
<circle cx="155.6" cy="79.7" r="2"/>
<circle cx="153.7" cy="90.5" r="2"/>
<circle cx="169.4" cy="93" r="2"/>
<circle cx="167.5" cy="85.9" r="2"/>
<circle cx="154" cy="77.9" r="2"/>
<circle cx="167.1" cy="92.7" r="2"/>
<circle cx="145.1" cy="89.9" r="2"/>
<circle cx="176" cy="94.9" r="2"/>
<circle cx="148.7" cy="78.9" r="2"/>
<circle cx="153.7" cy="74.1" r="2"/>
<circle cx="164.9" cy="87.2" r="2"/>
<circle cx="146" cy="88" r="2"/>
<circle cx="158.5" cy="83.5" r="2"/>
<circle cx="153.2" cy="74.4" r="2"/>
<circle cx="161.3" cy="91.1" r="2"/>
<circle cx="168.7" cy="91.8" r="2"/>
<circle cx="162" cy="81.1" r="2"/>
<circle cx="170.5" cy="93.5" r="2"/>
<circle cx="148.6" cy="77.2" r="2"/>
<circle cx="160.1" cy="90.7" r="2"/>
<circle cx="162.5" cy="84.4" r="2"/>
<circle cx="150" cy="77.1" r="2"/>
<circle cx="173.3" cy="93.8" r="2"/>
<circle cx="167.6" cy="89.1" r="2"/>
<circle cx="161.7" cy="82.9" r="2"/>
<circle cx="150.8" cy="78.1" r="2"/>
<circle cx="161.3" cy="86.7" r="2"/>
<circle cx="164.4" cy="91.6" r="2"/>
<circle cx="173.7" cy="92.5" r="2"/>
<circle cx="166.4" cy="94.3" r="2"/>
<circle cx="158.8" cy="93.1" r="2"/>
<circle cx="149.7" cy="68.9" r="2"/>
<circle cx="168.2" cy="87.3" r="2"/>
<circle cx="148" cy="80.9" r="2"/>
<circle cx="165" cy="88.8" r="2"/>
<circle cx="152.7" cy="86.5" r="2"/>
<circle cx="155.9" cy="76.8" r="2"/>
<circle cx="158.8" cy="86.1" r="2"/>
<circle cx="184.4" cy="102.3" r="2"/>
<circle cx="184.9" cy="104.3" r="2"/>
<circle cx="184.8" cy="103.2" r="2"/>
<circle cx="183.7" cy="102.3" r="2"/>
<circle cx="183.1" cy="101.6" r="2"/>
<circle cx="184.5" cy="102.4" r="2"/>
<circle cx="185" cy="104.5" r="2"/>
<circle cx="184.4" cy="104.8" r="2"/>
<circle cx="184.7" cy="107.3" r="2"/>
<circle cx="186.3" cy="105" r="2"/>
<circle cx="186.4" cy="106.1" r="2"/>
<circle cx="187.4" cy="106.9" r="2"/>
<circle cx="188.8" cy="106.9" r="2"/>
<circle cx="186.4" cy="108" r="2"/>
<circle cx="186.6" cy="108.6" r="2"/>
<circle cx="188.1" cy="109.5" r="2"/>
<circle cx="188.1" cy="109.6" r="2"/>
<circle cx="188" cy="109.2" r="2"/>
<circle cx="189" cy="110.9" r="2"/>
<circle cx="188.6" cy="110.7" r="2"/>
<circle cx="190.8" cy="109.9" r="2"/>
<circle cx="190.1" cy="112.6" r="2"/>
<circle cx="189.7" cy="112.9" r="2"/>
<circle cx="189.1" cy="112.9" r="2"/>
<circle cx="191.8" cy="114.3" r="2"/>
<circle cx="187.6" cy="114.5" r="2"/>
<circle cx="190.6" cy="115.4" r="2"/>
<circle cx="189.6" cy="113.8" r="2"/>
<circle cx="191" cy="114.2" r="2"/>
<circle cx="189.8" cy="113.7" r="2"/>
<circle cx="190.6" cy="116.2" r="2"/>
<circle cx="189.8" cy="117.8" r="2"/>
<circle cx="193" cy="117.1" r="2"/>
<circle cx="193.7" cy="117.6" r="2"/>
<circle cx="193.9" cy="119.6" r="2"/>
<circle cx="194.3" cy="117.6" r="2"/>
<circle cx="193.4" cy="118.3" r="2"/>
<circle cx="191.6" cy="118.5" r="2"/>
<circle cx="192.2" cy="118" r="2"/>
<circle cx="191.8" cy="119.3" r="2"/>
<circle cx="193.9" cy="119.1" r="2"/>
<circle cx="193.8" cy="119.8" r="2"/>
<circle cx="192.7" cy="121.5" r="2"/>
<circle cx="194.6" cy="121.1" r="2"/>
<circle cx="194.2" cy="122.2" r="2"/>
<circle cx="194.6" cy="121.6" r="2"/>
<circle cx="194.7" cy="122.3" r="2"/>
<circle cx="195.4" cy="123" r="2"/>
<circle cx="194.7" cy="124.3" r="2"/>
<circle cx="194.3" cy="124" r="2"/>
<circle cx="197" cy="125.2" r="2"/>
<circle cx="195.7" cy="124.5" r="2"/>
<circle cx="196.9" cy="126" r="2"/>
<circle cx="195.3" cy="125.7" r="2"/>
<circle cx="196.6" cy="126.7" r="2"/>
<circle cx="198.9" cy="126.6" r="2"/>
<circle cx="196.5" cy="126.6" r="2"/>
<circle cx="198.3" cy="127.1" r="2"/>
<circle cx="197" cy="127" r="2"/>
<circle cx="198.3" cy="128.3" r="2"/>
<circle cx="199" cy="127.5" r="2"/>
<circle cx="197.6" cy="131.2" r="2"/>
<circle cx="200" cy="131.4" r="2"/>
<circle cx="198.8" cy="130.4" r="2"/>
<circle cx="199.2" cy="130.8" r="2"/>
<circle cx="200.3" cy="131.8" r="2"/>
<circle cx="197.9" cy="133" r="2"/>
<circle cx="199.7" cy="134.1" r="2"/>
<circle cx="201.8" cy="136.1" r="2"/>
<circle cx="200.2" cy="133.3" r="2"/>
<circle cx="199.5" cy="135.4" r="2"/>
<circle cx="201.9" cy="135" r="2"/>
<circle cx="201.6" cy="136" r="2"/>
<circle cx="200.6" cy="135.8" r="2"/>
<circle cx="201" cy="138.2" r="2"/>
<circle cx="199.7" cy="137.4" r="2"/>
<circle cx="191.4" cy="79.9" r="2"/>
<circle cx="179" cy="107.2" r="2"/>
<circle cx="95.9" cy="78.9" r="2"/>
<circle cx="99.6" cy="79.9" r="2"/>
<circle cx="92.7" cy="76.4" r="2"/>
<circle cx="275.8" cy="6.9" r="2"/>
<circle cx="241" cy="16.1" r="2"/>
<circle cx="321.7" cy="167.5" r="2"/>
<circle cx="296.8" cy="193.1" r="2"/>
<circle cx="299.3" cy="186.8" r="2"/>
<circle cx="308" cy="190.6" r="2"/>
<circle cx="311.7" cy="189.8" r="2"/>
<circle cx="308" cy="185.6" r="2"/>
<circle cx="313" cy="185.6" r="2"/>
<circle cx="293.1" cy="186.8" r="2"/>
<circle cx="59.4" cy="115.4" r="2"/>
<circle cx="59.4" cy="163.3" r="2"/>
<circle cx="73.6" cy="165.8" r="2"/>
<circle cx="78.5" cy="167.5" r="2"/>
<circle cx="86" cy="176.9" r="2"/>
<circle cx="104.1" cy="206.2" r="2"/>
<circle cx="129.9" cy="165.8" r="2"/>
<circle cx="134.9" cy="160.8" r="2"/>
<circle cx="141.3" cy="165.8" r="2"/>
<circle cx="153.7" cy="159.1" r="2"/>
<circle cx="157.9" cy="159.1" r="2"/>
<circle cx="156.7" cy="175.7" r="2"/>
<circle cx="190.2" cy="162" r="2"/>
<circle cx="160.4" cy="196" r="2"/>
<circle cx="159.2" cy="203" r="2"/>
<circle cx="157.9" cy="205.5" r="2"/>
<circle cx="161.7" cy="207.9" r="2"/>
<circle cx="166.6" cy="207.2" r="2"/>
<circle cx="162.9" cy="210.4" r="2"/>
<circle cx="161.7" cy="213.6" r="2"/>
</g></g>
<path d="M51.9 308.2v-3M51.9 1.3v3M101.2 308.2v-3M101.2 1.3v3M150.5 308.2v-3M150.5 1.3v3M199.7 308.2v-3M199.7 1.3v3M249 308.2v-3M249 1.3v3M298.3 308.2v-3M298.3 1.3v3M347.6 308.2v-3M347.6 1.3v3M396.9 308.2v-3M396.9 1.3v3M446.1 308.2v-3M446.1 1.3v3M495.4 308.2v-3M495.4 1.3v3M544.7 308.2v-3M544.7 1.3v3M594 308.2v-3M594 1.3v3M643.3 308.2v-3M643.3 1.3v3M51.9 308.2h3M683.3 308.2h-3M51.9 286.9h3M683.3 286.9h-3M51.9 265.6h3M683.3 265.6h-3M51.9 244.3h3M683.3 244.3h-3M51.9 222.9h3M683.3 222.9h-3M51.9 201.6h3M683.3 201.6h-3M51.9 180.3h3M683.3 180.3h-3M51.9 159h3M683.3 159h-3M51.9 137.7h3M683.3 137.7h-3M51.9 116.4h3M683.3 116.4h-3M51.9 95.1h3M683.3 95.1h-3M51.9 73.8h3M683.3 73.8h-3M51.9 52.4h3M683.3 52.4h-3M51.9 31.1h3M683.3 31.1h-3M51.9 9.8h3M683.3 9.8h-3" stroke="#6e6e6e" stroke-width="1" fill="none"/>
<rect x="51.9" y="1.3" width="631.4" height="306.9" fill="none" stroke="#6e6e6e" stroke-width="1.1"/>
<text class="t" x="51.9" y="319.1" text-anchor="middle">0</text>
<text class="t" x="101.2" y="319.1" text-anchor="middle">100</text>
<text class="t" x="150.5" y="319.1" text-anchor="middle">200</text>
<text class="t" x="199.7" y="319.1" text-anchor="middle">300</text>
<text class="t" x="249" y="319.1" text-anchor="middle">400</text>
<text class="t" x="298.3" y="319.1" text-anchor="middle">500</text>
<text class="t" x="347.6" y="319.1" text-anchor="middle">600</text>
<text class="t" x="396.9" y="319.1" text-anchor="middle">700</text>
<text class="t" x="446.1" y="319.1" text-anchor="middle">800</text>
<text class="t" x="495.4" y="319.1" text-anchor="middle">900</text>
<text class="t" x="544.7" y="319.1" text-anchor="middle">1000</text>
<text class="t" x="594" y="319.1" text-anchor="middle">1100</text>
<text class="t" x="643.3" y="319.1" text-anchor="middle">1200</text>
<text class="t" x="48.5" y="312.5" text-anchor="end">0</text>
<text class="t" x="48.5" y="291.2" text-anchor="end">50</text>
<text class="t" x="48.5" y="269.9" text-anchor="end">100</text>
<text class="t" x="48.5" y="248.6" text-anchor="end">150</text>
<text class="t" x="48.5" y="227.2" text-anchor="end">200</text>
<text class="t" x="48.5" y="205.9" text-anchor="end">250</text>
<text class="t" x="48.5" y="184.6" text-anchor="end">300</text>
<text class="t" x="48.5" y="163.3" text-anchor="end">350</text>
<text class="t" x="48.5" y="142" text-anchor="end">400</text>
<text class="t" x="48.5" y="120.7" text-anchor="end">450</text>
<text class="t" x="48.5" y="99.4" text-anchor="end">500</text>
<text class="t" x="48.5" y="78.1" text-anchor="end">550</text>
<text class="t" x="48.5" y="56.7" text-anchor="end">600</text>
<text class="t" x="48.5" y="35.4" text-anchor="end">650</text>
<text class="t" x="48.5" y="14.1" text-anchor="end">700</text>
<text class="b" x="367.2" y="338.9" text-anchor="middle">X Position (Pixels)</text>
<text class="b" transform="translate(13.3 155) rotate(-90)" text-anchor="middle">Y Position (Pixels)</text>
<text class="c" x="367.3" y="358.6" text-anchor="middle">(a)</text>
<rect x="603.7" y="249.6" width="73.8" height="52.5" rx="2.2" fill="#fff" fill-opacity=".8" stroke="#d4d4d4" stroke-width="1"/>
<circle cx="619.4" cy="260.1" r="2.2" fill="#db5f57" stroke="#fff" stroke-width=".4"/>
<text class="l" x="639.3" y="263">Goal 1</text>
<circle cx="619.4" cy="276.4" r="2.2" fill="#57db5f" stroke="#fff" stroke-width=".4"/>
<text class="l" x="639.3" y="279.3">Goal 2</text>
<circle cx="619.4" cy="292.7" r="2.2" fill="#5f57db" stroke="#fff" stroke-width=".4"/>
<text class="l" x="639.3" y="295.6">Path</text>
<g clip-path="url(#c2)"><path d="M48.6 497.7L49.9 497.7L51.1 681.6L52.3 497.7L53.5 589.7L54.7 589.7L55.9 589.7L57.1 589.7L58.3 589.7L59.6 589.7L60.8 589.7L62 497.7L63.2 589.7L64.4 589.7L65.6 589.7L66.8 497.7L68 497.7L69.3 589.7L70.5 497.7L71.7 589.7L72.9 589.7L74.1 497.7L75.3 497.7L76.5 497.7L77.8 681.6L79 620.3L80.2 589.7L81.4 589.7L82.6 589.7L83.8 589.7L85 589.7L86.2 589.7L87.4 589.7L88.7 497.7L89.9 497.7L91.1 497.7L92.3 497.7L93.5 497.7L94.7 497.7L95.9 589.7L97.2 589.7L98.4 589.7L99.6 620.3L100.8 497.7L102 681.6L103.2 497.7L104.4 497.7L105.6 651L106.8 497.7L108.1 497.7L109.3 497.7L110.5 497.7L111.7 620.3L112.9 528.3L114.1 620.3L115.3 681.6L116.5 681.6L117.8 589.7L119 497.7L120.2 681.6L121.4 497.7L122.6 528.3L123.8 436.4L125 528.3L126.2 405.7L127.5 405.7L128.7 681.6L129.9 405.7L131.1 681.6L132.3 589.7L133.5 681.6L134.7 589.7L135.9 528.3L137.2 436.4L138.4 681.6L139.6 497.7L140.8 405.7L142 405.7L143.2 559L144.4 405.7L145.7 436.4L146.9 436.4L148.1 497.7L149.3 436.4L150.5 497.7L151.7 681.6L152.9 405.7L154.1 589.7L155.3 405.7L156.6 405.7L157.8 405.7L159 405.7L160.2 405.7L161.4 589.7L162.6 405.7L163.8 497.7L165 497.7L166.3 497.7L167.5 497.7L168.7 497.7L169.9 497.7L171.1 651L172.3 497.7L173.5 405.7L174.8 405.7L176 528.3L177.2 497.7L178.4 405.7L179.6 405.7L180.8 528.3L182 467L183.2 497.7L184.4 681.6L185.7 497.7L186.9 681.6L188.1 528.3L189.3 497.7L190.5 528.3L191.7 405.7L192.9 559L194.2 405.7L195.4 528.3L196.6 405.7L197.8 528.3L199 497.7L200.2 497.7L201.4 497.7L202.6 467L203.8 497.7L205.1 467L206.3 467L207.5 436.4L208.7 405.7L209.9 405.7L211.1 405.7L212.3 405.7L213.5 405.7L214.8 405.7L216 497.7L217.2 467L218.4 497.7L219.6 467L220.8 467L222 467L223.2 467L224.5 436.4L225.7 589.7L226.9 405.7L228.1 405.7L229.3 405.7L230.5 405.7L231.7 405.7L232.9 467L234.2 528.3L235.4 467L236.6 467L237.8 467L239 467L240.2 589.7L241.4 467L242.7 589.7L243.9 405.7L245.1 559L246.3 405.7L247.5 528.3L248.7 620.3L249.9 405.7L251.1 497.7L252.3 467L253.6 497.7L254.8 497.7L256 497.7L257.2 528.3L258.4 405.7L259.6 467L260.8 405.7L262 620.3L263.3 620.3L264.5 528.3L265.7 405.7L266.9 405.7L268.1 467L269.3 528.3L270.5 497.7L271.8 497.7L273 497.7L274.2 467L275.4 467L276.6 681.6L277.8 528.3L279 405.7L280.2 405.7L281.4 405.7L282.7 405.7L283.9 436.4L285.1 467L286.3 528.3L287.5 405.7L288.7 528.3L289.9 497.7L291.1 467L292.4 589.7L293.6 405.7L294.8 405.7L296 528.3L297.2 497.7L298.4 528.3L299.6 405.7L300.8 589.7L302.1 405.7L303.3 589.7L304.5 497.7L305.7 497.7L306.9 467L308.1 497.7L309.3 405.7L310.5 497.7L311.8 497.7L313 405.7L314.2 405.7L315.4 589.7L316.6 405.7L317.8 559L319 497.7L320.2 497.7L321.5 589.7L322.7 405.7L323.9 497.7L325.1 467L326.3 497.7L327.5 467L328.7 528.3L329.9 405.7L331.2 405.7L332.4 497.7L333.6 405.7L334.8 497.7L336 405.7L337.2 405.7L338.4 497.7L339.6 497.7L340.9 620.3L342.1 405.7L343.3 497.7L344.5 589.7L345.7 405.7L346.9 497.7L348.1 559L349.3 497.7L350.6 405.7L351.8 405.7L353 497.7L354.2 528.3L355.4 497.7L356.6 589.7L357.8 405.7L359 497.7L360.3 620.3L361.5 528.3L362.7 559L363.9 405.7L365.1 467L366.3 405.7L367.5 497.7L368.7 559L370 497.7L371.2 405.7L372.4 405.7L373.6 620.3L374.8 528.3L376 497.7L377.2 681.6L378.4 405.7L379.7 467L380.9 405.7L382.1 497.7L383.3 559L384.5 497.7L385.7 405.7L386.9 405.7L388.1 528.3L389.4 497.7L390.6 497.7L391.8 528.3L393 651L394.2 497.7L395.4 405.7L396.6 497.7L397.8 405.7L399.1 559L400.3 405.7L401.5 497.7L402.7 405.7L403.9 497.7L405.1 497.7L406.3 405.7L407.5 497.7L408.8 497.7L410 528.3L411.2 589.7L412.4 497.7L413.6 497.7L414.8 405.7L416 528.3L417.2 497.7L418.5 405.7L419.7 497.7L420.9 589.7L422.1 405.7L423.3 497.7L424.5 528.3L425.7 497.7L426.9 497.7L428.2 497.7L429.4 681.6L430.6 405.7L431.8 589.7L433 467L434.2 528.3L435.4 405.7L436.6 497.7L437.9 589.7L439.1 405.7L440.3 528.3L441.5 405.7L442.7 405.7L443.9 528.3L445.1 497.7L446.3 497.7L447.6 467L448.8 497.7L450 405.7L451.2 528.3L452.4 528.3L453.6 405.7L454.8 528.3L456 405.7L457.3 528.3L458.5 528.3L459.7 528.3L460.9 467L462.1 497.7L463.3 497.7L464.5 467L465.7 528.3L467 528.3L468.2 589.7L469.4 497.7L470.6 405.7L471.8 497.7L473 528.3L474.2 497.7L475.4 559L476.7 405.7L477.9 497.7L479.1 528.3L480.3 528.3L481.5 528.3L482.7 651L483.9 528.3L485.1 405.7L486.4 528.3L487.6 405.7L488.8 528.3L490 405.7L491.2 497.7L492.4 589.7L493.6 497.7L494.8 528.3L496.1 405.7L497.3 681.6L498.5 405.7L499.7 497.7L500.9 589.7L502.1 405.7L503.3 497.7L504.5 405.7L505.8 528.3L507 405.7L508.2 497.7L509.4 528.3L510.6 405.7L511.8 497.7L513 405.7L514.2 528.3L515.5 467L516.7 497.7L517.9 589.7L519.1 405.7L520.3 528.3L521.5 405.7L522.7 497.7L523.9 528.3L525.2 405.7L526.4 528.3L527.6 405.7L528.8 497.7L530 559L531.2 497.7L532.4 528.3L533.6 405.7L534.9 528.3L536.1 497.7L537.3 405.7L538.5 528.3L539.7 405.7L540.9 528.3L542.1 528.3L543.4 405.7L544.6 497.7L545.8 559L547 497.7L548.2 405.7L549.4 528.3L550.6 405.7L551.8 528.3L553 497.7L554.3 405.7L555.5 589.7L556.7 405.7L557.9 497.7L559.1 528.3L560.3 528.3L561.5 528.3L562.7 620.3L564 405.7L565.2 528.3L566.4 528.3L567.6 528.3L568.8 405.7L570 528.3L571.2 405.7L572.4 497.7L573.7 559L574.9 405.7L576.1 497.7L577.3 589.7L578.5 405.7L579.7 528.3L580.9 405.7L582.1 620.3L583.4 405.7L584.6 405.7L585.8 497.7L587 405.7L588.2 559L589.4 405.7L590.6 405.7L591.8 528.3L593.1 405.7L594.3 528.3L595.5 405.7L596.7 497.7L597.9 589.7L599.1 405.7L600.3 497.7L601.5 405.7L602.8 528.3L604 405.7L605.2 528.3L606.4 405.7L607.6 528.3L608.8 405.7L610 497.7L611.2 559L612.5 405.7L613.7 497.7L614.9 528.3L616.1 405.7L617.3 559L618.5 497.7L619.7 405.7L620.9 589.7L622.2 405.7L623.4 528.3L624.6 405.7L625.8 528.3L627 405.7L628.2 497.7L629.4 497.7L630.6 405.7L631.9 497.7L633.1 559L634.3 528.3L635.5 589.7L636.7 405.7L637.9 497.7L639.1 405.7L640.3 497.7L641.6 559L642.8 405.7L644 497.7L645.2 405.7L646.4 497.7L647.6 559L648.8 528.3L650 589.7L651.3 405.7L652.5 497.7L653.7 405.7L654.9 497.7L656.1 559L657.3 405.7L658.5 528.3L659.7 405.7L661 497.7L662.2 559L663.4 405.7L664.6 559L665.8 405.7L667 497.7L668.2 405.7L669.4 497.7L670.7 559L671.9 405.7L673.1 497.7L674.3 405.7L675.5 497.7L676.7 559L677.9 405.7L679.1 405.7L680.4 559" fill="none" stroke="#5f57db" stroke-width=".95" stroke-linejoin="round"/></g>
<path d="M48.6 697.6v-3M48.6 390.8v3M79 697.6v-3M79 390.8v3M109.3 697.6v-3M109.3 390.8v3M139.6 697.6v-3M139.6 390.8v3M169.9 697.6v-3M169.9 390.8v3M200.2 697.6v-3M200.2 390.8v3M230.5 697.6v-3M230.5 390.8v3M260.8 697.6v-3M260.8 390.8v3M291.1 697.6v-3M291.1 390.8v3M321.5 697.6v-3M321.5 390.8v3M351.8 697.6v-3M351.8 390.8v3M382.1 697.6v-3M382.1 390.8v3M412.4 697.6v-3M412.4 390.8v3M442.7 697.6v-3M442.7 390.8v3M473 697.6v-3M473 390.8v3M503.3 697.6v-3M503.3 390.8v3M533.6 697.6v-3M533.6 390.8v3M564 697.6v-3M564 390.8v3M594.3 697.6v-3M594.3 390.8v3M624.6 697.6v-3M624.6 390.8v3M654.9 697.6v-3M654.9 390.8v3M48.5 681.6h3M680.6 681.6h-3M48.5 651h3M680.6 651h-3M48.5 620.3h3M680.6 620.3h-3M48.5 589.7h3M680.6 589.7h-3M48.5 559h3M680.6 559h-3M48.5 528.3h3M680.6 528.3h-3M48.5 497.7h3M680.6 497.7h-3M48.5 467h3M680.6 467h-3M48.5 436.4h3M680.6 436.4h-3M48.5 405.7h3M680.6 405.7h-3" stroke="#6e6e6e" stroke-width="1" fill="none"/>
<rect x="48.5" y="390.8" width="632.1" height="306.8" fill="none" stroke="#6e6e6e" stroke-width="1.1"/>
<text class="t" x="48.6" y="708" text-anchor="middle">0</text>
<text class="t" x="79" y="708" text-anchor="middle">25</text>
<text class="t" x="109.3" y="708" text-anchor="middle">50</text>
<text class="t" x="139.6" y="708" text-anchor="middle">75</text>
<text class="t" x="169.9" y="708" text-anchor="middle">100</text>
<text class="t" x="200.2" y="708" text-anchor="middle">125</text>
<text class="t" x="230.5" y="708" text-anchor="middle">150</text>
<text class="t" x="260.8" y="708" text-anchor="middle">175</text>
<text class="t" x="291.1" y="708" text-anchor="middle">200</text>
<text class="t" x="321.5" y="708" text-anchor="middle">225</text>
<text class="t" x="351.8" y="708" text-anchor="middle">250</text>
<text class="t" x="382.1" y="708" text-anchor="middle">275</text>
<text class="t" x="412.4" y="708" text-anchor="middle">300</text>
<text class="t" x="442.7" y="708" text-anchor="middle">325</text>
<text class="t" x="473" y="708" text-anchor="middle">350</text>
<text class="t" x="503.3" y="708" text-anchor="middle">375</text>
<text class="t" x="533.6" y="708" text-anchor="middle">400</text>
<text class="t" x="564" y="708" text-anchor="middle">425</text>
<text class="t" x="594.3" y="708" text-anchor="middle">450</text>
<text class="t" x="624.6" y="708" text-anchor="middle">475</text>
<text class="t" x="654.9" y="708" text-anchor="middle">500</text>
<text class="t" x="45.7" y="685.9" text-anchor="end">110</text>
<text class="t" x="45.7" y="655.3" text-anchor="end">120</text>
<text class="t" x="45.7" y="624.6" text-anchor="end">130</text>
<text class="t" x="45.7" y="594" text-anchor="end">140</text>
<text class="t" x="45.7" y="563.3" text-anchor="end">150</text>
<text class="t" x="45.7" y="532.6" text-anchor="end">160</text>
<text class="t" x="45.7" y="502" text-anchor="end">170</text>
<text class="t" x="45.7" y="471.3" text-anchor="end">180</text>
<text class="t" x="45.7" y="440.7" text-anchor="end">190</text>
<text class="t" x="45.7" y="410" text-anchor="end">200</text>
<text class="b" x="364.6" y="726.4" text-anchor="middle">Steps</text>
<text class="b" transform="translate(10.6 545) rotate(-90)" text-anchor="middle">Tail Stroke Time (ms)</text>
<text class="c" x="366.3" y="745.6" text-anchor="middle">(b)</text>
</svg></body></html>
